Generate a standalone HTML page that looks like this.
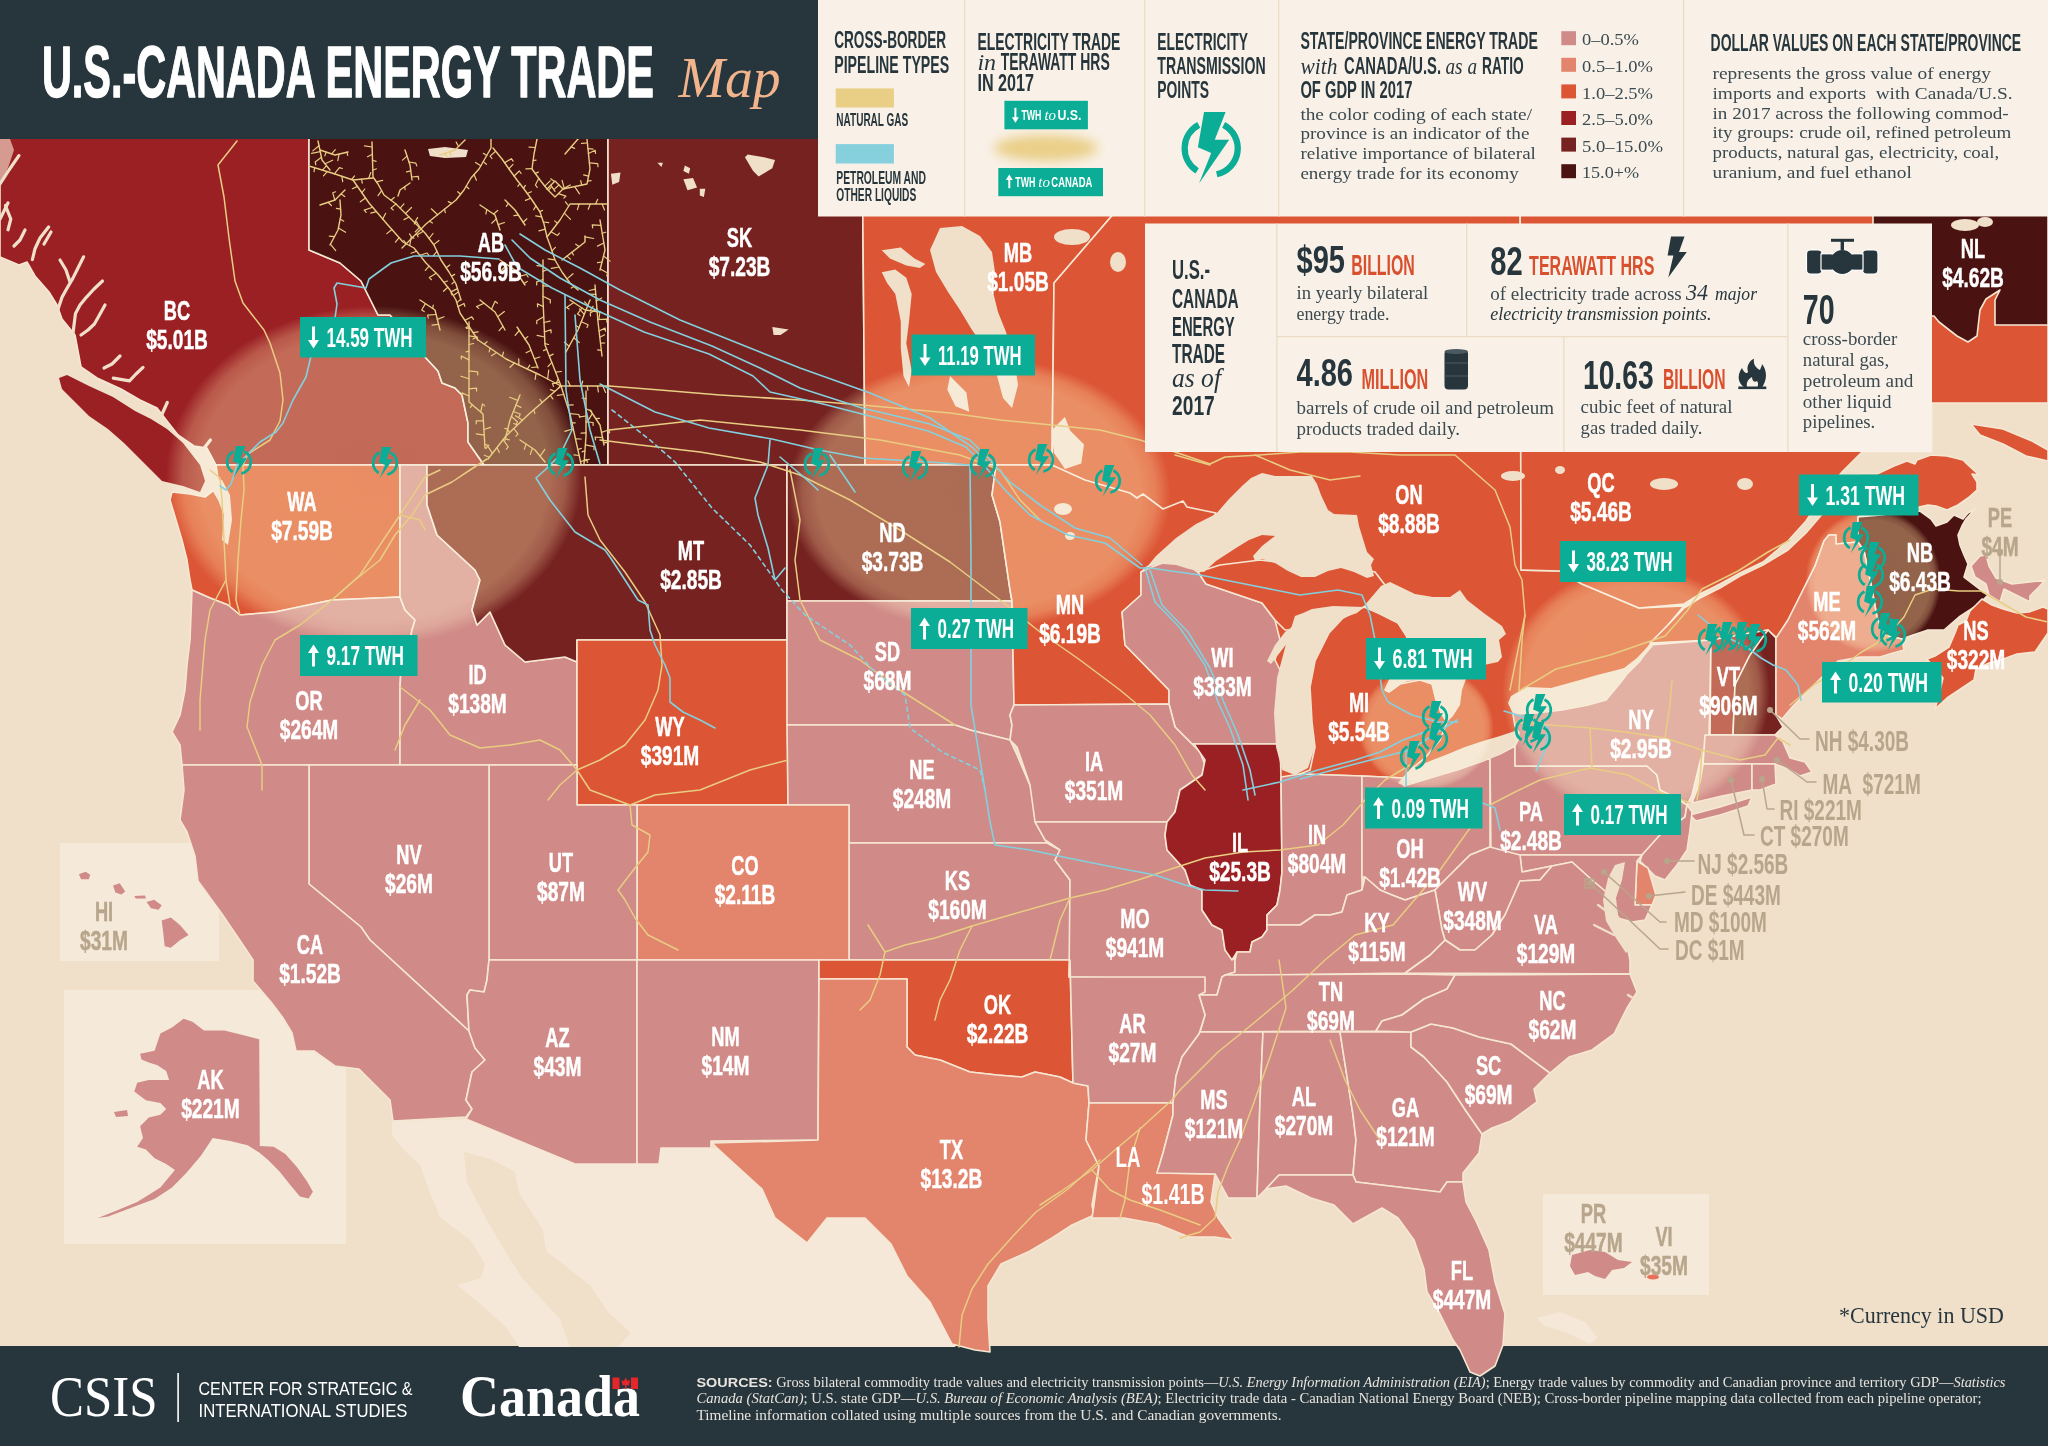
<!DOCTYPE html>
<html><head><meta charset="utf-8"><title>U.S.-Canada Energy Trade Map</title><style>html,body{margin:0;padding:0;background:#f0dfc9;}svg{display:block;}</style></head><body><svg xmlns="http://www.w3.org/2000/svg" width="2048" height="1446" viewBox="0 0 2048 1446"><rect x="0" y="0" width="2048" height="1446" fill="#f0dfc9"/>
<rect x="0" y="1346" width="2048" height="100" fill="#27363c"/>
<polygon points="392.0,1114.0 393.0,1121.0 466.0,1119.0 575.0,1164.0 637.0,1164.0 659.0,1164.0 661.0,1148.0 711.0,1148.0 717.0,1148.0 762.0,1189.0 775.0,1218.0 807.0,1243.0 827.0,1218.0 865.0,1218.0 891.0,1244.0 907.0,1276.0 930.0,1302.0 952.0,1344.0 956.0,1347.0 519.0,1347.0 505.0,1326.0 478.0,1302.0 457.0,1285.0 481.0,1278.0 485.0,1264.0 471.0,1241.0 440.0,1217.0 430.0,1193.0 420.0,1165.0 402.0,1148.0 392.0,1135.0" fill="#f5e8d8" />
<polygon points="464.0,1152.0 491.0,1159.0 515.0,1172.0 519.0,1193.0 543.0,1230.0 546.0,1251.0 590.0,1285.0 608.0,1312.0 631.0,1333.0 618.0,1347.0 570.0,1347.0 560.0,1319.0 522.0,1278.0 505.0,1251.0 485.0,1217.0 467.0,1182.0" fill="#f0dfc9" />
<polygon points="1537,1318 1560,1312 1585,1322 1598,1338 1590,1344 1565,1332 1545,1326" fill="#f5e8d8"/>
<rect x="60" y="843" width="159" height="118" fill="#f5e9da"/>
<rect x="64" y="990" width="282" height="254" fill="#f5e9da"/>
<rect x="1543" y="1194" width="166" height="101" fill="#f5e9da"/>
<polygon points="0.0,125.0 309.0,125.0 309.0,250.0 340.0,263.0 361.0,281.0 378.0,315.0 390.0,315.0 425.0,357.0 438.0,371.0 442.0,383.0 455.0,388.0 462.0,395.0 468.0,423.0 468.0,442.0 484.0,465.0 216.0,465.0 207.0,448.0 194.0,446.0 178.0,435.0 167.0,421.0 157.0,408.0 140.0,400.0 121.0,389.0 97.0,378.0 81.0,367.0 78.0,351.0 75.0,335.0 62.0,319.0 57.0,305.0 49.0,292.0 35.0,276.0 27.0,262.0 19.0,265.0 0.0,257.0" fill="#9b2024" stroke="#f6e7d3" stroke-width="1.6" stroke-linejoin="round" />
<polygon points="309.0,125.0 608.0,125.0 608.0,465.0 484.0,465.0 468.0,442.0 468.0,423.0 462.0,395.0 455.0,388.0 442.0,383.0 438.0,371.0 425.0,357.0 390.0,315.0 378.0,315.0 361.0,281.0 340.0,263.0 309.0,250.0" fill="#4a1312" stroke="#f6e7d3" stroke-width="1.6" stroke-linejoin="round" />
<polygon points="608.0,125.0 862.0,125.0 865.0,465.0 608.0,465.0" fill="#752221" stroke="#f6e7d3" stroke-width="1.6" stroke-linejoin="round" />
<polygon points="862.0,125.0 1190.0,125.0 1054.0,283.0 1052.0,465.0 865.0,465.0" fill="#dc5535" stroke="#f6e7d3" stroke-width="1.6" stroke-linejoin="round" />
<polygon points="1178.0,139.0 1520.0,139.0 1521.0,570.0 1560.0,571.0 1582.0,584.0 1639.0,608.0 1684.0,606.0 1668.0,625.0 1650.0,645.0 1620.0,690.0 1515.0,740.0 1400.0,790.0 1300.0,790.0 1200.0,760.0 1052.0,760.0 1052.0,465.0 1054.0,283.0" fill="#dc5535" stroke="#f6e7d3" stroke-width="1.6" stroke-linejoin="round" />
<polygon points="1520.0,139.0 2048.0,139.0 2048.0,403.0 1932.0,403.0 1932.0,452.0 1862.0,452.0 1860.0,454.0 1842.0,472.0 1824.0,494.0 1806.0,521.0 1788.0,541.0 1763.0,562.0 1740.0,573.0 1720.0,584.0 1700.0,594.0 1684.0,604.0 1639.0,608.0 1582.0,584.0 1560.0,571.0 1521.0,570.0" fill="#dc5535" stroke="#f6e7d3" stroke-width="1.6" stroke-linejoin="round" />
<polygon points="1650.0,643.0 1668.0,625.0 1684.0,608.0 1700.0,598.0 1720.0,588.0 1740.0,576.0 1763.0,565.0 1788.0,550.0 1806.0,533.0 1824.0,512.0 1842.0,489.0 1860.0,474.0 1877.0,474.0 1894.0,466.0 1907.0,461.0 1915.0,464.0 1917.0,460.0 1931.0,455.0 1947.0,456.0 1963.0,460.0 1968.0,465.0 1979.0,475.0 1972.0,474.0 1977.0,482.0 1977.0,490.0 1968.0,498.0 1958.0,505.0 1947.0,510.0 1936.0,506.0 1928.0,505.0 1919.0,507.0 1900.0,509.0 1880.0,511.0 1862.0,514.0 1858.0,517.0 1858.0,542.0 1836.0,544.0 1836.0,535.0 1829.0,535.0 1824.0,541.0 1815.0,566.0 1806.0,584.0 1788.0,620.0 1777.0,638.0 1768.0,630.0 1711.0,640.0" fill="#dc5535" stroke="#f6e7d3" stroke-width="1.6" stroke-linejoin="round" />
<polygon points="1971.0,424.0 2003.0,429.0 2032.0,441.0 2048.0,450.0 2048.0,461.0 2026.0,456.0 2003.0,444.0 1980.0,435.0" fill="#dc5535" stroke="#f6e7d3" stroke-width="1.6" stroke-linejoin="round" />
<polygon points="1873.0,139.0 2048.0,139.0 2048.0,325.0 1995.0,325.0 1995.0,300.0 2000.0,290.0 1986.0,299.0 1980.0,310.0 1977.0,336.0 1968.0,342.0 1957.0,336.0 1939.0,322.0 1934.0,316.0 1873.0,316.0" fill="#4a1312" stroke="#f6e7d3" stroke-width="1.6" stroke-linejoin="round" />
<polygon points="1858.0,517.0 1881.0,515.0 1894.0,513.0 1920.0,511.0 1931.0,519.0 1936.0,526.0 1947.0,522.0 1954.0,515.0 1963.0,519.0 1968.0,513.0 1975.0,509.0 1966.0,519.0 1962.0,526.0 1958.0,535.0 1960.0,545.0 1964.0,555.0 1968.0,564.0 1964.0,577.0 1981.0,590.0 1988.0,595.0 1979.0,604.0 1959.0,617.0 1944.0,630.0 1928.0,630.0 1913.0,635.0 1902.0,639.0 1884.0,635.0 1877.0,617.0 1871.0,584.0 1864.0,551.0 1858.0,542.0" fill="#4a1312" stroke="#f6e7d3" stroke-width="1.6" stroke-linejoin="round" />
<polygon points="1935.0,709.0 1939.0,695.0 1943.0,678.0 1927.0,659.0 1935.0,656.0 1949.0,647.0 1955.0,633.0 1958.0,625.0 1966.0,621.0 1970.0,611.0 1982.0,599.0 1992.0,605.0 2003.0,609.0 2017.0,613.0 2029.0,612.0 2043.0,607.0 2048.0,609.0 2048.0,633.0 2035.0,652.0 2017.0,654.0 2006.0,658.0 1989.0,663.0 1976.0,669.0 1974.0,680.0 1959.0,690.0 1947.0,698.0" fill="#dc5535" stroke="#f6e7d3" stroke-width="1.6" stroke-linejoin="round" />
<polygon points="1971.0,566.0 1980.0,556.0 1986.0,555.0 1989.0,566.0 1996.0,578.0 2012.0,584.0 2030.0,582.0 2045.0,580.0 2039.0,587.0 2030.0,596.0 2030.0,602.0 2016.0,595.0 2004.0,589.0 2000.0,602.0 1989.0,595.0 1986.0,584.0 1975.0,577.0" fill="#d08a87" stroke="#f6e7d3" stroke-width="1.6" stroke-linejoin="round" />
<polygon points="59.0,378.0 67.0,375.0 89.0,386.0 113.0,397.0 135.0,411.0 151.0,419.0 167.0,429.0 183.0,443.0 200.0,465.0 205.0,481.0 200.0,492.0 183.0,486.0 162.0,481.0 146.0,465.0 124.0,443.0 108.0,429.0 89.0,416.0 73.0,400.0 62.0,389.0" fill="#9b2024" />
<polygon points="0.0,139.0 10.0,139.0 14.0,150.0 9.0,165.0 4.0,178.0 0.0,182.0" fill="#d59a90" />
<polygon points="216.0,465.0 400.0,465.0 400.0,597.0 332.0,600.0 275.0,612.0 240.0,615.0 228.0,605.0 210.0,598.0 192.0,590.0 190.0,580.0 187.0,560.0 182.0,540.0 176.0,520.0 170.0,500.0 172.0,492.0 190.0,494.0 205.0,497.0 214.0,490.0 218.0,478.0" fill="#dc5535" stroke="#f6e7d3" stroke-width="1.6" stroke-linejoin="round" />
<polygon points="192.0,590.0 210.0,598.0 228.0,605.0 240.0,615.0 275.0,612.0 332.0,600.0 400.0,597.0 405.0,610.0 415.0,620.0 412.0,630.0 410.0,640.0 402.0,652.0 400.0,687.0 400.0,765.0 182.0,765.0 180.0,745.0 172.0,732.0 180.0,715.0 185.0,690.0 187.0,665.0 190.0,640.0" fill="#d08a87" stroke="#f6e7d3" stroke-width="1.6" stroke-linejoin="round" />
<polygon points="400.0,465.0 427.0,465.0 427.0,505.0 437.0,535.0 475.0,570.0 480.0,580.0 472.0,610.0 477.0,625.0 490.0,612.0 505.0,645.0 525.0,662.0 565.0,657.0 577.0,662.0 577.0,765.0 400.0,765.0 400.0,687.0 402.0,652.0 410.0,640.0 412.0,630.0 415.0,620.0 405.0,610.0 400.0,597.0" fill="#d08a87" stroke="#f6e7d3" stroke-width="1.6" stroke-linejoin="round" />
<polygon points="427.0,465.0 787.0,465.0 787.0,640.0 577.0,640.0 577.0,662.0 565.0,657.0 525.0,662.0 505.0,645.0 490.0,612.0 477.0,625.0 472.0,610.0 480.0,580.0 475.0,570.0 437.0,535.0 427.0,505.0" fill="#752221" stroke="#f6e7d3" stroke-width="1.6" stroke-linejoin="round" />
<polygon points="577.0,640.0 787.0,640.0 788.0,805.0 577.0,805.0" fill="#dc5535" stroke="#f6e7d3" stroke-width="1.6" stroke-linejoin="round" />
<polygon points="787.0,465.0 996.0,465.0 992.0,495.0 1000.0,522.0 1010.0,590.0 1012.0,601.0 787.0,601.0" fill="#752221" stroke="#f6e7d3" stroke-width="1.6" stroke-linejoin="round" />
<polygon points="787.0,601.0 1012.0,601.0 1014.0,705.0 1010.0,715.0 1012.0,725.0 1010.0,740.0 970.0,730.0 955.0,725.0 787.0,725.0" fill="#d08a87" stroke="#f6e7d3" stroke-width="1.6" stroke-linejoin="round" />
<polygon points="787.0,725.0 955.0,725.0 970.0,730.0 1010.0,740.0 1017.0,755.0 1032.0,790.0 1035.0,815.0 1047.0,843.0 849.0,843.0 849.0,805.0 788.0,805.0" fill="#d08a87" stroke="#f6e7d3" stroke-width="1.6" stroke-linejoin="round" />
<polygon points="849.0,843.0 1047.0,843.0 1060.0,850.0 1055.0,860.0 1070.0,880.0 1070.0,960.0 849.0,960.0" fill="#d08a87" stroke="#f6e7d3" stroke-width="1.6" stroke-linejoin="round" />
<polygon points="637.0,805.0 849.0,805.0 849.0,960.0 637.0,960.0" fill="#e3846c" stroke="#f6e7d3" stroke-width="1.6" stroke-linejoin="round" />
<polygon points="489.0,765.0 577.0,765.0 577.0,805.0 637.0,805.0 637.0,960.0 489.0,960.0" fill="#d08a87" stroke="#f6e7d3" stroke-width="1.6" stroke-linejoin="round" />
<polygon points="309.0,765.0 489.0,765.0 489.0,960.0 487.0,980.0 484.0,992.0 470.0,990.0 467.0,995.0 469.0,1031.0 370.0,940.0 361.0,927.0 309.0,884.0" fill="#d08a87" stroke="#f6e7d3" stroke-width="1.6" stroke-linejoin="round" />
<polygon points="182.0,765.0 309.0,765.0 309.0,884.0 361.0,927.0 370.0,940.0 469.0,1031.0 475.0,1048.0 485.0,1060.0 472.0,1072.0 466.0,1100.0 472.0,1109.0 466.0,1117.0 393.0,1121.0 390.0,1100.0 359.0,1069.0 335.0,1066.0 314.0,1051.0 296.0,1051.0 292.0,1033.0 283.0,1018.0 271.0,1002.0 253.0,981.0 253.0,960.0 241.0,942.0 222.0,914.0 198.0,881.0 195.0,856.0 187.0,832.0 180.0,820.0 184.0,790.0" fill="#d08a87" stroke="#f6e7d3" stroke-width="1.6" stroke-linejoin="round" />
<polygon points="489.0,960.0 637.0,960.0 637.0,1164.0 575.0,1164.0 466.0,1119.0 472.0,1109.0 466.0,1100.0 472.0,1072.0 485.0,1060.0 475.0,1048.0 469.0,1031.0 467.0,995.0 470.0,990.0 484.0,992.0 487.0,980.0" fill="#d08a87" stroke="#f6e7d3" stroke-width="1.6" stroke-linejoin="round" />
<polygon points="637.0,960.0 819.0,960.0 818.0,1140.0 711.0,1141.0 711.0,1148.0 661.0,1148.0 659.0,1164.0 637.0,1164.0" fill="#d08a87" stroke="#f6e7d3" stroke-width="1.6" stroke-linejoin="round" />
<polygon points="819.0,960.0 1070.0,960.0 1073.0,1083.0 1060.0,1077.0 1035.0,1072.0 1022.0,1077.0 997.0,1075.0 970.0,1072.0 940.0,1060.0 915.0,1055.0 907.0,1047.0 907.0,979.0 819.0,979.0" fill="#dc5535" stroke="#f6e7d3" stroke-width="1.6" stroke-linejoin="round" />
<polygon points="819.0,979.0 907.0,979.0 907.0,1047.0 915.0,1055.0 940.0,1060.0 970.0,1072.0 997.0,1075.0 1022.0,1077.0 1035.0,1072.0 1060.0,1077.0 1073.0,1083.0 1088.0,1086.0 1089.0,1103.0 1086.0,1140.0 1099.0,1166.0 1092.0,1205.0 1094.0,1215.0 1072.0,1225.0 1052.0,1238.0 1030.0,1251.0 1001.0,1264.0 988.0,1286.0 988.0,1318.0 990.0,1352.0 975.0,1350.0 952.0,1344.0 930.0,1302.0 907.0,1276.0 891.0,1244.0 865.0,1218.0 827.0,1218.0 807.0,1243.0 775.0,1218.0 762.0,1189.0 717.0,1148.0 712.0,1143.0 818.0,1140.0" fill="#e3846c" stroke="#f6e7d3" stroke-width="1.6" stroke-linejoin="round" />
<polygon points="996.0,465.0 1052.0,465.0 1085.0,480.0 1130.0,493.0 1137.0,498.0 1143.0,494.0 1163.0,509.0 1183.0,501.0 1187.0,507.0 1216.0,513.0 1200.0,540.0 1147.0,567.0 1141.0,572.0 1141.0,595.0 1122.0,612.0 1125.0,645.0 1169.0,690.0 1169.0,704.0 1014.0,705.0 1012.0,601.0 1010.0,590.0 1000.0,522.0 992.0,495.0" fill="#dc5535" stroke="#f6e7d3" stroke-width="1.6" stroke-linejoin="round" />
<polygon points="1141.0,572.0 1147.0,569.0 1170.0,560.0 1183.0,562.0 1198.0,572.0 1206.0,584.0 1262.0,603.0 1275.0,620.0 1280.0,640.0 1275.0,660.0 1280.0,670.0 1280.0,744.0 1192.0,744.0 1175.0,727.0 1169.0,704.0 1169.0,690.0 1125.0,645.0 1122.0,612.0 1141.0,595.0" fill="#d08a87" stroke="#f6e7d3" stroke-width="1.6" stroke-linejoin="round" />
<polygon points="1198.0,572.0 1220.0,565.0 1260.0,560.0 1300.0,565.0 1340.0,565.0 1375.0,572.0 1385.0,585.0 1375.0,600.0 1364.0,607.0 1345.0,615.0 1330.0,630.0 1315.0,640.0 1298.0,630.0 1285.0,630.0 1275.0,620.0 1262.0,603.0 1206.0,584.0" fill="#dc5535" stroke="#f6e7d3" stroke-width="1.6" stroke-linejoin="round" />
<polygon points="1300.0,774.0 1310.0,770.0 1315.0,747.0 1312.0,722.0 1310.0,687.0 1315.0,661.0 1329.0,633.0 1343.0,618.0 1364.0,607.0 1378.0,613.0 1398.0,623.0 1407.0,637.0 1402.0,650.0 1392.0,675.0 1385.0,690.0 1389.0,692.0 1400.0,684.0 1420.0,680.0 1432.0,684.0 1436.0,700.0 1441.0,713.0 1447.0,722.0 1440.0,740.0 1425.0,758.0 1410.0,770.0 1404.0,778.0 1362.0,776.0" fill="#dc5535" stroke="#f6e7d3" stroke-width="1.6" stroke-linejoin="round" />
<polygon points="1014.0,705.0 1169.0,704.0 1175.0,727.0 1200.0,752.0 1205.0,765.0 1202.0,775.0 1180.0,790.0 1175.0,812.0 1167.0,822.0 1035.0,822.0 1030.0,785.0 1017.0,747.0 1010.0,740.0 1012.0,725.0 1010.0,715.0" fill="#d08a87" stroke="#f6e7d3" stroke-width="1.6" stroke-linejoin="round" />
<polygon points="1035.0,822.0 1167.0,822.0 1165.0,835.0 1167.0,850.0 1185.0,870.0 1190.0,885.0 1202.0,890.0 1202.0,910.0 1212.0,925.0 1222.0,930.0 1225.0,950.0 1235.0,960.0 1235.0,972.0 1222.0,977.0 1217.0,995.0 1195.0,995.0 1202.0,992.0 1205.0,980.0 1069.0,977.0 1070.0,880.0 1055.0,860.0 1060.0,850.0 1045.0,840.0" fill="#d08a87" stroke="#f6e7d3" stroke-width="1.6" stroke-linejoin="round" />
<polygon points="1194.0,744.0 1280.0,744.0 1281.0,777.0 1282.0,872.0 1280.0,890.0 1277.0,905.0 1267.0,915.0 1267.0,930.0 1262.0,937.0 1252.0,942.0 1250.0,952.0 1237.0,952.0 1232.0,960.0 1225.0,950.0 1222.0,930.0 1212.0,925.0 1202.0,910.0 1202.0,890.0 1190.0,885.0 1185.0,870.0 1167.0,850.0 1165.0,835.0 1167.0,822.0 1175.0,812.0 1180.0,790.0 1202.0,775.0 1205.0,760.0" fill="#9b2024" stroke="#f6e7d3" stroke-width="1.6" stroke-linejoin="round" />
<polygon points="1281.0,777.0 1300.0,774.0 1362.0,776.0 1362.0,890.0 1347.0,895.0 1342.0,912.0 1330.0,915.0 1315.0,915.0 1300.0,925.0 1267.0,925.0 1267.0,915.0 1277.0,905.0 1280.0,890.0 1282.0,872.0" fill="#d08a87" stroke="#f6e7d3" stroke-width="1.6" stroke-linejoin="round" />
<polygon points="1362.0,776.0 1404.0,778.0 1404.0,786.0 1430.0,778.0 1457.0,770.0 1483.0,761.0 1490.0,758.0 1490.0,847.0 1470.0,855.0 1455.0,870.0 1435.0,890.0 1420.0,895.0 1405.0,900.0 1392.0,895.0 1380.0,890.0 1365.0,877.0 1362.0,877.0" fill="#d08a87" stroke="#f6e7d3" stroke-width="1.6" stroke-linejoin="round" />
<polygon points="1490.0,758.0 1500.0,754.0 1515.0,746.0 1515.0,766.0 1647.0,766.0 1657.0,775.0 1660.0,790.0 1680.0,800.0 1687.0,805.0 1685.0,817.0 1660.0,835.0 1642.0,855.0 1491.0,855.0" fill="#d08a87" stroke="#f6e7d3" stroke-width="1.6" stroke-linejoin="round" />
<polygon points="1515.0,746.0 1518.0,740.0 1519.0,733.0 1515.0,726.0 1513.0,714.0 1536.0,713.0 1562.0,710.0 1588.0,705.0 1606.0,700.0 1621.0,682.0 1627.0,674.0 1640.0,661.0 1650.0,645.0 1711.0,640.0 1710.0,700.0 1709.0,735.0 1700.0,762.0 1692.0,795.0 1687.0,805.0 1680.0,800.0 1660.0,790.0 1657.0,775.0 1647.0,766.0 1515.0,766.0" fill="#d08a87" stroke="#f6e7d3" stroke-width="1.6" stroke-linejoin="round" />
<polygon points="1690.0,815.0 1720.0,807.0 1752.0,797.0 1748.0,806.0 1720.0,815.0 1696.0,821.0" fill="#d08a87" stroke="#f6e7d3" stroke-width="1.6" stroke-linejoin="round" />
<polygon points="1711.0,640.0 1768.0,630.0 1750.0,655.0 1735.0,685.0 1733.0,735.0 1710.0,735.0" fill="#9b2024" stroke="#f6e7d3" stroke-width="1.6" stroke-linejoin="round" />
<polygon points="1768.0,630.0 1776.0,638.0 1776.0,715.0 1783.0,727.0 1775.0,735.0 1733.0,735.0 1735.0,685.0 1750.0,655.0" fill="#752221" stroke="#f6e7d3" stroke-width="1.6" stroke-linejoin="round" />
<polygon points="1776.0,638.0 1788.0,620.0 1806.0,584.0 1815.0,566.0 1824.0,541.0 1829.0,535.0 1836.0,535.0 1836.0,544.0 1858.0,542.0 1864.0,551.0 1871.0,584.0 1877.0,617.0 1884.0,635.0 1902.0,639.0 1904.0,650.0 1893.0,653.0 1880.0,657.0 1860.0,657.0 1838.0,661.0 1815.0,684.0 1804.0,695.0 1793.0,706.0 1782.0,719.0 1776.0,715.0" fill="#e3846c" stroke="#f6e7d3" stroke-width="1.6" stroke-linejoin="round" />
<polygon points="1705.0,735.0 1775.0,735.0 1783.0,742.0 1790.0,758.0 1805.0,762.0 1812.0,772.0 1800.0,776.0 1790.0,770.0 1775.0,764.0 1703.0,764.0" fill="#d08a87" stroke="#f6e7d3" stroke-width="1.6" stroke-linejoin="round" />
<polygon points="1703.0,764.0 1752.0,764.0 1752.0,790.0 1722.0,796.0 1692.0,803.0 1700.0,782.0" fill="#d08a87" stroke="#f6e7d3" stroke-width="1.6" stroke-linejoin="round" />
<polygon points="1752.0,764.0 1775.0,764.0 1776.0,784.0 1760.0,790.0 1752.0,790.0" fill="#d08a87" stroke="#f6e7d3" stroke-width="1.6" stroke-linejoin="round" />
<polygon points="1642.0,855.0 1660.0,835.0 1685.0,817.0 1687.0,805.0 1692.0,812.0 1690.0,830.0 1687.0,850.0 1677.0,865.0 1665.0,880.0 1655.0,876.0 1640.0,861.0" fill="#d08a87" stroke="#f6e7d3" stroke-width="1.6" stroke-linejoin="round" />
<polygon points="1637.0,861.0 1648.0,868.0 1656.0,895.0 1652.0,905.0 1635.0,905.0" fill="#e3846c" stroke="#f6e7d3" stroke-width="1.6" stroke-linejoin="round" />
<polygon points="1520.0,855.0 1642.0,855.0 1637.0,861.0 1635.0,905.0 1652.0,905.0 1645.0,920.0 1632.0,922.0 1618.0,918.0 1612.0,897.0 1592.0,880.0 1572.0,862.0 1552.0,866.0 1522.0,872.0" fill="#d08a87" stroke="#f6e7d3" stroke-width="1.6" stroke-linejoin="round" />
<polygon points="1490.0,847.0 1520.0,855.0 1522.0,872.0 1552.0,866.0 1540.0,880.0 1520.0,881.0 1505.0,915.0 1492.0,935.0 1475.0,950.0 1460.0,950.0 1445.0,940.0 1442.0,930.0 1435.0,890.0 1455.0,870.0 1470.0,855.0" fill="#d08a87" stroke="#f6e7d3" stroke-width="1.6" stroke-linejoin="round" />
<polygon points="1405.0,973.0 1430.0,955.0 1445.0,940.0 1460.0,950.0 1475.0,950.0 1492.0,935.0 1505.0,915.0 1520.0,881.0 1540.0,880.0 1552.0,866.0 1572.0,862.0 1592.0,880.0 1612.0,897.0 1618.0,918.0 1625.0,935.0 1630.0,960.0 1630.0,974.0" fill="#d08a87" stroke="#f6e7d3" stroke-width="1.6" stroke-linejoin="round" />
<polygon points="1235.0,960.0 1237.0,952.0 1250.0,952.0 1252.0,942.0 1262.0,937.0 1267.0,930.0 1267.0,925.0 1300.0,925.0 1315.0,915.0 1330.0,915.0 1342.0,912.0 1347.0,895.0 1362.0,890.0 1365.0,877.0 1380.0,890.0 1392.0,895.0 1405.0,900.0 1420.0,895.0 1435.0,890.0 1442.0,930.0 1445.0,940.0 1430.0,955.0 1405.0,973.0 1265.0,975.0 1225.0,975.0 1235.0,972.0" fill="#d08a87" stroke="#f6e7d3" stroke-width="1.6" stroke-linejoin="round" />
<polygon points="1225.0,975.0 1405.0,974.0 1455.0,975.0 1447.0,989.0 1424.0,999.0 1402.0,1015.0 1382.0,1021.0 1376.0,1031.0 1200.0,1032.0 1205.0,1015.0 1199.0,995.0 1217.0,995.0 1222.0,977.0" fill="#d08a87" stroke="#f6e7d3" stroke-width="1.6" stroke-linejoin="round" />
<polygon points="1069.0,977.0 1205.0,977.0 1205.0,992.0 1199.0,995.0 1205.0,1015.0 1199.0,1034.0 1182.0,1057.0 1176.0,1076.0 1173.0,1103.0 1089.0,1103.0 1088.0,1086.0 1073.0,1083.0 1070.0,960.0" fill="#d08a87" stroke="#f6e7d3" stroke-width="1.6" stroke-linejoin="round" />
<polygon points="1089.0,1103.0 1173.0,1103.0 1173.0,1115.0 1163.0,1153.0 1157.0,1173.0 1215.0,1174.0 1211.0,1202.0 1218.0,1218.0 1234.0,1240.0 1215.0,1237.0 1189.0,1237.0 1157.0,1224.0 1124.0,1218.0 1092.0,1218.0 1094.0,1205.0 1099.0,1166.0 1086.0,1140.0" fill="#e3846c" stroke="#f6e7d3" stroke-width="1.6" stroke-linejoin="round" />
<polygon points="1200.0,1032.0 1263.0,1032.0 1260.0,1100.0 1257.0,1198.0 1228.0,1198.0 1215.0,1174.0 1157.0,1173.0 1163.0,1153.0 1173.0,1115.0 1173.0,1103.0 1176.0,1076.0 1182.0,1057.0 1199.0,1034.0" fill="#d08a87" stroke="#f6e7d3" stroke-width="1.6" stroke-linejoin="round" />
<polygon points="1263.0,1032.0 1340.0,1032.0 1353.0,1115.0 1356.0,1140.0 1353.0,1175.0 1279.0,1175.0 1266.0,1189.0 1257.0,1198.0 1260.0,1100.0" fill="#d08a87" stroke="#f6e7d3" stroke-width="1.6" stroke-linejoin="round" />
<polygon points="1340.0,1032.0 1411.0,1032.0 1411.0,1047.0 1424.0,1057.0 1447.0,1082.0 1466.0,1111.0 1482.0,1134.0 1479.0,1153.0 1463.0,1173.0 1463.0,1182.0 1447.0,1182.0 1440.0,1192.0 1356.0,1182.0 1353.0,1175.0 1356.0,1140.0 1353.0,1115.0" fill="#d08a87" stroke="#f6e7d3" stroke-width="1.6" stroke-linejoin="round" />
<polygon points="1279.0,1175.0 1353.0,1175.0 1356.0,1182.0 1440.0,1192.0 1447.0,1182.0 1463.0,1182.0 1466.0,1202.0 1476.0,1221.0 1489.0,1250.0 1495.0,1282.0 1505.0,1314.0 1503.0,1345.0 1495.0,1366.0 1480.0,1376.0 1470.0,1372.0 1460.0,1350.0 1453.0,1340.0 1440.0,1314.0 1427.0,1292.0 1424.0,1269.0 1414.0,1240.0 1398.0,1218.0 1382.0,1208.0 1353.0,1224.0 1334.0,1205.0 1311.0,1198.0 1286.0,1186.0 1266.0,1189.0" fill="#d08a87" stroke="#f6e7d3" stroke-width="1.6" stroke-linejoin="round" />
<polygon points="1411.0,1032.0 1431.0,1024.0 1453.0,1028.0 1479.0,1037.0 1511.0,1044.0 1550.0,1073.0 1534.0,1089.0 1537.0,1102.0 1511.0,1121.0 1492.0,1128.0 1482.0,1134.0 1466.0,1111.0 1447.0,1082.0 1424.0,1057.0 1411.0,1047.0" fill="#d08a87" stroke="#f6e7d3" stroke-width="1.6" stroke-linejoin="round" />
<polygon points="1455.0,975.0 1630.0,974.0 1637.0,992.0 1627.0,1008.0 1614.0,1034.0 1592.0,1050.0 1569.0,1057.0 1550.0,1073.0 1511.0,1044.0 1479.0,1037.0 1453.0,1028.0 1431.0,1024.0 1411.0,1032.0 1376.0,1031.0 1382.0,1021.0 1402.0,1015.0 1424.0,999.0 1447.0,989.0" fill="#d08a87" stroke="#f6e7d3" stroke-width="1.6" stroke-linejoin="round" />
<polygon points="140.1,1053.7 154.6,1050.8 160.4,1033.4 172.0,1027.6 183.6,1018.8 192.4,1021.7 204.0,1030.5 224.3,1030.5 247.6,1036.3 259.2,1039.2 259.8,1146.1 273.7,1146.7 285.3,1153.9 296.9,1167.0 307.1,1181.5 312.9,1191.7 308.6,1198.4 299.9,1196.6 291.1,1185.9 279.5,1171.4 267.9,1159.8 259.2,1152.5 247.6,1145.2 230.1,1140.9 212.7,1138.0 201.1,1155.4 186.5,1172.8 172.0,1187.4 154.6,1199.0 131.3,1207.7 108.1,1216.4 97.9,1217.9 116.8,1210.6 137.2,1201.9 160.4,1187.4 174.9,1169.9 166.2,1164.1 154.6,1158.3 145.9,1149.6 137.2,1146.7 143.0,1138.0 140.1,1126.3 148.8,1117.6 160.4,1114.7 166.2,1108.9 160.4,1103.1 145.9,1100.2 134.3,1091.5 137.2,1082.8 148.8,1079.9 160.4,1079.9 169.1,1079.9 166.2,1071.1 157.5,1065.3 148.8,1062.4 141.5,1059.5" fill="#d08a87" />
<polygon points="114.0,1112.0 127.0,1110.0 128.0,1116.0 116.0,1117.0" fill="#d08a87" />
<polygon points="161.7,920.4 170.8,917.4 179.9,925.0 188.5,935.0 179.9,940.2 170.8,947.8 164.7,946.3 163.2,932.6" fill="#d08a87" />
<polygon points="146.5,902.1 154.1,899.7 161.7,905.2 158.6,909.7 151.0,908.2" fill="#d08a87" />
<polygon points="134.3,896.1 145.0,895.4 145.9,898.5 135.8,898.5" fill="#d08a87" />
<polygon points="113.0,885.4 119.7,883.3 125.2,891.5 121.5,894.5 115.4,892.4" fill="#d08a87" />
<polygon points="78.9,874.2 85.6,871.7 90.2,874.8 88.7,879.3 81.1,879.3" fill="#d08a87" />
<polygon points="1572.0,1255.0 1590.0,1250.0 1605.0,1252.0 1618.0,1260.0 1632.0,1262.0 1624.0,1268.0 1612.0,1270.0 1605.0,1279.0 1595.0,1276.0 1588.0,1272.0 1575.0,1275.0 1570.0,1266.0" fill="#d08a87" />
<ellipse cx="1653" cy="1277" rx="6" ry="2.5" fill="#e8705a"/>
<polygon points="1147.0,567.0 1156.0,556.0 1176.0,538.0 1196.0,524.0 1216.0,514.0 1229.0,499.0 1242.0,486.0 1251.0,478.0 1262.0,473.0 1275.0,476.0 1288.0,476.0 1312.0,476.0 1317.0,484.0 1321.0,495.0 1328.0,510.0 1334.0,514.0 1357.0,515.0 1359.0,526.0 1363.0,539.0 1367.0,552.0 1374.0,559.0 1371.0,565.0 1374.0,576.0 1367.0,578.0 1354.0,572.0 1341.0,568.0 1328.0,571.0 1315.0,577.0 1301.0,577.0 1288.0,571.0 1275.0,563.0 1262.0,559.0 1255.0,561.0 1253.0,556.0 1262.0,546.0 1275.0,536.0 1262.0,535.0 1249.0,540.0 1236.0,548.0 1216.0,561.0 1204.0,572.0 1189.0,569.0 1176.0,565.0 1163.0,564.0" fill="#f0dfc9" />
<polygon points="1295.0,616.0 1286.0,644.0 1277.0,678.0 1274.0,713.0 1276.0,747.0 1282.0,770.0 1295.0,775.0 1308.0,768.0 1315.0,747.0 1312.0,722.0 1310.0,687.0 1315.0,661.0 1329.0,633.0 1343.0,618.0 1357.0,613.0 1364.0,607.0 1333.0,606.0 1312.0,609.0 1303.0,613.0" fill="#f0dfc9" />
<polygon points="1267.0,661.0 1275.0,645.0 1285.0,632.0 1296.0,624.0 1298.0,630.0 1288.0,642.0 1278.0,655.0 1271.0,664.0" fill="#f0dfc9" />
<polygon points="1364.0,606.0 1381.0,586.0 1390.0,582.0 1415.0,594.0 1433.0,597.0 1450.0,597.0 1460.0,590.0 1467.0,600.0 1485.0,614.0 1502.0,626.0 1506.0,634.0 1499.0,640.0 1502.0,657.0 1498.0,662.0 1470.0,668.0 1462.0,690.0 1460.0,705.0 1453.0,716.0 1447.0,722.0 1441.0,713.0 1436.0,700.0 1432.0,684.0 1420.0,680.0 1408.0,681.0 1400.0,684.0 1389.0,692.0 1385.0,690.0 1392.0,675.0 1402.0,650.0 1407.0,637.0 1398.0,623.0 1378.0,613.0" fill="#f0dfc9" />
<polygon points="1398.0,783.0 1404.0,776.0 1413.0,768.0 1430.0,761.0 1448.0,754.0 1465.0,747.0 1483.0,741.0 1500.0,736.0 1515.0,731.0 1519.0,733.0 1518.0,740.0 1500.0,754.0 1483.0,761.0 1457.0,770.0 1430.0,778.0 1404.0,786.0" fill="#f0dfc9" />
<polygon points="1508.0,703.0 1511.0,696.0 1527.0,687.0 1551.0,688.0 1580.0,680.0 1597.0,675.0 1617.0,670.0 1624.0,668.0 1637.0,658.0 1650.0,644.0 1653.0,646.0 1640.0,661.0 1627.0,674.0 1621.0,682.0 1606.0,700.0 1588.0,705.0 1562.0,710.0 1536.0,713.0 1513.0,714.0" fill="#f0dfc9" />
<polygon points="940.0,228.0 962.0,226.0 980.0,236.0 992.0,252.0 995.0,272.0 993.0,292.0 998.0,312.0 1006.0,332.0 1014.0,358.0 1018.0,385.0 1012.0,408.0 1003.0,398.0 996.0,372.0 986.0,350.0 972.0,330.0 960.0,310.0 948.0,292.0 936.0,272.0 930.0,250.0" fill="#f0dfc9" />
<polygon points="950.0,376.1 966.4,392.5 969.2,411.7 955.5,406.2 947.3,389.8" fill="#f0dfc9" />
<polygon points="881.7,272.2 895.3,269.5 906.3,277.7 911.7,294.1 909.0,321.4 906.3,343.3 911.7,370.6 909.0,387.0 903.5,376.1 900.8,348.8 900.8,321.4 895.3,294.1 887.1,283.1" fill="#f0dfc9" />
<polygon points="881.7,250.3 900.8,247.6 914.5,258.5 925.4,264.0 919.9,268.1 906.3,265.4 889.9,258.5" fill="#f0dfc9" />
<polygon points="1051.2,430.8 1064.9,417.1 1070.3,430.8 1084.0,444.5 1081.3,463.6 1064.9,469.1 1053.9,452.7" fill="#f0dfc9" />
<polygon points="747.7,154.6 764.1,157.3 775.0,160.1 772.3,168.3 758.6,176.5 753.1,171.0 744.9,157.3" fill="#f0dfc9" />
<polygon points="428.0,149.0 445.0,147.0 468.0,150.0 466.0,157.0 445.0,158.0 430.0,156.0" fill="#f0dfc9" />
<polygon points="214.0,478.0 222.0,480.0 230.0,495.0 232.0,520.0 228.0,545.0 222.0,540.0 224.0,515.0 218.0,500.0 212.0,490.0" fill="#f0dfc9" />
<polygon points="684.8,165.5 690.2,168.3 688.9,173.8 683.4,171.0" fill="#f0dfc9" />
<polygon points="683.4,179.2 693.0,177.9 697.1,187.4 687.5,190.2" fill="#f0dfc9" />
<polygon points="657.4,162.8 662.9,162.8 661.5,166.9" fill="#f0dfc9" />
<polygon points="772.3,326.9 788.7,329.6 780.5,335.1 773.6,335.1" fill="#f0dfc9" />
<polygon points="699.8,188.8 705.3,188.8 703.9,197.0 699.8,195.6" fill="#f0dfc9" />
<polygon points="610.9,173.8 620.5,172.4 619.1,182.0 612.3,184.7" fill="#f0dfc9" />
<polyline points="18.9,155.6 9.0,170.0 0.0,184.0" fill="none" stroke="#f0dfc9" stroke-width="3.2" stroke-linejoin="round" stroke-linecap="round" />
<polyline points="8.0,203.0 0.0,219.0" fill="none" stroke="#f0dfc9" stroke-width="3.2" stroke-linejoin="round" stroke-linecap="round" />
<polyline points="5.4,205.5 10.8,219.0 8.0,229.8" fill="none" stroke="#f0dfc9" stroke-width="3.2" stroke-linejoin="round" stroke-linecap="round" />
<polyline points="48.6,227.0 40.0,238.0 35.0,248.7 32.4,259.5" fill="none" stroke="#f0dfc9" stroke-width="3.2" stroke-linejoin="round" stroke-linecap="round" />
<polyline points="51.0,232.0 44.0,244.0" fill="none" stroke="#f0dfc9" stroke-width="3.2" stroke-linejoin="round" stroke-linecap="round" />
<polyline points="83.6,256.8 78.0,268.0 72.8,278.4 66.0,290.0 62.0,297.3 56.6,313.4" fill="none" stroke="#f0dfc9" stroke-width="3.2" stroke-linejoin="round" stroke-linecap="round" />
<polyline points="102.5,281.0 94.0,289.0 86.3,297.3 80.0,305.0 75.5,313.4 74.0,325.0 72.8,335.0" fill="none" stroke="#f0dfc9" stroke-width="3.2" stroke-linejoin="round" stroke-linecap="round" />
<polyline points="105.0,305.0 100.0,314.0 94.4,324.0 88.0,330.0 81.0,335.0" fill="none" stroke="#f0dfc9" stroke-width="3.2" stroke-linejoin="round" stroke-linecap="round" />
<polyline points="143.0,367.4 136.0,374.0 129.5,380.9 113.3,378.2" fill="none" stroke="#f0dfc9" stroke-width="3.2" stroke-linejoin="round" stroke-linecap="round" />
<polyline points="167.3,402.5 163.0,412.0 159.0,421.3" fill="none" stroke="#f0dfc9" stroke-width="3.2" stroke-linejoin="round" stroke-linecap="round" />
<polyline points="210.4,440.0 205.0,447.0 199.6,453.7" fill="none" stroke="#f0dfc9" stroke-width="3.2" stroke-linejoin="round" stroke-linecap="round" />
<polyline points="120.0,356.0 112.0,364.0 104.0,368.0" fill="none" stroke="#f0dfc9" stroke-width="3.2" stroke-linejoin="round" stroke-linecap="round" />
<polyline points="60.0,260.0 66.0,270.0 70.0,282.0" fill="none" stroke="#f0dfc9" stroke-width="3.2" stroke-linejoin="round" stroke-linecap="round" />
<polyline points="25.0,230.0 20.0,240.0 14.0,246.0" fill="none" stroke="#f0dfc9" stroke-width="3.2" stroke-linejoin="round" stroke-linecap="round" />
<polygon points="1615.0,865.0 1625.0,862.0 1622.0,880.0 1616.0,898.0 1618.0,915.0 1625.0,928.0 1631.0,948.0 1626.0,953.0 1616.0,938.0 1606.0,921.0 1603.0,900.0 1608.0,878.0" fill="#f0dfc9" />
<polyline points="1598.0,905.0 1612.0,915.0" fill="none" stroke="#f0dfc9" stroke-width="2.2" stroke-linejoin="round" stroke-linecap="round" />
<polyline points="1594.0,925.0 1614.0,935.0" fill="none" stroke="#f0dfc9" stroke-width="2.2" stroke-linejoin="round" stroke-linecap="round" />
<polyline points="1628.0,995.0 1636.0,1000.0 1632.0,1008.0" fill="none" stroke="#f0dfc9" stroke-width="2.5" stroke-linejoin="round" stroke-linecap="round" />
<ellipse cx="1063" cy="509" rx="9" ry="6" fill="#f0dfc9"/>
<ellipse cx="1070" cy="536" rx="5" ry="4" fill="#f0dfc9"/>
<ellipse cx="1072" cy="237" rx="18" ry="8" fill="#f0dfc9"/>
<ellipse cx="1118" cy="262" rx="8" ry="10" fill="#f0dfc9"/>
<ellipse cx="1513" cy="476" rx="12" ry="5" fill="#f0dfc9"/>
<ellipse cx="1664" cy="484" rx="14" ry="6" fill="#f0dfc9"/>
<ellipse cx="1745" cy="484" rx="8" ry="6" fill="#f0dfc9"/>
<ellipse cx="1560" cy="470" rx="5" ry="4" fill="#f0dfc9"/>
<ellipse cx="1965" cy="225" rx="14" ry="6" fill="#f0dfc9"/>
<ellipse cx="1985" cy="222" rx="8" ry="5" fill="#f0dfc9"/>
<defs><radialGradient id="gl" cx="0.5" cy="0.5" r="0.5"><stop offset="0" stop-color="#f0c88c" stop-opacity="0.42"/><stop offset="0.84" stop-color="#f0c88c" stop-opacity="0.43"/><stop offset="0.92" stop-color="#f0c88c" stop-opacity="0.32"/><stop offset="1" stop-color="#f0c88c" stop-opacity="0"/></radialGradient></defs>
<ellipse cx="374" cy="476" rx="208" ry="170" fill="url(#gl)" style="mix-blend-mode:screen"/>
<ellipse cx="979" cy="494" rx="192" ry="137" fill="url(#gl)" style="mix-blend-mode:screen"/>
<ellipse cx="1426" cy="728" rx="68" ry="62" fill="url(#gl)" style="mix-blend-mode:screen"/>
<ellipse cx="1636" cy="692" rx="134" ry="126" fill="url(#gl)" style="mix-blend-mode:screen"/>
<ellipse cx="1873" cy="581" rx="68" ry="72" fill="url(#gl)" style="mix-blend-mode:screen"/>
<polyline points="309.0,166.0 335.0,174.0 353.0,180.0 373.0,178.0" fill="none" stroke="#e8cd82" stroke-width="1.4" stroke-linejoin="round" stroke-linecap="round" />
<polyline points="314.6,167.7 314.0,171.6" fill="none" stroke="#e8cd82" stroke-width="1.2" stroke-linejoin="round" stroke-linecap="round" />
<polyline points="322.4,170.1 325.9,166.3" fill="none" stroke="#e8cd82" stroke-width="1.2" stroke-linejoin="round" stroke-linecap="round" />
<polyline points="327.2,171.6 323.5,175.8" fill="none" stroke="#e8cd82" stroke-width="1.2" stroke-linejoin="round" stroke-linecap="round" />
<polyline points="334.4,173.8 339.4,167.6 342.3,168.5" fill="none" stroke="#e8cd82" stroke-width="1.2" stroke-linejoin="round" stroke-linecap="round" />
<polyline points="341.9,176.3 342.7,181.6" fill="none" stroke="#e8cd82" stroke-width="1.2" stroke-linejoin="round" stroke-linecap="round" />
<polyline points="351.6,179.5 354.6,175.9" fill="none" stroke="#e8cd82" stroke-width="1.2" stroke-linejoin="round" stroke-linecap="round" />
<polyline points="361.5,179.1 362.3,183.2" fill="none" stroke="#e8cd82" stroke-width="1.2" stroke-linejoin="round" stroke-linecap="round" />
<polyline points="368.7,178.4 370.8,172.5" fill="none" stroke="#e8cd82" stroke-width="1.2" stroke-linejoin="round" stroke-linecap="round" />
<polyline points="353.0,180.0 369.0,203.0 387.0,224.0 403.0,242.0 414.0,248.0 426.0,263.0 438.0,275.0 450.0,290.0 456.0,300.0 460.0,313.0 478.0,340.0 506.0,359.0 540.0,375.0 561.0,386.0 609.0,386.0" fill="none" stroke="#e8cd82" stroke-width="1.4" stroke-linejoin="round" stroke-linecap="round" />
<polyline points="357.5,186.4 352.4,188.7" fill="none" stroke="#e8cd82" stroke-width="1.2" stroke-linejoin="round" stroke-linecap="round" />
<polyline points="361.9,192.7 364.8,189.0" fill="none" stroke="#e8cd82" stroke-width="1.2" stroke-linejoin="round" stroke-linecap="round" />
<polyline points="365.5,198.0 360.3,201.8" fill="none" stroke="#e8cd82" stroke-width="1.2" stroke-linejoin="round" stroke-linecap="round" />
<polyline points="372.7,207.3 364.2,210.1 366.2,212.4" fill="none" stroke="#e8cd82" stroke-width="1.2" stroke-linejoin="round" stroke-linecap="round" />
<polyline points="376.4,211.6 370.7,213.1" fill="none" stroke="#e8cd82" stroke-width="1.2" stroke-linejoin="round" stroke-linecap="round" />
<polyline points="382.7,219.0 385.7,213.3" fill="none" stroke="#e8cd82" stroke-width="1.2" stroke-linejoin="round" stroke-linecap="round" />
<polyline points="391.9,229.5 386.8,233.6" fill="none" stroke="#e8cd82" stroke-width="1.2" stroke-linejoin="round" stroke-linecap="round" />
<polyline points="399.1,237.6 395.4,242.1" fill="none" stroke="#e8cd82" stroke-width="1.2" stroke-linejoin="round" stroke-linecap="round" />
<polyline points="409.7,245.7 411.3,236.8 413.9,238.3" fill="none" stroke="#e8cd82" stroke-width="1.2" stroke-linejoin="round" stroke-linecap="round" />
<polyline points="416.6,251.2 411.1,253.2" fill="none" stroke="#e8cd82" stroke-width="1.2" stroke-linejoin="round" stroke-linecap="round" />
<polyline points="419.8,255.3 427.1,253.0 428.9,255.3" fill="none" stroke="#e8cd82" stroke-width="1.2" stroke-linejoin="round" stroke-linecap="round" />
<polyline points="429.1,266.1 425.3,270.4" fill="none" stroke="#e8cd82" stroke-width="1.2" stroke-linejoin="round" stroke-linecap="round" />
<polyline points="436.2,273.2 429.3,277.6 431.5,279.7" fill="none" stroke="#e8cd82" stroke-width="1.2" stroke-linejoin="round" stroke-linecap="round" />
<polyline points="443.8,282.3 447.5,281.0" fill="none" stroke="#e8cd82" stroke-width="1.2" stroke-linejoin="round" stroke-linecap="round" />
<polyline points="447.8,287.2 443.5,291.3" fill="none" stroke="#e8cd82" stroke-width="1.2" stroke-linejoin="round" stroke-linecap="round" />
<polyline points="453.3,295.4 457.5,292.5" fill="none" stroke="#e8cd82" stroke-width="1.2" stroke-linejoin="round" stroke-linecap="round" />
<polyline points="458.0,306.6 464.0,303.5 464.9,306.4" fill="none" stroke="#e8cd82" stroke-width="1.2" stroke-linejoin="round" stroke-linecap="round" />
<polyline points="464.9,320.4 471.8,316.8 473.5,319.3" fill="none" stroke="#e8cd82" stroke-width="1.2" stroke-linejoin="round" stroke-linecap="round" />
<polyline points="469.8,327.8 466.5,328.3" fill="none" stroke="#e8cd82" stroke-width="1.2" stroke-linejoin="round" stroke-linecap="round" />
<polyline points="473.1,332.6 478.1,331.9" fill="none" stroke="#e8cd82" stroke-width="1.2" stroke-linejoin="round" stroke-linecap="round" />
<polyline points="476.3,337.4 473.0,339.0" fill="none" stroke="#e8cd82" stroke-width="1.2" stroke-linejoin="round" stroke-linecap="round" />
<polyline points="484.2,344.2 487.1,341.6" fill="none" stroke="#e8cd82" stroke-width="1.2" stroke-linejoin="round" stroke-linecap="round" />
<polyline points="490.1,348.2 489.1,351.8" fill="none" stroke="#e8cd82" stroke-width="1.2" stroke-linejoin="round" stroke-linecap="round" />
<polyline points="496.5,352.6 491.5,355.7" fill="none" stroke="#e8cd82" stroke-width="1.2" stroke-linejoin="round" stroke-linecap="round" />
<polyline points="502.3,356.5 503.5,352.1" fill="none" stroke="#e8cd82" stroke-width="1.2" stroke-linejoin="round" stroke-linecap="round" />
<polyline points="514.4,363.0 510.0,367.3" fill="none" stroke="#e8cd82" stroke-width="1.2" stroke-linejoin="round" stroke-linecap="round" />
<polyline points="518.9,365.1 518.7,358.9" fill="none" stroke="#e8cd82" stroke-width="1.2" stroke-linejoin="round" stroke-linecap="round" />
<polyline points="527.3,369.0 529.8,365.2" fill="none" stroke="#e8cd82" stroke-width="1.2" stroke-linejoin="round" stroke-linecap="round" />
<polyline points="536.1,373.2 535.1,379.3" fill="none" stroke="#e8cd82" stroke-width="1.2" stroke-linejoin="round" stroke-linecap="round" />
<polyline points="547.6,379.0 548.7,370.1" fill="none" stroke="#e8cd82" stroke-width="1.2" stroke-linejoin="round" stroke-linecap="round" />
<polyline points="556.0,383.4 558.0,379.5" fill="none" stroke="#e8cd82" stroke-width="1.2" stroke-linejoin="round" stroke-linecap="round" />
<polyline points="560.4,385.7 558.4,388.1" fill="none" stroke="#e8cd82" stroke-width="1.2" stroke-linejoin="round" stroke-linecap="round" />
<polyline points="570.4,386.0 568.0,380.9" fill="none" stroke="#e8cd82" stroke-width="1.2" stroke-linejoin="round" stroke-linecap="round" />
<polyline points="581.3,386.0 582.7,381.0" fill="none" stroke="#e8cd82" stroke-width="1.2" stroke-linejoin="round" stroke-linecap="round" />
<polyline points="587.3,386.0 587.9,390.2" fill="none" stroke="#e8cd82" stroke-width="1.2" stroke-linejoin="round" stroke-linecap="round" />
<polyline points="597.5,386.0 598.4,391.8" fill="none" stroke="#e8cd82" stroke-width="1.2" stroke-linejoin="round" stroke-linecap="round" />
<polyline points="602.8,386.0 605.6,392.4" fill="none" stroke="#e8cd82" stroke-width="1.2" stroke-linejoin="round" stroke-linecap="round" />
<polyline points="372.0,142.0 373.0,177.0 378.0,184.0 384.0,195.0 396.0,204.0 411.0,219.0 425.0,233.0 434.0,245.0 441.0,260.0 449.0,272.0 456.0,284.0 461.0,300.0" fill="none" stroke="#e8cd82" stroke-width="1.4" stroke-linejoin="round" stroke-linecap="round" />
<polyline points="372.1,147.0 364.5,145.9" fill="none" stroke="#e8cd82" stroke-width="1.2" stroke-linejoin="round" stroke-linecap="round" />
<polyline points="372.4,154.3 367.5,156.8" fill="none" stroke="#e8cd82" stroke-width="1.2" stroke-linejoin="round" stroke-linecap="round" />
<polyline points="372.5,160.2 376.1,161.4" fill="none" stroke="#e8cd82" stroke-width="1.2" stroke-linejoin="round" stroke-linecap="round" />
<polyline points="372.8,170.2 376.4,168.8" fill="none" stroke="#e8cd82" stroke-width="1.2" stroke-linejoin="round" stroke-linecap="round" />
<polyline points="376.5,181.9 382.6,180.3" fill="none" stroke="#e8cd82" stroke-width="1.2" stroke-linejoin="round" stroke-linecap="round" />
<polyline points="381.7,190.7 378.0,195.7" fill="none" stroke="#e8cd82" stroke-width="1.2" stroke-linejoin="round" stroke-linecap="round" />
<polyline points="390.9,200.2 394.2,197.5" fill="none" stroke="#e8cd82" stroke-width="1.2" stroke-linejoin="round" stroke-linecap="round" />
<polyline points="396.0,204.0 390.9,208.1 393.3,209.9" fill="none" stroke="#e8cd82" stroke-width="1.2" stroke-linejoin="round" stroke-linecap="round" />
<polyline points="400.2,208.2 403.9,203.8" fill="none" stroke="#e8cd82" stroke-width="1.2" stroke-linejoin="round" stroke-linecap="round" />
<polyline points="405.5,213.5 411.5,207.5" fill="none" stroke="#e8cd82" stroke-width="1.2" stroke-linejoin="round" stroke-linecap="round" />
<polyline points="409.0,217.0 404.0,219.6" fill="none" stroke="#e8cd82" stroke-width="1.2" stroke-linejoin="round" stroke-linecap="round" />
<polyline points="414.5,222.5 417.6,217.6" fill="none" stroke="#e8cd82" stroke-width="1.2" stroke-linejoin="round" stroke-linecap="round" />
<polyline points="419.4,227.4 415.3,231.9" fill="none" stroke="#e8cd82" stroke-width="1.2" stroke-linejoin="round" stroke-linecap="round" />
<polyline points="423.3,231.3 417.8,234.5" fill="none" stroke="#e8cd82" stroke-width="1.2" stroke-linejoin="round" stroke-linecap="round" />
<polyline points="429.1,238.5 433.0,233.5" fill="none" stroke="#e8cd82" stroke-width="1.2" stroke-linejoin="round" stroke-linecap="round" />
<polyline points="433.7,244.6 439.0,240.5" fill="none" stroke="#e8cd82" stroke-width="1.2" stroke-linejoin="round" stroke-linecap="round" />
<polyline points="437.0,251.3 433.2,255.8" fill="none" stroke="#e8cd82" stroke-width="1.2" stroke-linejoin="round" stroke-linecap="round" />
<polyline points="446.1,267.7 449.8,265.0" fill="none" stroke="#e8cd82" stroke-width="1.2" stroke-linejoin="round" stroke-linecap="round" />
<polyline points="451.4,276.1 454.7,274.4" fill="none" stroke="#e8cd82" stroke-width="1.2" stroke-linejoin="round" stroke-linecap="round" />
<polyline points="454.6,281.6 452.0,283.8" fill="none" stroke="#e8cd82" stroke-width="1.2" stroke-linejoin="round" stroke-linecap="round" />
<polyline points="457.5,288.6 450.9,291.9 451.8,294.8" fill="none" stroke="#e8cd82" stroke-width="1.2" stroke-linejoin="round" stroke-linecap="round" />
<polyline points="460.7,299.1 457.6,302.1" fill="none" stroke="#e8cd82" stroke-width="1.2" stroke-linejoin="round" stroke-linecap="round" />
<polyline points="491.0,139.0 491.0,148.0 479.0,169.0 471.0,178.0 464.0,190.0 456.0,200.0 441.0,212.0 426.0,224.0 411.0,239.0 402.0,248.0" fill="none" stroke="#e8cd82" stroke-width="1.4" stroke-linejoin="round" stroke-linecap="round" />
<polyline points="486.7,155.5 483.4,153.3" fill="none" stroke="#e8cd82" stroke-width="1.2" stroke-linejoin="round" stroke-linecap="round" />
<polyline points="483.2,161.6 486.4,164.3" fill="none" stroke="#e8cd82" stroke-width="1.2" stroke-linejoin="round" stroke-linecap="round" />
<polyline points="480.8,165.8 475.5,162.4" fill="none" stroke="#e8cd82" stroke-width="1.2" stroke-linejoin="round" stroke-linecap="round" />
<polyline points="474.0,174.6 476.4,180.2" fill="none" stroke="#e8cd82" stroke-width="1.2" stroke-linejoin="round" stroke-linecap="round" />
<polyline points="466.2,186.2 468.9,188.7" fill="none" stroke="#e8cd82" stroke-width="1.2" stroke-linejoin="round" stroke-linecap="round" />
<polyline points="460.6,194.3 457.8,191.7" fill="none" stroke="#e8cd82" stroke-width="1.2" stroke-linejoin="round" stroke-linecap="round" />
<polyline points="451.7,203.4 448.3,201.6" fill="none" stroke="#e8cd82" stroke-width="1.2" stroke-linejoin="round" stroke-linecap="round" />
<polyline points="444.5,209.2 445.3,212.6" fill="none" stroke="#e8cd82" stroke-width="1.2" stroke-linejoin="round" stroke-linecap="round" />
<polyline points="437.6,214.8 431.3,208.8" fill="none" stroke="#e8cd82" stroke-width="1.2" stroke-linejoin="round" stroke-linecap="round" />
<polyline points="429.5,221.2 432.5,222.9" fill="none" stroke="#e8cd82" stroke-width="1.2" stroke-linejoin="round" stroke-linecap="round" />
<polyline points="421.0,229.0 416.5,221.7 414.4,223.9" fill="none" stroke="#e8cd82" stroke-width="1.2" stroke-linejoin="round" stroke-linecap="round" />
<polyline points="416.5,233.5 418.1,236.8" fill="none" stroke="#e8cd82" stroke-width="1.2" stroke-linejoin="round" stroke-linecap="round" />
<polyline points="412.2,237.8 409.5,233.8" fill="none" stroke="#e8cd82" stroke-width="1.2" stroke-linejoin="round" stroke-linecap="round" />
<polyline points="406.2,243.8 403.8,240.5" fill="none" stroke="#e8cd82" stroke-width="1.2" stroke-linejoin="round" stroke-linecap="round" />
<polyline points="493.0,148.0 502.0,159.0 509.0,169.0 517.0,180.0 524.0,189.0 532.0,200.0 540.0,212.0 544.0,224.0 547.0,237.0 550.0,245.0 555.0,260.0 562.0,272.0 570.0,283.0 578.0,290.0" fill="none" stroke="#e8cd82" stroke-width="1.4" stroke-linejoin="round" stroke-linecap="round" />
<polyline points="495.6,151.2 490.1,156.1 492.0,158.5" fill="none" stroke="#e8cd82" stroke-width="1.2" stroke-linejoin="round" stroke-linecap="round" />
<polyline points="504.6,162.8 511.4,158.7 513.1,161.1" fill="none" stroke="#e8cd82" stroke-width="1.2" stroke-linejoin="round" stroke-linecap="round" />
<polyline points="508.8,168.8 513.0,164.4" fill="none" stroke="#e8cd82" stroke-width="1.2" stroke-linejoin="round" stroke-linecap="round" />
<polyline points="514.1,176.0 519.3,171.0 521.1,173.4" fill="none" stroke="#e8cd82" stroke-width="1.2" stroke-linejoin="round" stroke-linecap="round" />
<polyline points="519.9,183.7 517.8,186.4" fill="none" stroke="#e8cd82" stroke-width="1.2" stroke-linejoin="round" stroke-linecap="round" />
<polyline points="523.5,188.3 525.4,185.4" fill="none" stroke="#e8cd82" stroke-width="1.2" stroke-linejoin="round" stroke-linecap="round" />
<polyline points="527.3,193.5 531.3,191.7" fill="none" stroke="#e8cd82" stroke-width="1.2" stroke-linejoin="round" stroke-linecap="round" />
<polyline points="530.7,198.2 525.5,200.4" fill="none" stroke="#e8cd82" stroke-width="1.2" stroke-linejoin="round" stroke-linecap="round" />
<polyline points="535.9,205.9 533.7,209.8" fill="none" stroke="#e8cd82" stroke-width="1.2" stroke-linejoin="round" stroke-linecap="round" />
<polyline points="539.8,211.8 542.5,210.4" fill="none" stroke="#e8cd82" stroke-width="1.2" stroke-linejoin="round" stroke-linecap="round" />
<polyline points="541.6,216.9 535.7,215.8" fill="none" stroke="#e8cd82" stroke-width="1.2" stroke-linejoin="round" stroke-linecap="round" />
<polyline points="543.3,222.0 548.7,222.7" fill="none" stroke="#e8cd82" stroke-width="1.2" stroke-linejoin="round" stroke-linecap="round" />
<polyline points="545.2,229.2 538.9,230.8" fill="none" stroke="#e8cd82" stroke-width="1.2" stroke-linejoin="round" stroke-linecap="round" />
<polyline points="552.0,250.9 555.4,247.3" fill="none" stroke="#e8cd82" stroke-width="1.2" stroke-linejoin="round" stroke-linecap="round" />
<polyline points="554.9,259.8 548.1,258.9" fill="none" stroke="#e8cd82" stroke-width="1.2" stroke-linejoin="round" stroke-linecap="round" />
<polyline points="559.1,267.0 551.3,268.3" fill="none" stroke="#e8cd82" stroke-width="1.2" stroke-linejoin="round" stroke-linecap="round" />
<polyline points="567.0,278.9 573.0,273.7" fill="none" stroke="#e8cd82" stroke-width="1.2" stroke-linejoin="round" stroke-linecap="round" />
<polyline points="574.0,286.5 571.2,288.0" fill="none" stroke="#e8cd82" stroke-width="1.2" stroke-linejoin="round" stroke-linecap="round" />
<polyline points="537.0,139.0 534.0,154.0 532.0,169.0 540.0,180.0 547.0,189.0" fill="none" stroke="#e8cd82" stroke-width="1.4" stroke-linejoin="round" stroke-linecap="round" />
<polyline points="535.3,147.5 529.0,147.1" fill="none" stroke="#e8cd82" stroke-width="1.2" stroke-linejoin="round" stroke-linecap="round" />
<polyline points="533.1,160.7 536.1,160.2" fill="none" stroke="#e8cd82" stroke-width="1.2" stroke-linejoin="round" stroke-linecap="round" />
<polyline points="532.0,168.6 525.8,168.8" fill="none" stroke="#e8cd82" stroke-width="1.2" stroke-linejoin="round" stroke-linecap="round" />
<polyline points="535.2,173.4 538.4,172.1" fill="none" stroke="#e8cd82" stroke-width="1.2" stroke-linejoin="round" stroke-linecap="round" />
<polyline points="538.8,178.3 535.4,185.0 537.2,187.4" fill="none" stroke="#e8cd82" stroke-width="1.2" stroke-linejoin="round" stroke-linecap="round" />
<polyline points="544.8,186.2 550.2,180.8" fill="none" stroke="#e8cd82" stroke-width="1.2" stroke-linejoin="round" stroke-linecap="round" />
<polyline points="547.0,189.0 555.0,181.0 563.0,189.0 555.0,197.0 547.0,189.0" fill="none" stroke="#e8cd82" stroke-width="1.4" stroke-linejoin="round" stroke-linecap="round" />
<polyline points="550.8,185.2 555.0,191.4" fill="none" stroke="#e8cd82" stroke-width="1.2" stroke-linejoin="round" stroke-linecap="round" />
<polyline points="554.5,181.5 550.7,178.8" fill="none" stroke="#e8cd82" stroke-width="1.2" stroke-linejoin="round" stroke-linecap="round" />
<polyline points="559.0,185.0 554.5,189.1" fill="none" stroke="#e8cd82" stroke-width="1.2" stroke-linejoin="round" stroke-linecap="round" />
<polyline points="562.9,188.9 570.3,185.0" fill="none" stroke="#e8cd82" stroke-width="1.2" stroke-linejoin="round" stroke-linecap="round" />
<polyline points="558.4,193.6 565.9,196.1 563.8,198.2" fill="none" stroke="#e8cd82" stroke-width="1.2" stroke-linejoin="round" stroke-linecap="round" />
<polyline points="548.4,190.4 551.2,187.2" fill="none" stroke="#e8cd82" stroke-width="1.2" stroke-linejoin="round" stroke-linecap="round" />
<polyline points="565.0,154.0 578.0,139.0" fill="none" stroke="#e8cd82" stroke-width="1.4" stroke-linejoin="round" stroke-linecap="round" />
<polyline points="571.1,146.9 574.6,148.4" fill="none" stroke="#e8cd82" stroke-width="1.2" stroke-linejoin="round" stroke-linecap="round" />
<polyline points="578.0,139.0 574.0,133.0" fill="none" stroke="#e8cd82" stroke-width="1.2" stroke-linejoin="round" stroke-linecap="round" />
<polyline points="587.0,139.0 590.0,169.0 587.0,184.0 563.0,189.0" fill="none" stroke="#e8cd82" stroke-width="1.4" stroke-linejoin="round" stroke-linecap="round" />
<polyline points="587.4,143.0 581.5,143.3" fill="none" stroke="#e8cd82" stroke-width="1.2" stroke-linejoin="round" stroke-linecap="round" />
<polyline points="588.0,148.7 593.0,149.1" fill="none" stroke="#e8cd82" stroke-width="1.2" stroke-linejoin="round" stroke-linecap="round" />
<polyline points="588.4,153.5 595.2,150.3 595.5,153.3" fill="none" stroke="#e8cd82" stroke-width="1.2" stroke-linejoin="round" stroke-linecap="round" />
<polyline points="589.4,162.8 597.7,163.7 598.0,166.7" fill="none" stroke="#e8cd82" stroke-width="1.2" stroke-linejoin="round" stroke-linecap="round" />
<polyline points="588.6,176.2 583.6,174.8" fill="none" stroke="#e8cd82" stroke-width="1.2" stroke-linejoin="round" stroke-linecap="round" />
<polyline points="587.6,181.2 591.1,180.7" fill="none" stroke="#e8cd82" stroke-width="1.2" stroke-linejoin="round" stroke-linecap="round" />
<polyline points="581.7,185.1 580.7,180.6" fill="none" stroke="#e8cd82" stroke-width="1.2" stroke-linejoin="round" stroke-linecap="round" />
<polyline points="574.7,186.6 579.5,193.8" fill="none" stroke="#e8cd82" stroke-width="1.2" stroke-linejoin="round" stroke-linecap="round" />
<polyline points="564.3,188.7 562.1,180.4" fill="none" stroke="#e8cd82" stroke-width="1.2" stroke-linejoin="round" stroke-linecap="round" />
<polyline points="547.0,237.0 560.0,220.0 570.0,204.0 608.0,204.0" fill="none" stroke="#e8cd82" stroke-width="1.4" stroke-linejoin="round" stroke-linecap="round" />
<polyline points="551.0,231.8 557.5,235.5 559.4,233.1" fill="none" stroke="#e8cd82" stroke-width="1.2" stroke-linejoin="round" stroke-linecap="round" />
<polyline points="557.5,223.3 554.6,220.9" fill="none" stroke="#e8cd82" stroke-width="1.2" stroke-linejoin="round" stroke-linecap="round" />
<polyline points="564.3,213.1 570.5,219.4" fill="none" stroke="#e8cd82" stroke-width="1.2" stroke-linejoin="round" stroke-linecap="round" />
<polyline points="568.7,206.0 565.4,201.8" fill="none" stroke="#e8cd82" stroke-width="1.2" stroke-linejoin="round" stroke-linecap="round" />
<polyline points="579.1,204.0 577.4,209.7" fill="none" stroke="#e8cd82" stroke-width="1.2" stroke-linejoin="round" stroke-linecap="round" />
<polyline points="590.3,204.0 588.2,209.3" fill="none" stroke="#e8cd82" stroke-width="1.2" stroke-linejoin="round" stroke-linecap="round" />
<polyline points="595.6,204.0 597.6,199.4" fill="none" stroke="#e8cd82" stroke-width="1.2" stroke-linejoin="round" stroke-linecap="round" />
<polyline points="602.1,204.0 604.5,209.9" fill="none" stroke="#e8cd82" stroke-width="1.2" stroke-linejoin="round" stroke-linecap="round" />
<polyline points="543.0,260.0 543.0,300.0 545.0,345.0 561.0,386.0" fill="none" stroke="#e8cd82" stroke-width="1.4" stroke-linejoin="round" stroke-linecap="round" />
<polyline points="543.0,266.3 536.9,265.6" fill="none" stroke="#e8cd82" stroke-width="1.2" stroke-linejoin="round" stroke-linecap="round" />
<polyline points="543.0,271.5 547.2,269.4" fill="none" stroke="#e8cd82" stroke-width="1.2" stroke-linejoin="round" stroke-linecap="round" />
<polyline points="543.0,279.5 536.7,281.9 536.7,284.9" fill="none" stroke="#e8cd82" stroke-width="1.2" stroke-linejoin="round" stroke-linecap="round" />
<polyline points="543.0,285.9 548.4,286.2" fill="none" stroke="#e8cd82" stroke-width="1.2" stroke-linejoin="round" stroke-linecap="round" />
<polyline points="543.0,296.2 550.3,299.9 550.3,302.9" fill="none" stroke="#e8cd82" stroke-width="1.2" stroke-linejoin="round" stroke-linecap="round" />
<polyline points="543.3,306.6 537.4,303.8 537.6,306.8" fill="none" stroke="#e8cd82" stroke-width="1.2" stroke-linejoin="round" stroke-linecap="round" />
<polyline points="543.7,316.7 536.7,320.7 536.8,323.7" fill="none" stroke="#e8cd82" stroke-width="1.2" stroke-linejoin="round" stroke-linecap="round" />
<polyline points="544.0,322.5 550.0,321.1" fill="none" stroke="#e8cd82" stroke-width="1.2" stroke-linejoin="round" stroke-linecap="round" />
<polyline points="544.4,331.9 551.0,329.8 551.1,332.8" fill="none" stroke="#e8cd82" stroke-width="1.2" stroke-linejoin="round" stroke-linecap="round" />
<polyline points="544.6,337.0 537.1,335.3" fill="none" stroke="#e8cd82" stroke-width="1.2" stroke-linejoin="round" stroke-linecap="round" />
<polyline points="544.9,343.7 548.6,344.5" fill="none" stroke="#e8cd82" stroke-width="1.2" stroke-linejoin="round" stroke-linecap="round" />
<polyline points="546.7,349.3 543.5,350.6" fill="none" stroke="#e8cd82" stroke-width="1.2" stroke-linejoin="round" stroke-linecap="round" />
<polyline points="549.3,356.1 553.2,354.1" fill="none" stroke="#e8cd82" stroke-width="1.2" stroke-linejoin="round" stroke-linecap="round" />
<polyline points="551.8,362.4 547.9,366.6" fill="none" stroke="#e8cd82" stroke-width="1.2" stroke-linejoin="round" stroke-linecap="round" />
<polyline points="555.6,372.1 561.4,371.5" fill="none" stroke="#e8cd82" stroke-width="1.2" stroke-linejoin="round" stroke-linecap="round" />
<polyline points="559.6,382.3 552.4,383.6 553.5,386.4" fill="none" stroke="#e8cd82" stroke-width="1.2" stroke-linejoin="round" stroke-linecap="round" />
<polyline points="562.0,260.0 585.0,242.0 585.0,236.0" fill="none" stroke="#e8cd82" stroke-width="1.4" stroke-linejoin="round" stroke-linecap="round" />
<polyline points="567.0,256.1 570.4,259.1" fill="none" stroke="#e8cd82" stroke-width="1.2" stroke-linejoin="round" stroke-linecap="round" />
<polyline points="571.9,252.2 573.5,255.0" fill="none" stroke="#e8cd82" stroke-width="1.2" stroke-linejoin="round" stroke-linecap="round" />
<polyline points="579.1,246.6 575.7,244.2" fill="none" stroke="#e8cd82" stroke-width="1.2" stroke-linejoin="round" stroke-linecap="round" />
<polyline points="585.0,236.9 593.7,238.5" fill="none" stroke="#e8cd82" stroke-width="1.2" stroke-linejoin="round" stroke-linecap="round" />
<polyline points="561.0,386.0 529.0,414.0 506.0,436.0 488.0,459.0" fill="none" stroke="#e8cd82" stroke-width="1.4" stroke-linejoin="round" stroke-linecap="round" />
<polyline points="554.8,391.4 550.4,389.6" fill="none" stroke="#e8cd82" stroke-width="1.2" stroke-linejoin="round" stroke-linecap="round" />
<polyline points="550.3,395.4 552.8,398.9" fill="none" stroke="#e8cd82" stroke-width="1.2" stroke-linejoin="round" stroke-linecap="round" />
<polyline points="542.1,402.5 539.9,399.4" fill="none" stroke="#e8cd82" stroke-width="1.2" stroke-linejoin="round" stroke-linecap="round" />
<polyline points="533.8,409.8 534.8,413.5" fill="none" stroke="#e8cd82" stroke-width="1.2" stroke-linejoin="round" stroke-linecap="round" />
<polyline points="522.5,420.2 515.5,415.7" fill="none" stroke="#e8cd82" stroke-width="1.2" stroke-linejoin="round" stroke-linecap="round" />
<polyline points="517.5,425.0 513.7,423.5" fill="none" stroke="#e8cd82" stroke-width="1.2" stroke-linejoin="round" stroke-linecap="round" />
<polyline points="513.9,428.5 518.0,434.1 515.9,436.1" fill="none" stroke="#e8cd82" stroke-width="1.2" stroke-linejoin="round" stroke-linecap="round" />
<polyline points="509.6,432.5 508.1,430.0" fill="none" stroke="#e8cd82" stroke-width="1.2" stroke-linejoin="round" stroke-linecap="round" />
<polyline points="503.1,439.7 508.2,446.9 506.3,449.2" fill="none" stroke="#e8cd82" stroke-width="1.2" stroke-linejoin="round" stroke-linecap="round" />
<polyline points="496.9,447.6 499.4,452.6" fill="none" stroke="#e8cd82" stroke-width="1.2" stroke-linejoin="round" stroke-linecap="round" />
<polyline points="492.5,453.3 487.7,446.2 485.8,448.6" fill="none" stroke="#e8cd82" stroke-width="1.2" stroke-linejoin="round" stroke-linecap="round" />
<polyline points="489.4,457.2 484.3,455.3" fill="none" stroke="#e8cd82" stroke-width="1.2" stroke-linejoin="round" stroke-linecap="round" />
<polyline points="469.0,322.0 469.0,402.0 483.0,414.0 485.0,448.0" fill="none" stroke="#e8cd82" stroke-width="1.4" stroke-linejoin="round" stroke-linecap="round" />
<polyline points="469.0,326.2 465.9,327.6" fill="none" stroke="#e8cd82" stroke-width="1.2" stroke-linejoin="round" stroke-linecap="round" />
<polyline points="469.0,335.8 477.3,337.1 477.3,340.1" fill="none" stroke="#e8cd82" stroke-width="1.2" stroke-linejoin="round" stroke-linecap="round" />
<polyline points="469.0,344.5 473.5,343.5" fill="none" stroke="#e8cd82" stroke-width="1.2" stroke-linejoin="round" stroke-linecap="round" />
<polyline points="469.0,351.1 466.1,351.9" fill="none" stroke="#e8cd82" stroke-width="1.2" stroke-linejoin="round" stroke-linecap="round" />
<polyline points="469.0,359.9 461.3,356.0 461.3,359.0" fill="none" stroke="#e8cd82" stroke-width="1.2" stroke-linejoin="round" stroke-linecap="round" />
<polyline points="469.0,370.9 477.7,371.9 477.7,374.9" fill="none" stroke="#e8cd82" stroke-width="1.2" stroke-linejoin="round" stroke-linecap="round" />
<polyline points="469.0,378.8 460.9,376.2" fill="none" stroke="#e8cd82" stroke-width="1.2" stroke-linejoin="round" stroke-linecap="round" />
<polyline points="469.0,388.9 476.6,388.1 476.6,391.1" fill="none" stroke="#e8cd82" stroke-width="1.2" stroke-linejoin="round" stroke-linecap="round" />
<polyline points="469.0,396.0 462.0,392.9 462.0,395.9" fill="none" stroke="#e8cd82" stroke-width="1.2" stroke-linejoin="round" stroke-linecap="round" />
<polyline points="472.3,404.8 470.4,407.4" fill="none" stroke="#e8cd82" stroke-width="1.2" stroke-linejoin="round" stroke-linecap="round" />
<polyline points="480.7,412.0 482.5,403.9 484.8,405.9" fill="none" stroke="#e8cd82" stroke-width="1.2" stroke-linejoin="round" stroke-linecap="round" />
<polyline points="483.4,420.8 476.1,420.8 476.3,423.8" fill="none" stroke="#e8cd82" stroke-width="1.2" stroke-linejoin="round" stroke-linecap="round" />
<polyline points="483.9,429.5 490.6,427.4" fill="none" stroke="#e8cd82" stroke-width="1.2" stroke-linejoin="round" stroke-linecap="round" />
<polyline points="484.2,435.1 476.3,433.9" fill="none" stroke="#e8cd82" stroke-width="1.2" stroke-linejoin="round" stroke-linecap="round" />
<polyline points="484.8,444.6 488.9,445.4" fill="none" stroke="#e8cd82" stroke-width="1.2" stroke-linejoin="round" stroke-linecap="round" />
<polyline points="561.0,386.0 570.0,414.0 581.0,464.0" fill="none" stroke="#e8cd82" stroke-width="1.4" stroke-linejoin="round" stroke-linecap="round" />
<polyline points="563.7,394.5 557.3,395.4" fill="none" stroke="#e8cd82" stroke-width="1.2" stroke-linejoin="round" stroke-linecap="round" />
<polyline points="567.2,405.1 573.2,404.9" fill="none" stroke="#e8cd82" stroke-width="1.2" stroke-linejoin="round" stroke-linecap="round" />
<polyline points="569.9,413.7 578.8,414.5 579.7,417.3" fill="none" stroke="#e8cd82" stroke-width="1.2" stroke-linejoin="round" stroke-linecap="round" />
<polyline points="572.0,422.9 575.2,422.9" fill="none" stroke="#e8cd82" stroke-width="1.2" stroke-linejoin="round" stroke-linecap="round" />
<polyline points="573.3,428.8 564.8,431.4" fill="none" stroke="#e8cd82" stroke-width="1.2" stroke-linejoin="round" stroke-linecap="round" />
<polyline points="575.5,438.9 581.2,439.0" fill="none" stroke="#e8cd82" stroke-width="1.2" stroke-linejoin="round" stroke-linecap="round" />
<polyline points="577.8,449.5 581.3,448.4" fill="none" stroke="#e8cd82" stroke-width="1.2" stroke-linejoin="round" stroke-linecap="round" />
<polyline points="579.1,455.5 574.0,454.8" fill="none" stroke="#e8cd82" stroke-width="1.2" stroke-linejoin="round" stroke-linecap="round" />
<polyline points="580.5,461.8 586.7,459.4 587.3,462.4" fill="none" stroke="#e8cd82" stroke-width="1.2" stroke-linejoin="round" stroke-linecap="round" />
<polyline points="586.0,391.0 586.0,436.0 584.0,464.0" fill="none" stroke="#e8cd82" stroke-width="1.4" stroke-linejoin="round" stroke-linecap="round" />
<polyline points="586.0,398.8 582.0,398.0" fill="none" stroke="#e8cd82" stroke-width="1.2" stroke-linejoin="round" stroke-linecap="round" />
<polyline points="586.0,408.7 591.7,411.3" fill="none" stroke="#e8cd82" stroke-width="1.2" stroke-linejoin="round" stroke-linecap="round" />
<polyline points="586.0,416.0 579.8,416.9" fill="none" stroke="#e8cd82" stroke-width="1.2" stroke-linejoin="round" stroke-linecap="round" />
<polyline points="586.0,421.9 593.1,422.5 593.1,425.5" fill="none" stroke="#e8cd82" stroke-width="1.2" stroke-linejoin="round" stroke-linecap="round" />
<polyline points="586.0,432.8 581.1,433.1" fill="none" stroke="#e8cd82" stroke-width="1.2" stroke-linejoin="round" stroke-linecap="round" />
<polyline points="585.4,444.8 594.2,446.7 593.9,449.7" fill="none" stroke="#e8cd82" stroke-width="1.2" stroke-linejoin="round" stroke-linecap="round" />
<polyline points="584.9,450.9 582.1,451.9" fill="none" stroke="#e8cd82" stroke-width="1.2" stroke-linejoin="round" stroke-linecap="round" />
<polyline points="584.2,460.9 589.4,459.3" fill="none" stroke="#e8cd82" stroke-width="1.2" stroke-linejoin="round" stroke-linecap="round" />
<polyline points="595.0,285.0 598.0,322.0 602.0,356.0" fill="none" stroke="#e8cd82" stroke-width="1.4" stroke-linejoin="round" stroke-linecap="round" />
<polyline points="595.3,289.1 589.2,290.5" fill="none" stroke="#e8cd82" stroke-width="1.2" stroke-linejoin="round" stroke-linecap="round" />
<polyline points="595.8,294.4 589.0,294.1" fill="none" stroke="#e8cd82" stroke-width="1.2" stroke-linejoin="round" stroke-linecap="round" />
<polyline points="596.3,301.0 601.7,298.0" fill="none" stroke="#e8cd82" stroke-width="1.2" stroke-linejoin="round" stroke-linecap="round" />
<polyline points="596.9,308.9 590.3,313.0 590.5,316.0" fill="none" stroke="#e8cd82" stroke-width="1.2" stroke-linejoin="round" stroke-linecap="round" />
<polyline points="597.8,319.7 606.7,319.2 606.9,322.2" fill="none" stroke="#e8cd82" stroke-width="1.2" stroke-linejoin="round" stroke-linecap="round" />
<polyline points="599.1,331.0 605.1,328.1 605.5,331.1" fill="none" stroke="#e8cd82" stroke-width="1.2" stroke-linejoin="round" stroke-linecap="round" />
<polyline points="599.8,337.2 604.6,334.8" fill="none" stroke="#e8cd82" stroke-width="1.2" stroke-linejoin="round" stroke-linecap="round" />
<polyline points="600.5,343.1 604.8,343.0" fill="none" stroke="#e8cd82" stroke-width="1.2" stroke-linejoin="round" stroke-linecap="round" />
<polyline points="601.3,350.3 597.6,349.8" fill="none" stroke="#e8cd82" stroke-width="1.2" stroke-linejoin="round" stroke-linecap="round" />
<polyline points="517.0,327.0 529.0,345.0 538.0,368.0" fill="none" stroke="#e8cd82" stroke-width="1.4" stroke-linejoin="round" stroke-linecap="round" />
<polyline points="519.3,330.5 515.1,335.3" fill="none" stroke="#e8cd82" stroke-width="1.2" stroke-linejoin="round" stroke-linecap="round" />
<polyline points="525.0,339.0 527.8,336.6" fill="none" stroke="#e8cd82" stroke-width="1.2" stroke-linejoin="round" stroke-linecap="round" />
<polyline points="531.1,350.3 526.1,352.8" fill="none" stroke="#e8cd82" stroke-width="1.2" stroke-linejoin="round" stroke-linecap="round" />
<polyline points="534.4,358.7 539.8,357.0" fill="none" stroke="#e8cd82" stroke-width="1.2" stroke-linejoin="round" stroke-linecap="round" />
<polyline points="537.6,366.9 531.7,367.5" fill="none" stroke="#e8cd82" stroke-width="1.2" stroke-linejoin="round" stroke-linecap="round" />
<polyline points="320.0,150.0 335.0,155.0 348.0,152.0" fill="none" stroke="#e8cd82" stroke-width="1.4" stroke-linejoin="round" stroke-linecap="round" />
<polyline points="326.2,152.1 324.8,155.9" fill="none" stroke="#e8cd82" stroke-width="1.2" stroke-linejoin="round" stroke-linecap="round" />
<polyline points="331.6,153.9 335.3,149.7" fill="none" stroke="#e8cd82" stroke-width="1.2" stroke-linejoin="round" stroke-linecap="round" />
<polyline points="339.1,154.0 337.8,160.7" fill="none" stroke="#e8cd82" stroke-width="1.2" stroke-linejoin="round" stroke-linecap="round" />
<polyline points="347.0,152.2 347.7,155.5" fill="none" stroke="#e8cd82" stroke-width="1.2" stroke-linejoin="round" stroke-linecap="round" />
<polyline points="318.0,141.0 322.0,160.0 330.0,170.0" fill="none" stroke="#e8cd82" stroke-width="1.4" stroke-linejoin="round" stroke-linecap="round" />
<polyline points="319.0,145.7 312.8,150.9" fill="none" stroke="#e8cd82" stroke-width="1.2" stroke-linejoin="round" stroke-linecap="round" />
<polyline points="320.2,151.6 311.5,153.3" fill="none" stroke="#e8cd82" stroke-width="1.2" stroke-linejoin="round" stroke-linecap="round" />
<polyline points="321.4,157.3 315.2,161.9 315.8,164.8" fill="none" stroke="#e8cd82" stroke-width="1.2" stroke-linejoin="round" stroke-linecap="round" />
<polyline points="325.1,163.8 332.6,160.2" fill="none" stroke="#e8cd82" stroke-width="1.2" stroke-linejoin="round" stroke-linecap="round" />
<polyline points="340.0,200.0 341.0,215.0 338.0,230.0 330.0,245.0" fill="none" stroke="#e8cd82" stroke-width="1.4" stroke-linejoin="round" stroke-linecap="round" />
<polyline points="340.6,209.1 336.4,208.4" fill="none" stroke="#e8cd82" stroke-width="1.2" stroke-linejoin="round" stroke-linecap="round" />
<polyline points="340.2,219.1 343.7,221.2" fill="none" stroke="#e8cd82" stroke-width="1.2" stroke-linejoin="round" stroke-linecap="round" />
<polyline points="338.4,228.1 345.6,232.3" fill="none" stroke="#e8cd82" stroke-width="1.2" stroke-linejoin="round" stroke-linecap="round" />
<polyline points="334.4,236.7 329.3,236.1" fill="none" stroke="#e8cd82" stroke-width="1.2" stroke-linejoin="round" stroke-linecap="round" />
<polyline points="330.4,244.2 335.7,250.6" fill="none" stroke="#e8cd82" stroke-width="1.2" stroke-linejoin="round" stroke-linecap="round" />
<polyline points="320.0,205.0 335.0,200.0 345.0,190.0" fill="none" stroke="#e8cd82" stroke-width="1.4" stroke-linejoin="round" stroke-linecap="round" />
<polyline points="328.0,202.3 331.4,205.5" fill="none" stroke="#e8cd82" stroke-width="1.2" stroke-linejoin="round" stroke-linecap="round" />
<polyline points="334.8,200.1 332.8,192.8 335.6,191.8" fill="none" stroke="#e8cd82" stroke-width="1.2" stroke-linejoin="round" stroke-linecap="round" />
<polyline points="341.1,193.9 344.7,196.6" fill="none" stroke="#e8cd82" stroke-width="1.2" stroke-linejoin="round" stroke-linecap="round" />
<polyline points="398.0,196.0 400.0,190.0 410.0,183.0" fill="none" stroke="#e8cd82" stroke-width="1.4" stroke-linejoin="round" stroke-linecap="round" />
<polyline points="404.7,186.7 405.1,189.7" fill="none" stroke="#e8cd82" stroke-width="1.2" stroke-linejoin="round" stroke-linecap="round" />
<polyline points="405.0,150.0 410.0,165.0 412.0,180.0" fill="none" stroke="#e8cd82" stroke-width="1.4" stroke-linejoin="round" stroke-linecap="round" />
<polyline points="407.0,156.1 402.5,160.1" fill="none" stroke="#e8cd82" stroke-width="1.2" stroke-linejoin="round" stroke-linecap="round" />
<polyline points="409.0,162.0 415.8,163.1 416.8,165.9" fill="none" stroke="#e8cd82" stroke-width="1.2" stroke-linejoin="round" stroke-linecap="round" />
<polyline points="410.8,170.9 406.5,171.9" fill="none" stroke="#e8cd82" stroke-width="1.2" stroke-linejoin="round" stroke-linecap="round" />
<polyline points="411.6,177.0 418.3,176.3 418.7,179.3" fill="none" stroke="#e8cd82" stroke-width="1.2" stroke-linejoin="round" stroke-linecap="round" />
<polyline points="505.0,200.0 515.0,210.0 525.0,225.0" fill="none" stroke="#e8cd82" stroke-width="1.4" stroke-linejoin="round" stroke-linecap="round" />
<polyline points="508.4,203.4 506.3,206.3" fill="none" stroke="#e8cd82" stroke-width="1.2" stroke-linejoin="round" stroke-linecap="round" />
<polyline points="518.5,215.2 513.9,215.7" fill="none" stroke="#e8cd82" stroke-width="1.2" stroke-linejoin="round" stroke-linecap="round" />
<polyline points="523.1,222.2 526.9,218.8" fill="none" stroke="#e8cd82" stroke-width="1.2" stroke-linejoin="round" stroke-linecap="round" />
<polyline points="480.0,205.0 495.0,215.0 500.0,230.0" fill="none" stroke="#e8cd82" stroke-width="1.4" stroke-linejoin="round" stroke-linecap="round" />
<polyline points="486.7,209.5 485.9,213.9" fill="none" stroke="#e8cd82" stroke-width="1.2" stroke-linejoin="round" stroke-linecap="round" />
<polyline points="493.6,214.0 497.7,210.5" fill="none" stroke="#e8cd82" stroke-width="1.2" stroke-linejoin="round" stroke-linecap="round" />
<polyline points="496.3,218.9 491.7,223.2" fill="none" stroke="#e8cd82" stroke-width="1.2" stroke-linejoin="round" stroke-linecap="round" />
<polyline points="498.2,224.6 504.5,222.5" fill="none" stroke="#e8cd82" stroke-width="1.2" stroke-linejoin="round" stroke-linecap="round" />
<polyline points="590.0,300.0 578.0,330.0 566.0,352.0" fill="none" stroke="#e8cd82" stroke-width="1.4" stroke-linejoin="round" stroke-linecap="round" />
<polyline points="587.9,305.3 584.6,301.8" fill="none" stroke="#e8cd82" stroke-width="1.2" stroke-linejoin="round" stroke-linecap="round" />
<polyline points="584.2,314.4 579.5,308.8" fill="none" stroke="#e8cd82" stroke-width="1.2" stroke-linejoin="round" stroke-linecap="round" />
<polyline points="581.3,321.7 588.1,324.7 587.0,327.5" fill="none" stroke="#e8cd82" stroke-width="1.2" stroke-linejoin="round" stroke-linecap="round" />
<polyline points="579.0,327.5 576.2,325.8" fill="none" stroke="#e8cd82" stroke-width="1.2" stroke-linejoin="round" stroke-linecap="round" />
<polyline points="573.8,337.7 579.2,342.5" fill="none" stroke="#e8cd82" stroke-width="1.2" stroke-linejoin="round" stroke-linecap="round" />
<polyline points="569.1,346.3 564.5,342.2" fill="none" stroke="#e8cd82" stroke-width="1.2" stroke-linejoin="round" stroke-linecap="round" />
<polyline points="480.0,300.0 495.0,312.0 505.0,330.0" fill="none" stroke="#e8cd82" stroke-width="1.4" stroke-linejoin="round" stroke-linecap="round" />
<polyline points="484.1,303.3 476.5,306.6 478.8,308.4" fill="none" stroke="#e8cd82" stroke-width="1.2" stroke-linejoin="round" stroke-linecap="round" />
<polyline points="491.5,309.2 495.1,301.3 497.5,303.2" fill="none" stroke="#e8cd82" stroke-width="1.2" stroke-linejoin="round" stroke-linecap="round" />
<polyline points="497.6,316.7 504.4,311.6" fill="none" stroke="#e8cd82" stroke-width="1.2" stroke-linejoin="round" stroke-linecap="round" />
<polyline points="503.0,326.3 499.1,330.7" fill="none" stroke="#e8cd82" stroke-width="1.2" stroke-linejoin="round" stroke-linecap="round" />
<polyline points="420.0,300.0 435.0,310.0 440.0,330.0" fill="none" stroke="#e8cd82" stroke-width="1.4" stroke-linejoin="round" stroke-linecap="round" />
<polyline points="425.4,303.6 421.7,310.0 424.2,311.6" fill="none" stroke="#e8cd82" stroke-width="1.2" stroke-linejoin="round" stroke-linecap="round" />
<polyline points="432.7,308.4 433.3,305.0" fill="none" stroke="#e8cd82" stroke-width="1.2" stroke-linejoin="round" stroke-linecap="round" />
<polyline points="436.1,314.5 427.6,315.2 428.3,318.1" fill="none" stroke="#e8cd82" stroke-width="1.2" stroke-linejoin="round" stroke-linecap="round" />
<polyline points="437.3,319.4 444.0,316.7" fill="none" stroke="#e8cd82" stroke-width="1.2" stroke-linejoin="round" stroke-linecap="round" />
<polyline points="438.6,324.4 432.1,325.1" fill="none" stroke="#e8cd82" stroke-width="1.2" stroke-linejoin="round" stroke-linecap="round" />
<polyline points="590.0,410.0 600.0,425.0 604.0,445.0" fill="none" stroke="#e8cd82" stroke-width="1.4" stroke-linejoin="round" stroke-linecap="round" />
<polyline points="592.4,413.6 588.0,420.6" fill="none" stroke="#e8cd82" stroke-width="1.2" stroke-linejoin="round" stroke-linecap="round" />
<polyline points="595.8,418.7 599.5,418.3" fill="none" stroke="#e8cd82" stroke-width="1.2" stroke-linejoin="round" stroke-linecap="round" />
<polyline points="601.5,432.4 609.0,429.8 609.6,432.8" fill="none" stroke="#e8cd82" stroke-width="1.2" stroke-linejoin="round" stroke-linecap="round" />
<polyline points="602.5,437.7 595.0,437.0 595.6,439.9" fill="none" stroke="#e8cd82" stroke-width="1.2" stroke-linejoin="round" stroke-linecap="round" />
<polyline points="603.5,442.6 608.1,442.7" fill="none" stroke="#e8cd82" stroke-width="1.2" stroke-linejoin="round" stroke-linecap="round" />
<polyline points="520.0,395.0 510.0,420.0 505.0,440.0" fill="none" stroke="#e8cd82" stroke-width="1.4" stroke-linejoin="round" stroke-linecap="round" />
<polyline points="517.8,400.4 509.7,397.2" fill="none" stroke="#e8cd82" stroke-width="1.2" stroke-linejoin="round" stroke-linecap="round" />
<polyline points="516.0,405.0 520.9,407.4" fill="none" stroke="#e8cd82" stroke-width="1.2" stroke-linejoin="round" stroke-linecap="round" />
<polyline points="513.4,411.5 520.2,414.0 519.1,416.8" fill="none" stroke="#e8cd82" stroke-width="1.2" stroke-linejoin="round" stroke-linecap="round" />
<polyline points="511.4,416.5 517.4,421.7 516.3,424.5" fill="none" stroke="#e8cd82" stroke-width="1.2" stroke-linejoin="round" stroke-linecap="round" />
<polyline points="507.7,429.2 504.8,428.4" fill="none" stroke="#e8cd82" stroke-width="1.2" stroke-linejoin="round" stroke-linecap="round" />
<polyline points="505.3,438.8 509.3,439.8" fill="none" stroke="#e8cd82" stroke-width="1.2" stroke-linejoin="round" stroke-linecap="round" />
<polyline points="600.0,220.0 605.0,250.0 600.0,270.0" fill="none" stroke="#e8cd82" stroke-width="1.4" stroke-linejoin="round" stroke-linecap="round" />
<polyline points="600.9,225.4 592.2,224.9 592.7,227.9" fill="none" stroke="#e8cd82" stroke-width="1.2" stroke-linejoin="round" stroke-linecap="round" />
<polyline points="602.2,233.3 605.7,232.2" fill="none" stroke="#e8cd82" stroke-width="1.2" stroke-linejoin="round" stroke-linecap="round" />
<polyline points="603.8,243.0 597.4,246.1" fill="none" stroke="#e8cd82" stroke-width="1.2" stroke-linejoin="round" stroke-linecap="round" />
<polyline points="603.5,256.0 610.1,261.1" fill="none" stroke="#e8cd82" stroke-width="1.2" stroke-linejoin="round" stroke-linecap="round" />
<polyline points="602.0,262.0 597.5,262.7" fill="none" stroke="#e8cd82" stroke-width="1.2" stroke-linejoin="round" stroke-linecap="round" />
<polyline points="600.3,269.0 607.5,273.0 606.8,275.9" fill="none" stroke="#e8cd82" stroke-width="1.2" stroke-linejoin="round" stroke-linecap="round" />
<polyline points="500.0,260.0 515.0,270.0 525.0,285.0" fill="none" stroke="#e8cd82" stroke-width="1.4" stroke-linejoin="round" stroke-linecap="round" />
<polyline points="506.8,264.6 502.2,269.6 504.7,271.3" fill="none" stroke="#e8cd82" stroke-width="1.2" stroke-linejoin="round" stroke-linecap="round" />
<polyline points="519.3,276.4 526.5,274.5 528.1,277.0" fill="none" stroke="#e8cd82" stroke-width="1.2" stroke-linejoin="round" stroke-linecap="round" />
<polyline points="524.0,283.5 527.2,281.5" fill="none" stroke="#e8cd82" stroke-width="1.2" stroke-linejoin="round" stroke-linecap="round" />
<polyline points="440.0,155.0 455.0,150.0 465.0,140.0" fill="none" stroke="#e8cd82" stroke-width="1.4" stroke-linejoin="round" stroke-linecap="round" />
<polyline points="444.8,153.4 447.2,157.6" fill="none" stroke="#e8cd82" stroke-width="1.2" stroke-linejoin="round" stroke-linecap="round" />
<polyline points="450.3,151.6 450.6,155.5" fill="none" stroke="#e8cd82" stroke-width="1.2" stroke-linejoin="round" stroke-linecap="round" />
<polyline points="458.5,146.5 456.2,142.1" fill="none" stroke="#e8cd82" stroke-width="1.2" stroke-linejoin="round" stroke-linecap="round" />
<polyline points="570.0,300.0 585.0,310.0 600.0,312.0" fill="none" stroke="#e8cd82" stroke-width="1.4" stroke-linejoin="round" stroke-linecap="round" />
<polyline points="573.8,302.5 566.5,307.4 569.0,309.0" fill="none" stroke="#e8cd82" stroke-width="1.2" stroke-linejoin="round" stroke-linecap="round" />
<polyline points="582.0,308.0 577.5,313.9 580.0,315.6" fill="none" stroke="#e8cd82" stroke-width="1.2" stroke-linejoin="round" stroke-linecap="round" />
<polyline points="590.1,310.7 593.1,306.3" fill="none" stroke="#e8cd82" stroke-width="1.2" stroke-linejoin="round" stroke-linecap="round" />
<polyline points="599.9,312.0 598.9,319.1" fill="none" stroke="#e8cd82" stroke-width="1.2" stroke-linejoin="round" stroke-linecap="round" />
<polyline points="520.0,440.0 535.0,450.0 545.0,462.0" fill="none" stroke="#e8cd82" stroke-width="1.4" stroke-linejoin="round" stroke-linecap="round" />
<polyline points="526.1,444.1 524.3,449.2" fill="none" stroke="#e8cd82" stroke-width="1.2" stroke-linejoin="round" stroke-linecap="round" />
<polyline points="532.4,448.3 530.3,454.4" fill="none" stroke="#e8cd82" stroke-width="1.2" stroke-linejoin="round" stroke-linecap="round" />
<polyline points="540.1,456.2 544.8,449.4" fill="none" stroke="#e8cd82" stroke-width="1.2" stroke-linejoin="round" stroke-linecap="round" />
<polyline points="237.0,141.0 218.0,165.0 224.0,197.0 229.0,238.0 235.0,281.0 243.0,303.0 264.0,330.0 270.0,343.0 280.0,373.0 283.0,400.0 280.0,421.0 270.0,440.0 248.0,454.0 243.0,465.0 244.0,490.0 241.0,520.0 238.0,560.0 236.0,600.0 240.0,615.0" fill="none" stroke="#e8cd82" stroke-width="1.5" stroke-linejoin="round" stroke-linecap="round" />
<polyline points="487.0,459.0 470.0,470.0 452.0,482.0 425.0,495.0 412.0,515.0 395.0,535.0 380.0,560.0 355.0,580.0 332.0,600.0 300.0,625.0 275.0,640.0 262.0,665.0 250.0,702.0 247.0,727.0 262.0,765.0 262.0,790.0" fill="none" stroke="#e8cd82" stroke-width="1.5" stroke-linejoin="round" stroke-linecap="round" />
<polyline points="332.0,600.0 360.0,575.0 400.0,515.0 425.0,477.0 440.0,470.0" fill="none" stroke="#e8cd82" stroke-width="1.5" stroke-linejoin="round" stroke-linecap="round" />
<polyline points="400.0,515.0 420.0,520.0 425.0,530.0" fill="none" stroke="#e8cd82" stroke-width="1.5" stroke-linejoin="round" stroke-linecap="round" />
<polyline points="210.0,470.0 220.0,478.0 222.0,500.0 224.0,540.0 226.0,580.0 230.0,605.0" fill="none" stroke="#e8cd82" stroke-width="1.5" stroke-linejoin="round" stroke-linecap="round" />
<polyline points="226.0,580.0 210.0,610.0 205.0,640.0 200.0,700.0 200.0,730.0" fill="none" stroke="#e8cd82" stroke-width="1.5" stroke-linejoin="round" stroke-linecap="round" />
<polyline points="400.0,687.0 430.0,710.0 450.0,735.0 480.0,748.0 510.0,745.0 540.0,740.0 560.0,750.0 577.0,770.0" fill="none" stroke="#e8cd82" stroke-width="1.5" stroke-linejoin="round" stroke-linecap="round" />
<polyline points="420.0,700.0 405.0,725.0 395.0,750.0" fill="none" stroke="#e8cd82" stroke-width="1.5" stroke-linejoin="round" stroke-linecap="round" />
<polyline points="600.0,440.0 640.0,445.0 700.0,452.0 760.0,462.0 800.0,475.0 850.0,500.0 900.0,530.0 950.0,562.0 1000.0,600.0 1040.0,632.0 1080.0,660.0 1120.0,690.0 1150.0,715.0 1175.0,745.0 1192.0,775.0 1205.0,790.0" fill="none" stroke="#e8cd82" stroke-width="1.5" stroke-linejoin="round" stroke-linecap="round" />
<polyline points="609.0,386.0 660.0,390.0 720.0,395.0 800.0,400.0 862.0,405.0 950.0,413.0 1000.0,420.0 1052.0,425.0 1100.0,430.0 1140.0,440.0 1175.0,452.0 1210.0,464.0 1225.0,457.0 1260.0,455.0 1300.0,452.0 1350.0,452.0 1400.0,455.0 1455.0,455.0 1495.0,490.0 1510.0,527.0 1515.0,565.0 1522.0,580.0 1525.0,615.0 1515.0,665.0 1510.0,690.0" fill="none" stroke="#e8cd82" stroke-width="1.5" stroke-linejoin="round" stroke-linecap="round" />
<polyline points="790.0,470.0 800.0,520.0 795.0,560.0 800.0,600.0 820.0,640.0 860.0,660.0 900.0,690.0 955.0,725.0" fill="none" stroke="#e8cd82" stroke-width="1.5" stroke-linejoin="round" stroke-linecap="round" />
<polyline points="609.0,430.0 700.0,420.0 800.0,430.0 880.0,440.0 960.0,455.0 1000.0,470.0 1020.0,500.0 1040.0,520.0" fill="none" stroke="#e8cd82" stroke-width="1.5" stroke-linejoin="round" stroke-linecap="round" />
<polyline points="585.0,477.0 588.0,515.0 600.0,540.0 625.0,572.0 645.0,602.0 660.0,635.0 662.0,665.0 658.0,690.0 645.0,720.0 625.0,745.0 600.0,760.0 577.0,770.0 590.0,790.0 630.0,805.0 632.0,825.0 650.0,835.0 648.0,852.0 635.0,868.0 618.0,890.0 625.0,900.0 635.0,918.0 648.0,935.0 678.0,950.0" fill="none" stroke="#e8cd82" stroke-width="1.5" stroke-linejoin="round" stroke-linecap="round" />
<polyline points="577.0,770.0 560.0,785.0 548.0,800.0" fill="none" stroke="#e8cd82" stroke-width="1.5" stroke-linejoin="round" stroke-linecap="round" />
<polyline points="630.0,805.0 655.0,795.0 700.0,790.0 750.0,770.0 788.0,760.0" fill="none" stroke="#e8cd82" stroke-width="1.5" stroke-linejoin="round" stroke-linecap="round" />
<polyline points="868.0,925.0 885.0,952.0 905.0,945.0 935.0,938.0 972.0,926.0 1010.0,915.0 1070.0,898.0 1105.0,890.0 1138.0,880.0 1168.0,870.0 1205.0,858.0 1243.0,852.0 1280.0,850.0 1318.0,845.0 1343.0,825.0 1365.0,800.0 1385.0,780.0 1410.0,765.0" fill="none" stroke="#e8cd82" stroke-width="1.5" stroke-linejoin="round" stroke-linecap="round" />
<polyline points="885.0,952.0 880.0,975.0 870.0,1000.0 860.0,1010.0" fill="none" stroke="#e8cd82" stroke-width="1.5" stroke-linejoin="round" stroke-linecap="round" />
<polyline points="972.0,926.0 960.0,950.0 950.0,980.0 940.0,1000.0 935.0,1020.0" fill="none" stroke="#e8cd82" stroke-width="1.5" stroke-linejoin="round" stroke-linecap="round" />
<polyline points="1070.0,898.0 1060.0,920.0 1050.0,960.0" fill="none" stroke="#e8cd82" stroke-width="1.5" stroke-linejoin="round" stroke-linecap="round" />
<polyline points="1470.0,828.0 1440.0,870.0 1393.0,925.0 1355.0,935.0 1325.0,960.0 1293.0,990.0 1255.0,1022.0 1218.0,1052.0 1180.0,1090.0 1173.0,1099.0 1141.0,1128.0 1115.0,1150.0 1092.0,1170.0 1060.0,1192.0 1040.0,1205.0" fill="none" stroke="#e8cd82" stroke-width="1.5" stroke-linejoin="round" stroke-linecap="round" />
<polyline points="1279.0,960.0 1286.0,1008.0 1270.0,1057.0 1253.0,1105.0 1240.0,1140.0 1228.0,1166.0 1218.0,1192.0 1215.0,1218.0 1200.0,1232.0 1180.0,1238.0" fill="none" stroke="#e8cd82" stroke-width="1.5" stroke-linejoin="round" stroke-linecap="round" />
<polyline points="1140.0,1128.0 1130.0,1160.0 1125.0,1200.0 1120.0,1218.0" fill="none" stroke="#e8cd82" stroke-width="1.5" stroke-linejoin="round" stroke-linecap="round" />
<polyline points="1092.0,1170.0 1110.0,1190.0 1130.0,1200.0 1160.0,1210.0 1200.0,1225.0" fill="none" stroke="#e8cd82" stroke-width="1.5" stroke-linejoin="round" stroke-linecap="round" />
<polyline points="1100.0,1160.0 1068.0,1189.0 1036.0,1212.0 1014.0,1235.0 988.0,1264.0 972.0,1289.0 962.0,1315.0 959.0,1347.0" fill="none" stroke="#e8cd82" stroke-width="1.5" stroke-linejoin="round" stroke-linecap="round" />
<polyline points="1330.0,1040.0 1345.0,1080.0 1360.0,1110.0 1380.0,1140.0" fill="none" stroke="#e8cd82" stroke-width="1.5" stroke-linejoin="round" stroke-linecap="round" />
<polyline points="1515.0,722.0 1550.0,725.0 1590.0,728.0 1625.0,732.0 1665.0,738.0 1702.0,750.0 1740.0,760.0 1765.0,755.0 1778.0,738.0 1790.0,745.0" fill="none" stroke="#e8cd82" stroke-width="1.5" stroke-linejoin="round" stroke-linecap="round" />
<polyline points="1490.0,805.0 1515.0,792.0 1540.0,780.0 1590.0,768.0 1628.0,775.0 1660.0,792.0 1690.0,803.0" fill="none" stroke="#e8cd82" stroke-width="1.5" stroke-linejoin="round" stroke-linecap="round" />
<polyline points="1590.0,728.0 1592.0,767.0" fill="none" stroke="#e8cd82" stroke-width="1.5" stroke-linejoin="round" stroke-linecap="round" />
<polyline points="1665.0,738.0 1670.0,705.0 1672.0,680.0" fill="none" stroke="#e8cd82" stroke-width="1.5" stroke-linejoin="round" stroke-linecap="round" />
<polyline points="1702.0,750.0 1700.0,780.0 1697.0,800.0" fill="none" stroke="#e8cd82" stroke-width="1.5" stroke-linejoin="round" stroke-linecap="round" />
<polyline points="1519.0,691.0 1556.0,669.0 1610.0,655.0 1665.0,636.0 1687.0,611.0 1702.0,589.0 1738.0,571.0 1768.0,552.0 1790.0,540.0" fill="none" stroke="#e8cd82" stroke-width="1.5" stroke-linejoin="round" stroke-linecap="round" />
<polyline points="1519.0,691.0 1522.0,640.0 1525.0,615.0" fill="none" stroke="#e8cd82" stroke-width="1.5" stroke-linejoin="round" stroke-linecap="round" />
<polyline points="2048.0,622.0 2026.0,617.0 1981.0,591.0 1959.0,591.0 1933.0,589.0 1915.0,595.0 1904.0,617.0 1884.0,639.0 1860.0,653.0 1838.0,670.0 1815.0,684.0 1802.0,695.0 1790.0,705.0" fill="none" stroke="#e8cd82" stroke-width="1.5" stroke-linejoin="round" stroke-linecap="round" />
<polyline points="1175.0,455.0 1210.0,465.0" fill="none" stroke="#e8cd82" stroke-width="1.5" stroke-linejoin="round" stroke-linecap="round" />
<polyline points="1255.0,455.0 1290.0,470.0 1330.0,480.0 1360.0,476.0" fill="none" stroke="#e8cd82" stroke-width="1.5" stroke-linejoin="round" stroke-linecap="round" />
<polyline points="499.0,259.0 460.0,256.0 414.0,256.0 391.0,263.0 369.0,279.0 366.0,288.0 337.0,283.0 334.0,288.0 337.0,304.0 335.0,318.0 312.0,352.0 306.0,377.0 293.0,400.0 283.0,423.0 276.0,432.0 260.0,442.0 247.0,455.0 237.0,465.0 234.0,475.0 231.0,484.0 226.0,490.0 220.0,486.0" fill="none" stroke="#83d0de" stroke-width="1.6" stroke-linejoin="round" stroke-linecap="round" />
<polyline points="505.0,245.0 517.0,267.0 552.0,288.0 598.0,311.0 644.0,332.0 709.0,354.0 753.0,376.0 770.0,392.0 819.0,403.0 862.0,414.0 928.0,431.0 966.0,447.0 983.0,464.0 1005.0,490.0 1030.0,515.0 1068.0,535.0 1105.0,543.0 1140.0,568.0 1150.0,568.0 1200.0,575.0 1250.0,585.0 1300.0,595.0 1338.0,590.0 1362.0,595.0 1370.0,615.0 1375.0,640.0 1382.0,690.0 1388.0,702.0 1412.0,715.0 1438.0,722.0 1458.0,722.0" fill="none" stroke="#83d0de" stroke-width="1.6" stroke-linejoin="round" stroke-linecap="round" />
<polyline points="512.0,240.0 530.0,258.0 560.0,278.0 600.0,300.0 650.0,322.0 712.0,346.0 760.0,368.0 800.0,388.0 862.0,408.0 930.0,424.0 970.0,440.0 990.0,460.0 1010.0,482.0 1040.0,505.0 1075.0,528.0 1110.0,538.0 1142.0,565.0" fill="none" stroke="#83d0de" stroke-width="1.6" stroke-linejoin="round" stroke-linecap="round" />
<polyline points="520.0,234.0 545.0,250.0 580.0,268.0 620.0,290.0 680.0,320.0 730.0,340.0 800.0,368.0 870.0,393.0 930.0,418.0 972.0,447.0 988.0,463.0" fill="none" stroke="#83d0de" stroke-width="1.6" stroke-linejoin="round" stroke-linecap="round" />
<polyline points="600.0,384.0 655.0,412.0 709.0,428.0 772.0,439.0 819.0,450.0 862.0,458.0 930.0,462.0 970.0,465.0 971.0,560.0 971.0,705.0 985.0,790.0 990.0,822.0 995.0,845.0 1030.0,850.0 1068.0,858.0 1118.0,868.0 1155.0,875.0 1185.0,885.0 1205.0,890.0 1238.0,891.0" fill="none" stroke="#83d0de" stroke-width="1.6" stroke-linejoin="round" stroke-linecap="round" />
<polyline points="565.0,295.0 566.0,390.0 572.0,430.0 560.0,455.0 545.0,470.0 536.0,478.0 550.0,500.0 575.0,532.0 605.0,550.0 612.0,560.0 625.0,580.0 638.0,600.0 648.0,605.0 650.0,630.0 655.0,645.0 665.0,665.0 670.0,678.0 670.0,702.0 683.0,712.0 700.0,720.0 715.0,728.0" fill="none" stroke="#83d0de" stroke-width="1.6" stroke-linejoin="round" stroke-linecap="round" />
<polyline points="575.0,315.0 580.0,380.0 590.0,430.0 600.0,464.0" fill="none" stroke="#83d0de" stroke-width="1.6" stroke-linejoin="round" stroke-linecap="round" />
<polyline points="770.0,440.0 768.0,465.0 755.0,498.0 758.0,515.0 768.0,548.0 775.0,580.0 785.0,568.0" fill="none" stroke="#83d0de" stroke-width="1.6" stroke-linejoin="round" stroke-linecap="round" />
<polyline points="780.0,457.0 805.0,478.0 818.0,490.0" fill="none" stroke="#83d0de" stroke-width="1.6" stroke-linejoin="round" stroke-linecap="round" />
<polyline points="830.0,455.0 855.0,492.0" fill="none" stroke="#83d0de" stroke-width="1.6" stroke-linejoin="round" stroke-linecap="round" />
<polyline points="1145.0,568.0 1155.0,602.0 1180.0,628.0 1205.0,665.0 1218.0,702.0 1230.0,728.0 1243.0,765.0 1248.0,800.0" fill="none" stroke="#83d0de" stroke-width="1.6" stroke-linejoin="round" stroke-linecap="round" />
<polyline points="1150.0,570.0 1162.0,605.0 1188.0,632.0 1210.0,668.0 1225.0,705.0 1238.0,735.0 1250.0,770.0 1255.0,795.0" fill="none" stroke="#83d0de" stroke-width="1.6" stroke-linejoin="round" stroke-linecap="round" />
<polyline points="1243.0,790.0 1280.0,782.0 1318.0,770.0 1355.0,760.0 1380.0,752.0 1403.0,740.0 1430.0,730.0" fill="none" stroke="#83d0de" stroke-width="1.6" stroke-linejoin="round" stroke-linecap="round" />
<polyline points="1698.0,615.0 1723.0,635.0 1748.0,648.0 1761.0,658.0 1773.0,665.0 1786.0,670.0 1798.0,685.0 1801.0,700.0" fill="none" stroke="#83d0de" stroke-width="1.6" stroke-linejoin="round" stroke-linecap="round" />
<polyline points="1504.0,711.0 1534.0,720.0 1548.0,728.0 1545.0,750.0 1536.0,771.0" fill="none" stroke="#83d0de" stroke-width="1.6" stroke-linejoin="round" stroke-linecap="round" />
<polyline points="1300.0,779.0 1355.0,764.0 1410.0,750.0 1457.0,720.0" fill="none" stroke="#83d0de" stroke-width="1.6" stroke-linejoin="round" stroke-linecap="round" />
<polyline points="1406.0,750.0 1406.0,786.0" fill="none" stroke="#83d0de" stroke-width="1.6" stroke-linejoin="round" stroke-linecap="round" />
<polyline points="1480.0,802.0 1495.0,808.0 1500.0,830.0" fill="none" stroke="#83d0de" stroke-width="1.6" stroke-linejoin="round" stroke-linecap="round" />
<polyline points="612.0,410.0 650.0,440.0 675.0,462.0 712.0,508.0 750.0,545.0 782.0,590.0 805.0,615.0 850.0,645.0 875.0,672.0 905.0,695.0 910.0,728.0 942.0,752.0 980.0,770.0 985.0,790.0" fill="none" stroke="#83d0de" stroke-width="1.6" stroke-linejoin="round" stroke-linecap="round" stroke-dasharray="4 4"/>
<path d="M244.54,451.58 A11.80,11.80 0 0 1 241.45,473.54 M232.75,472.01 A11.80,11.80 0 0 1 233.46,451.58" fill="none" stroke="#0bad96" stroke-width="2.80"/>
<polygon points="235.8,445.9 245.4,445.9 240.6,458.2 247.0,458.2 233.6,477.6 239.0,464.1 233.1,461.5" fill="#0bad96"/>
<path d="M390.54,452.58 A11.80,11.80 0 0 1 387.45,474.54 M378.75,473.01 A11.80,11.80 0 0 1 379.46,452.58" fill="none" stroke="#0bad96" stroke-width="2.80"/>
<polygon points="381.8,446.9 391.4,446.9 386.6,459.2 393.0,459.2 379.6,478.6 385.0,465.1 379.1,462.5" fill="#0bad96"/>
<path d="M566.54,453.58 A11.80,11.80 0 0 1 563.45,475.54 M554.75,474.01 A11.80,11.80 0 0 1 555.46,453.58" fill="none" stroke="#0bad96" stroke-width="2.80"/>
<polygon points="557.8,447.9 567.4,447.9 562.6,460.2 569.0,460.2 555.6,479.6 561.0,466.1 555.1,463.5" fill="#0bad96"/>
<path d="M822.54,453.58 A11.80,11.80 0 0 1 819.45,475.54 M810.75,474.01 A11.80,11.80 0 0 1 811.46,453.58" fill="none" stroke="#0bad96" stroke-width="2.80"/>
<polygon points="813.8,447.9 823.4,447.9 818.6,460.2 825.0,460.2 811.6,479.6 817.0,466.1 811.1,463.5" fill="#0bad96"/>
<path d="M920.54,456.58 A11.80,11.80 0 0 1 917.45,478.54 M908.75,477.01 A11.80,11.80 0 0 1 909.46,456.58" fill="none" stroke="#0bad96" stroke-width="2.80"/>
<polygon points="911.8,450.9 921.4,450.9 916.6,463.2 923.0,463.2 909.6,482.6 915.0,469.1 909.1,466.5" fill="#0bad96"/>
<path d="M988.54,454.58 A11.80,11.80 0 0 1 985.45,476.54 M976.75,475.01 A11.80,11.80 0 0 1 977.46,454.58" fill="none" stroke="#0bad96" stroke-width="2.80"/>
<polygon points="979.8,448.9 989.4,448.9 984.6,461.2 991.0,461.2 977.6,480.6 983.0,467.1 977.1,464.5" fill="#0bad96"/>
<path d="M1046.54,449.58 A11.80,11.80 0 0 1 1043.45,471.54 M1034.75,470.01 A11.80,11.80 0 0 1 1035.46,449.58" fill="none" stroke="#0bad96" stroke-width="2.80"/>
<polygon points="1037.8,443.9 1047.4,443.9 1042.6,456.2 1049.0,456.2 1035.6,475.6 1041.0,462.1 1035.1,459.5" fill="#0bad96"/>
<path d="M1113.54,470.58 A11.80,11.80 0 0 1 1110.45,492.54 M1101.75,491.01 A11.80,11.80 0 0 1 1102.46,470.58" fill="none" stroke="#0bad96" stroke-width="2.80"/>
<polygon points="1104.8,464.9 1114.4,464.9 1109.6,477.2 1116.0,477.2 1102.6,496.6 1108.0,483.1 1102.1,480.5" fill="#0bad96"/>
<path d="M1440.54,706.58 A11.80,11.80 0 0 1 1437.45,728.54 M1428.75,727.01 A11.80,11.80 0 0 1 1429.46,706.58" fill="none" stroke="#0bad96" stroke-width="2.80"/>
<polygon points="1431.8,700.9 1441.4,700.9 1436.6,713.2 1443.0,713.2 1429.6,732.6 1435.0,719.1 1429.1,716.5" fill="#0bad96"/>
<path d="M1440.54,728.58 A11.80,11.80 0 0 1 1437.45,750.54 M1428.75,749.01 A11.80,11.80 0 0 1 1429.46,728.58" fill="none" stroke="#0bad96" stroke-width="2.80"/>
<polygon points="1431.8,722.9 1441.4,722.9 1436.6,735.2 1443.0,735.2 1429.6,754.6 1435.0,741.1 1429.1,738.5" fill="#0bad96"/>
<path d="M1418.54,746.58 A11.80,11.80 0 0 1 1415.45,768.54 M1406.75,767.01 A11.80,11.80 0 0 1 1407.46,746.58" fill="none" stroke="#0bad96" stroke-width="2.80"/>
<polygon points="1409.8,740.9 1419.4,740.9 1414.6,753.2 1421.0,753.2 1407.6,772.6 1413.0,759.1 1407.1,756.5" fill="#0bad96"/>
<path d="M1544.54,699.58 A11.80,11.80 0 0 1 1541.45,721.54 M1532.75,720.01 A11.80,11.80 0 0 1 1533.46,699.58" fill="none" stroke="#0bad96" stroke-width="2.80"/>
<polygon points="1535.8,693.9 1545.4,693.9 1540.6,706.2 1547.0,706.2 1533.6,725.6 1539.0,712.1 1533.1,709.5" fill="#0bad96"/>
<path d="M1533.54,719.58 A11.80,11.80 0 0 1 1530.45,741.54 M1521.75,740.01 A11.80,11.80 0 0 1 1522.46,719.58" fill="none" stroke="#0bad96" stroke-width="2.80"/>
<polygon points="1524.8,713.9 1534.4,713.9 1529.6,726.2 1536.0,726.2 1522.6,745.6 1528.0,732.1 1522.1,729.5" fill="#0bad96"/>
<path d="M1543.54,727.58 A11.80,11.80 0 0 1 1540.45,749.54 M1531.75,748.01 A11.80,11.80 0 0 1 1532.46,727.58" fill="none" stroke="#0bad96" stroke-width="2.80"/>
<polygon points="1534.8,721.9 1544.4,721.9 1539.6,734.2 1546.0,734.2 1532.6,753.6 1538.0,740.1 1532.1,737.5" fill="#0bad96"/>
<path d="M1716.54,629.58 A11.80,11.80 0 0 1 1713.45,651.54 M1704.75,650.01 A11.80,11.80 0 0 1 1705.46,629.58" fill="none" stroke="#0bad96" stroke-width="2.80"/>
<polygon points="1707.8,623.9 1717.4,623.9 1712.6,636.2 1719.0,636.2 1705.6,655.6 1711.0,642.1 1705.1,639.5" fill="#0bad96"/>
<path d="M1731.54,627.58 A11.80,11.80 0 0 1 1728.45,649.54 M1719.75,648.01 A11.80,11.80 0 0 1 1720.46,627.58" fill="none" stroke="#0bad96" stroke-width="2.80"/>
<polygon points="1722.8,621.9 1732.4,621.9 1727.6,634.2 1734.0,634.2 1720.6,653.6 1726.0,640.1 1720.1,637.5" fill="#0bad96"/>
<path d="M1746.54,627.58 A11.80,11.80 0 0 1 1743.45,649.54 M1734.75,648.01 A11.80,11.80 0 0 1 1735.46,627.58" fill="none" stroke="#0bad96" stroke-width="2.80"/>
<polygon points="1737.8,621.9 1747.4,621.9 1742.6,634.2 1749.0,634.2 1735.6,653.6 1741.0,640.1 1735.1,637.5" fill="#0bad96"/>
<path d="M1759.54,629.58 A11.80,11.80 0 0 1 1756.45,651.54 M1747.75,650.01 A11.80,11.80 0 0 1 1748.46,629.58" fill="none" stroke="#0bad96" stroke-width="2.80"/>
<polygon points="1750.8,623.9 1760.4,623.9 1755.6,636.2 1762.0,636.2 1748.6,655.6 1754.0,642.1 1748.1,639.5" fill="#0bad96"/>
<path d="M1861.54,527.58 A11.80,11.80 0 0 1 1858.45,549.54 M1849.75,548.01 A11.80,11.80 0 0 1 1850.46,527.58" fill="none" stroke="#0bad96" stroke-width="2.80"/>
<polygon points="1852.8,521.9 1862.4,521.9 1857.6,534.2 1864.0,534.2 1850.6,553.6 1856.0,540.1 1850.1,537.5" fill="#0bad96"/>
<path d="M1878.54,547.58 A11.80,11.80 0 0 1 1875.45,569.54 M1866.75,568.01 A11.80,11.80 0 0 1 1867.46,547.58" fill="none" stroke="#0bad96" stroke-width="2.80"/>
<polygon points="1869.8,541.9 1879.4,541.9 1874.6,554.2 1881.0,554.2 1867.6,573.6 1873.0,560.1 1867.1,557.5" fill="#0bad96"/>
<path d="M1876.54,564.58 A11.80,11.80 0 0 1 1873.45,586.54 M1864.75,585.01 A11.80,11.80 0 0 1 1865.46,564.58" fill="none" stroke="#0bad96" stroke-width="2.80"/>
<polygon points="1867.8,558.9 1877.4,558.9 1872.6,571.2 1879.0,571.2 1865.6,590.6 1871.0,577.1 1865.1,574.5" fill="#0bad96"/>
<path d="M1875.54,591.58 A11.80,11.80 0 0 1 1872.45,613.54 M1863.75,612.01 A11.80,11.80 0 0 1 1864.46,591.58" fill="none" stroke="#0bad96" stroke-width="2.80"/>
<polygon points="1866.8,585.9 1876.4,585.9 1871.6,598.2 1878.0,598.2 1864.6,617.6 1870.0,604.1 1864.1,601.5" fill="#0bad96"/>
<path d="M1889.54,618.58 A11.80,11.80 0 0 1 1886.45,640.54 M1877.75,639.01 A11.80,11.80 0 0 1 1878.46,618.58" fill="none" stroke="#0bad96" stroke-width="2.80"/>
<polygon points="1880.8,612.9 1890.4,612.9 1885.6,625.2 1892.0,625.2 1878.6,644.6 1884.0,631.1 1878.1,628.5" fill="#0bad96"/>
<path d="M1898.54,624.58 A11.80,11.80 0 0 1 1895.45,646.54 M1886.75,645.01 A11.80,11.80 0 0 1 1887.46,624.58" fill="none" stroke="#0bad96" stroke-width="2.80"/>
<polygon points="1889.8,618.9 1899.4,618.9 1894.6,631.2 1901.0,631.2 1887.6,650.6 1893.0,637.1 1887.1,634.5" fill="#0bad96"/>
<text transform="translate(177.0,319.6) scale(0.64,1)" text-anchor="middle" font-family="'Liberation Sans', Arial, sans-serif" font-weight="bold" font-style="normal" font-size="28.5" fill="#ffffff" stroke="#ffffff" stroke-width="0.5">BC</text>
<text transform="translate(177.0,348.6) scale(0.672,1)" text-anchor="middle" font-family="'Liberation Sans', Arial, sans-serif" font-weight="bold" font-style="normal" font-size="28.5" fill="#ffffff" stroke="#ffffff" stroke-width="0.5">$5.01B</text>
<text transform="translate(491.0,251.6) scale(0.64,1)" text-anchor="middle" font-family="'Liberation Sans', Arial, sans-serif" font-weight="bold" font-style="normal" font-size="28.5" fill="#ffffff" stroke="#ffffff" stroke-width="0.5">AB</text>
<text transform="translate(491.0,280.6) scale(0.672,1)" text-anchor="middle" font-family="'Liberation Sans', Arial, sans-serif" font-weight="bold" font-style="normal" font-size="28.5" fill="#ffffff" stroke="#ffffff" stroke-width="0.5">$56.9B</text>
<text transform="translate(739.5,246.6) scale(0.64,1)" text-anchor="middle" font-family="'Liberation Sans', Arial, sans-serif" font-weight="bold" font-style="normal" font-size="28.5" fill="#ffffff" stroke="#ffffff" stroke-width="0.5">SK</text>
<text transform="translate(739.5,275.6) scale(0.672,1)" text-anchor="middle" font-family="'Liberation Sans', Arial, sans-serif" font-weight="bold" font-style="normal" font-size="28.5" fill="#ffffff" stroke="#ffffff" stroke-width="0.5">$7.23B</text>
<text transform="translate(1018.0,261.6) scale(0.64,1)" text-anchor="middle" font-family="'Liberation Sans', Arial, sans-serif" font-weight="bold" font-style="normal" font-size="28.5" fill="#ffffff" stroke="#ffffff" stroke-width="0.5">MB</text>
<text transform="translate(1018.0,290.6) scale(0.672,1)" text-anchor="middle" font-family="'Liberation Sans', Arial, sans-serif" font-weight="bold" font-style="normal" font-size="28.5" fill="#ffffff" stroke="#ffffff" stroke-width="0.5">$1.05B</text>
<text transform="translate(1409.0,503.6) scale(0.64,1)" text-anchor="middle" font-family="'Liberation Sans', Arial, sans-serif" font-weight="bold" font-style="normal" font-size="28.5" fill="#ffffff" stroke="#ffffff" stroke-width="0.5">ON</text>
<text transform="translate(1409.0,532.6) scale(0.672,1)" text-anchor="middle" font-family="'Liberation Sans', Arial, sans-serif" font-weight="bold" font-style="normal" font-size="28.5" fill="#ffffff" stroke="#ffffff" stroke-width="0.5">$8.88B</text>
<text transform="translate(1601.0,492.1) scale(0.64,1)" text-anchor="middle" font-family="'Liberation Sans', Arial, sans-serif" font-weight="bold" font-style="normal" font-size="28.5" fill="#ffffff" stroke="#ffffff" stroke-width="0.5">QC</text>
<text transform="translate(1601.0,521.1) scale(0.672,1)" text-anchor="middle" font-family="'Liberation Sans', Arial, sans-serif" font-weight="bold" font-style="normal" font-size="28.5" fill="#ffffff" stroke="#ffffff" stroke-width="0.5">$5.46B</text>
<text transform="translate(1920.0,562.1) scale(0.64,1)" text-anchor="middle" font-family="'Liberation Sans', Arial, sans-serif" font-weight="bold" font-style="normal" font-size="28.5" fill="#ffffff" stroke="#ffffff" stroke-width="0.5">NB</text>
<text transform="translate(1920.0,591.1) scale(0.672,1)" text-anchor="middle" font-family="'Liberation Sans', Arial, sans-serif" font-weight="bold" font-style="normal" font-size="28.5" fill="#ffffff" stroke="#ffffff" stroke-width="0.5">$6.43B</text>
<text transform="translate(1976.0,639.6) scale(0.64,1)" text-anchor="middle" font-family="'Liberation Sans', Arial, sans-serif" font-weight="bold" font-style="normal" font-size="28.5" fill="#ffffff" stroke="#ffffff" stroke-width="0.5">NS</text>
<text transform="translate(1976.0,668.6) scale(0.672,1)" text-anchor="middle" font-family="'Liberation Sans', Arial, sans-serif" font-weight="bold" font-style="normal" font-size="28.5" fill="#ffffff" stroke="#ffffff" stroke-width="0.5">$322M</text>
<text transform="translate(1973.0,257.6) scale(0.64,1)" text-anchor="middle" font-family="'Liberation Sans', Arial, sans-serif" font-weight="bold" font-style="normal" font-size="28.5" fill="#ffffff" stroke="#ffffff" stroke-width="0.5">NL</text>
<text transform="translate(1973.0,286.6) scale(0.672,1)" text-anchor="middle" font-family="'Liberation Sans', Arial, sans-serif" font-weight="bold" font-style="normal" font-size="28.5" fill="#ffffff" stroke="#ffffff" stroke-width="0.5">$4.62B</text>
<text transform="translate(302.0,510.6) scale(0.64,1)" text-anchor="middle" font-family="'Liberation Sans', Arial, sans-serif" font-weight="bold" font-style="normal" font-size="28.5" fill="#ffffff" stroke="#ffffff" stroke-width="0.5">WA</text>
<text transform="translate(302.0,539.6) scale(0.672,1)" text-anchor="middle" font-family="'Liberation Sans', Arial, sans-serif" font-weight="bold" font-style="normal" font-size="28.5" fill="#ffffff" stroke="#ffffff" stroke-width="0.5">$7.59B</text>
<text transform="translate(309.0,709.6) scale(0.64,1)" text-anchor="middle" font-family="'Liberation Sans', Arial, sans-serif" font-weight="bold" font-style="normal" font-size="28.5" fill="#ffffff" stroke="#ffffff" stroke-width="0.5">OR</text>
<text transform="translate(309.0,738.6) scale(0.672,1)" text-anchor="middle" font-family="'Liberation Sans', Arial, sans-serif" font-weight="bold" font-style="normal" font-size="28.5" fill="#ffffff" stroke="#ffffff" stroke-width="0.5">$264M</text>
<text transform="translate(477.5,683.6) scale(0.64,1)" text-anchor="middle" font-family="'Liberation Sans', Arial, sans-serif" font-weight="bold" font-style="normal" font-size="28.5" fill="#ffffff" stroke="#ffffff" stroke-width="0.5">ID</text>
<text transform="translate(477.5,712.6) scale(0.672,1)" text-anchor="middle" font-family="'Liberation Sans', Arial, sans-serif" font-weight="bold" font-style="normal" font-size="28.5" fill="#ffffff" stroke="#ffffff" stroke-width="0.5">$138M</text>
<text transform="translate(691.0,559.6) scale(0.64,1)" text-anchor="middle" font-family="'Liberation Sans', Arial, sans-serif" font-weight="bold" font-style="normal" font-size="28.5" fill="#ffffff" stroke="#ffffff" stroke-width="0.5">MT</text>
<text transform="translate(691.0,588.6) scale(0.672,1)" text-anchor="middle" font-family="'Liberation Sans', Arial, sans-serif" font-weight="bold" font-style="normal" font-size="28.5" fill="#ffffff" stroke="#ffffff" stroke-width="0.5">$2.85B</text>
<text transform="translate(670.0,735.6) scale(0.64,1)" text-anchor="middle" font-family="'Liberation Sans', Arial, sans-serif" font-weight="bold" font-style="normal" font-size="28.5" fill="#ffffff" stroke="#ffffff" stroke-width="0.5">WY</text>
<text transform="translate(670.0,764.6) scale(0.672,1)" text-anchor="middle" font-family="'Liberation Sans', Arial, sans-serif" font-weight="bold" font-style="normal" font-size="28.5" fill="#ffffff" stroke="#ffffff" stroke-width="0.5">$391M</text>
<text transform="translate(892.5,542.1) scale(0.64,1)" text-anchor="middle" font-family="'Liberation Sans', Arial, sans-serif" font-weight="bold" font-style="normal" font-size="28.5" fill="#ffffff" stroke="#ffffff" stroke-width="0.5">ND</text>
<text transform="translate(892.5,571.1) scale(0.672,1)" text-anchor="middle" font-family="'Liberation Sans', Arial, sans-serif" font-weight="bold" font-style="normal" font-size="28.5" fill="#ffffff" stroke="#ffffff" stroke-width="0.5">$3.73B</text>
<text transform="translate(887.5,660.6) scale(0.64,1)" text-anchor="middle" font-family="'Liberation Sans', Arial, sans-serif" font-weight="bold" font-style="normal" font-size="28.5" fill="#ffffff" stroke="#ffffff" stroke-width="0.5">SD</text>
<text transform="translate(887.5,689.6) scale(0.672,1)" text-anchor="middle" font-family="'Liberation Sans', Arial, sans-serif" font-weight="bold" font-style="normal" font-size="28.5" fill="#ffffff" stroke="#ffffff" stroke-width="0.5">$68M</text>
<text transform="translate(1070.0,613.6) scale(0.64,1)" text-anchor="middle" font-family="'Liberation Sans', Arial, sans-serif" font-weight="bold" font-style="normal" font-size="28.5" fill="#ffffff" stroke="#ffffff" stroke-width="0.5">MN</text>
<text transform="translate(1070.0,642.6) scale(0.672,1)" text-anchor="middle" font-family="'Liberation Sans', Arial, sans-serif" font-weight="bold" font-style="normal" font-size="28.5" fill="#ffffff" stroke="#ffffff" stroke-width="0.5">$6.19B</text>
<text transform="translate(1222.5,667.1) scale(0.64,1)" text-anchor="middle" font-family="'Liberation Sans', Arial, sans-serif" font-weight="bold" font-style="normal" font-size="28.5" fill="#ffffff" stroke="#ffffff" stroke-width="0.5">WI</text>
<text transform="translate(1222.5,696.1) scale(0.672,1)" text-anchor="middle" font-family="'Liberation Sans', Arial, sans-serif" font-weight="bold" font-style="normal" font-size="28.5" fill="#ffffff" stroke="#ffffff" stroke-width="0.5">$383M</text>
<text transform="translate(1094.0,770.6) scale(0.64,1)" text-anchor="middle" font-family="'Liberation Sans', Arial, sans-serif" font-weight="bold" font-style="normal" font-size="28.5" fill="#ffffff" stroke="#ffffff" stroke-width="0.5">IA</text>
<text transform="translate(1094.0,799.6) scale(0.672,1)" text-anchor="middle" font-family="'Liberation Sans', Arial, sans-serif" font-weight="bold" font-style="normal" font-size="28.5" fill="#ffffff" stroke="#ffffff" stroke-width="0.5">$351M</text>
<text transform="translate(922.0,778.6) scale(0.64,1)" text-anchor="middle" font-family="'Liberation Sans', Arial, sans-serif" font-weight="bold" font-style="normal" font-size="28.5" fill="#ffffff" stroke="#ffffff" stroke-width="0.5">NE</text>
<text transform="translate(922.0,807.6) scale(0.672,1)" text-anchor="middle" font-family="'Liberation Sans', Arial, sans-serif" font-weight="bold" font-style="normal" font-size="28.5" fill="#ffffff" stroke="#ffffff" stroke-width="0.5">$248M</text>
<text transform="translate(1359.0,712.1) scale(0.64,1)" text-anchor="middle" font-family="'Liberation Sans', Arial, sans-serif" font-weight="bold" font-style="normal" font-size="28.5" fill="#ffffff" stroke="#ffffff" stroke-width="0.5">MI</text>
<text transform="translate(1359.0,741.1) scale(0.672,1)" text-anchor="middle" font-family="'Liberation Sans', Arial, sans-serif" font-weight="bold" font-style="normal" font-size="28.5" fill="#ffffff" stroke="#ffffff" stroke-width="0.5">$5.54B</text>
<text transform="translate(1641.0,728.6) scale(0.64,1)" text-anchor="middle" font-family="'Liberation Sans', Arial, sans-serif" font-weight="bold" font-style="normal" font-size="28.5" fill="#ffffff" stroke="#ffffff" stroke-width="0.5">NY</text>
<text transform="translate(1641.0,757.6) scale(0.672,1)" text-anchor="middle" font-family="'Liberation Sans', Arial, sans-serif" font-weight="bold" font-style="normal" font-size="28.5" fill="#ffffff" stroke="#ffffff" stroke-width="0.5">$2.95B</text>
<text transform="translate(1728.5,685.6) scale(0.64,1)" text-anchor="middle" font-family="'Liberation Sans', Arial, sans-serif" font-weight="bold" font-style="normal" font-size="28.5" fill="#ffffff" stroke="#ffffff" stroke-width="0.5">VT</text>
<text transform="translate(1728.5,714.6) scale(0.672,1)" text-anchor="middle" font-family="'Liberation Sans', Arial, sans-serif" font-weight="bold" font-style="normal" font-size="28.5" fill="#ffffff" stroke="#ffffff" stroke-width="0.5">$906M</text>
<text transform="translate(1827.0,610.6) scale(0.64,1)" text-anchor="middle" font-family="'Liberation Sans', Arial, sans-serif" font-weight="bold" font-style="normal" font-size="28.5" fill="#ffffff" stroke="#ffffff" stroke-width="0.5">ME</text>
<text transform="translate(1827.0,639.6) scale(0.672,1)" text-anchor="middle" font-family="'Liberation Sans', Arial, sans-serif" font-weight="bold" font-style="normal" font-size="28.5" fill="#ffffff" stroke="#ffffff" stroke-width="0.5">$562M</text>
<text transform="translate(1240.0,851.6) scale(0.64,1)" text-anchor="middle" font-family="'Liberation Sans', Arial, sans-serif" font-weight="bold" font-style="normal" font-size="28.5" fill="#ffffff" stroke="#ffffff" stroke-width="0.5">IL</text>
<text transform="translate(1240.0,880.6) scale(0.672,1)" text-anchor="middle" font-family="'Liberation Sans', Arial, sans-serif" font-weight="bold" font-style="normal" font-size="28.5" fill="#ffffff" stroke="#ffffff" stroke-width="0.5">$25.3B</text>
<text transform="translate(1317.0,843.6) scale(0.64,1)" text-anchor="middle" font-family="'Liberation Sans', Arial, sans-serif" font-weight="bold" font-style="normal" font-size="28.5" fill="#ffffff" stroke="#ffffff" stroke-width="0.5">IN</text>
<text transform="translate(1317.0,872.6) scale(0.672,1)" text-anchor="middle" font-family="'Liberation Sans', Arial, sans-serif" font-weight="bold" font-style="normal" font-size="28.5" fill="#ffffff" stroke="#ffffff" stroke-width="0.5">$804M</text>
<text transform="translate(1410.0,857.6) scale(0.64,1)" text-anchor="middle" font-family="'Liberation Sans', Arial, sans-serif" font-weight="bold" font-style="normal" font-size="28.5" fill="#ffffff" stroke="#ffffff" stroke-width="0.5">OH</text>
<text transform="translate(1410.0,886.6) scale(0.672,1)" text-anchor="middle" font-family="'Liberation Sans', Arial, sans-serif" font-weight="bold" font-style="normal" font-size="28.5" fill="#ffffff" stroke="#ffffff" stroke-width="0.5">$1.42B</text>
<text transform="translate(1135.0,927.6) scale(0.64,1)" text-anchor="middle" font-family="'Liberation Sans', Arial, sans-serif" font-weight="bold" font-style="normal" font-size="28.5" fill="#ffffff" stroke="#ffffff" stroke-width="0.5">MO</text>
<text transform="translate(1135.0,956.6) scale(0.672,1)" text-anchor="middle" font-family="'Liberation Sans', Arial, sans-serif" font-weight="bold" font-style="normal" font-size="28.5" fill="#ffffff" stroke="#ffffff" stroke-width="0.5">$941M</text>
<text transform="translate(1377.0,932.1) scale(0.64,1)" text-anchor="middle" font-family="'Liberation Sans', Arial, sans-serif" font-weight="bold" font-style="normal" font-size="28.5" fill="#ffffff" stroke="#ffffff" stroke-width="0.5">KY</text>
<text transform="translate(1377.0,961.1) scale(0.672,1)" text-anchor="middle" font-family="'Liberation Sans', Arial, sans-serif" font-weight="bold" font-style="normal" font-size="28.5" fill="#ffffff" stroke="#ffffff" stroke-width="0.5">$115M</text>
<text transform="translate(1331.0,1000.6) scale(0.64,1)" text-anchor="middle" font-family="'Liberation Sans', Arial, sans-serif" font-weight="bold" font-style="normal" font-size="28.5" fill="#ffffff" stroke="#ffffff" stroke-width="0.5">TN</text>
<text transform="translate(1331.0,1029.6) scale(0.672,1)" text-anchor="middle" font-family="'Liberation Sans', Arial, sans-serif" font-weight="bold" font-style="normal" font-size="28.5" fill="#ffffff" stroke="#ffffff" stroke-width="0.5">$69M</text>
<text transform="translate(1132.5,1033.1) scale(0.64,1)" text-anchor="middle" font-family="'Liberation Sans', Arial, sans-serif" font-weight="bold" font-style="normal" font-size="28.5" fill="#ffffff" stroke="#ffffff" stroke-width="0.5">AR</text>
<text transform="translate(1132.5,1062.1) scale(0.672,1)" text-anchor="middle" font-family="'Liberation Sans', Arial, sans-serif" font-weight="bold" font-style="normal" font-size="28.5" fill="#ffffff" stroke="#ffffff" stroke-width="0.5">$27M</text>
<text transform="translate(1531.0,820.6) scale(0.64,1)" text-anchor="middle" font-family="'Liberation Sans', Arial, sans-serif" font-weight="bold" font-style="normal" font-size="28.5" fill="#ffffff" stroke="#ffffff" stroke-width="0.5">PA</text>
<text transform="translate(1531.0,849.6) scale(0.672,1)" text-anchor="middle" font-family="'Liberation Sans', Arial, sans-serif" font-weight="bold" font-style="normal" font-size="28.5" fill="#ffffff" stroke="#ffffff" stroke-width="0.5">$2.48B</text>
<text transform="translate(1472.5,900.6) scale(0.64,1)" text-anchor="middle" font-family="'Liberation Sans', Arial, sans-serif" font-weight="bold" font-style="normal" font-size="28.5" fill="#ffffff" stroke="#ffffff" stroke-width="0.5">WV</text>
<text transform="translate(1472.5,929.6) scale(0.672,1)" text-anchor="middle" font-family="'Liberation Sans', Arial, sans-serif" font-weight="bold" font-style="normal" font-size="28.5" fill="#ffffff" stroke="#ffffff" stroke-width="0.5">$348M</text>
<text transform="translate(1546.0,933.6) scale(0.64,1)" text-anchor="middle" font-family="'Liberation Sans', Arial, sans-serif" font-weight="bold" font-style="normal" font-size="28.5" fill="#ffffff" stroke="#ffffff" stroke-width="0.5">VA</text>
<text transform="translate(1546.0,962.6) scale(0.672,1)" text-anchor="middle" font-family="'Liberation Sans', Arial, sans-serif" font-weight="bold" font-style="normal" font-size="28.5" fill="#ffffff" stroke="#ffffff" stroke-width="0.5">$129M</text>
<text transform="translate(1552.5,1009.6) scale(0.64,1)" text-anchor="middle" font-family="'Liberation Sans', Arial, sans-serif" font-weight="bold" font-style="normal" font-size="28.5" fill="#ffffff" stroke="#ffffff" stroke-width="0.5">NC</text>
<text transform="translate(1552.5,1038.6) scale(0.672,1)" text-anchor="middle" font-family="'Liberation Sans', Arial, sans-serif" font-weight="bold" font-style="normal" font-size="28.5" fill="#ffffff" stroke="#ffffff" stroke-width="0.5">$62M</text>
<text transform="translate(745.0,875.1) scale(0.64,1)" text-anchor="middle" font-family="'Liberation Sans', Arial, sans-serif" font-weight="bold" font-style="normal" font-size="28.5" fill="#ffffff" stroke="#ffffff" stroke-width="0.5">CO</text>
<text transform="translate(745.0,904.1) scale(0.672,1)" text-anchor="middle" font-family="'Liberation Sans', Arial, sans-serif" font-weight="bold" font-style="normal" font-size="28.5" fill="#ffffff" stroke="#ffffff" stroke-width="0.5">$2.11B</text>
<text transform="translate(957.5,889.6) scale(0.64,1)" text-anchor="middle" font-family="'Liberation Sans', Arial, sans-serif" font-weight="bold" font-style="normal" font-size="28.5" fill="#ffffff" stroke="#ffffff" stroke-width="0.5">KS</text>
<text transform="translate(957.5,918.6) scale(0.672,1)" text-anchor="middle" font-family="'Liberation Sans', Arial, sans-serif" font-weight="bold" font-style="normal" font-size="28.5" fill="#ffffff" stroke="#ffffff" stroke-width="0.5">$160M</text>
<text transform="translate(997.5,1013.6) scale(0.64,1)" text-anchor="middle" font-family="'Liberation Sans', Arial, sans-serif" font-weight="bold" font-style="normal" font-size="28.5" fill="#ffffff" stroke="#ffffff" stroke-width="0.5">OK</text>
<text transform="translate(997.5,1042.6) scale(0.672,1)" text-anchor="middle" font-family="'Liberation Sans', Arial, sans-serif" font-weight="bold" font-style="normal" font-size="28.5" fill="#ffffff" stroke="#ffffff" stroke-width="0.5">$2.22B</text>
<text transform="translate(725.5,1045.6) scale(0.64,1)" text-anchor="middle" font-family="'Liberation Sans', Arial, sans-serif" font-weight="bold" font-style="normal" font-size="28.5" fill="#ffffff" stroke="#ffffff" stroke-width="0.5">NM</text>
<text transform="translate(725.5,1074.6) scale(0.672,1)" text-anchor="middle" font-family="'Liberation Sans', Arial, sans-serif" font-weight="bold" font-style="normal" font-size="28.5" fill="#ffffff" stroke="#ffffff" stroke-width="0.5">$14M</text>
<text transform="translate(409.0,863.6) scale(0.64,1)" text-anchor="middle" font-family="'Liberation Sans', Arial, sans-serif" font-weight="bold" font-style="normal" font-size="28.5" fill="#ffffff" stroke="#ffffff" stroke-width="0.5">NV</text>
<text transform="translate(409.0,892.6) scale(0.672,1)" text-anchor="middle" font-family="'Liberation Sans', Arial, sans-serif" font-weight="bold" font-style="normal" font-size="28.5" fill="#ffffff" stroke="#ffffff" stroke-width="0.5">$26M</text>
<text transform="translate(561.0,872.1) scale(0.64,1)" text-anchor="middle" font-family="'Liberation Sans', Arial, sans-serif" font-weight="bold" font-style="normal" font-size="28.5" fill="#ffffff" stroke="#ffffff" stroke-width="0.5">UT</text>
<text transform="translate(561.0,901.1) scale(0.672,1)" text-anchor="middle" font-family="'Liberation Sans', Arial, sans-serif" font-weight="bold" font-style="normal" font-size="28.5" fill="#ffffff" stroke="#ffffff" stroke-width="0.5">$87M</text>
<text transform="translate(310.0,953.6) scale(0.64,1)" text-anchor="middle" font-family="'Liberation Sans', Arial, sans-serif" font-weight="bold" font-style="normal" font-size="28.5" fill="#ffffff" stroke="#ffffff" stroke-width="0.5">CA</text>
<text transform="translate(310.0,982.6) scale(0.672,1)" text-anchor="middle" font-family="'Liberation Sans', Arial, sans-serif" font-weight="bold" font-style="normal" font-size="28.5" fill="#ffffff" stroke="#ffffff" stroke-width="0.5">$1.52B</text>
<text transform="translate(557.5,1047.1) scale(0.64,1)" text-anchor="middle" font-family="'Liberation Sans', Arial, sans-serif" font-weight="bold" font-style="normal" font-size="28.5" fill="#ffffff" stroke="#ffffff" stroke-width="0.5">AZ</text>
<text transform="translate(557.5,1076.1) scale(0.672,1)" text-anchor="middle" font-family="'Liberation Sans', Arial, sans-serif" font-weight="bold" font-style="normal" font-size="28.5" fill="#ffffff" stroke="#ffffff" stroke-width="0.5">$43M</text>
<text transform="translate(210.4,1089.1) scale(0.64,1)" text-anchor="middle" font-family="'Liberation Sans', Arial, sans-serif" font-weight="bold" font-style="normal" font-size="28.5" fill="#ffffff" stroke="#ffffff" stroke-width="0.5">AK</text>
<text transform="translate(210.4,1118.1) scale(0.672,1)" text-anchor="middle" font-family="'Liberation Sans', Arial, sans-serif" font-weight="bold" font-style="normal" font-size="28.5" fill="#ffffff" stroke="#ffffff" stroke-width="0.5">$221M</text>
<text transform="translate(951.4,1159.1) scale(0.64,1)" text-anchor="middle" font-family="'Liberation Sans', Arial, sans-serif" font-weight="bold" font-style="normal" font-size="28.5" fill="#ffffff" stroke="#ffffff" stroke-width="0.5">TX</text>
<text transform="translate(951.4,1188.1) scale(0.672,1)" text-anchor="middle" font-family="'Liberation Sans', Arial, sans-serif" font-weight="bold" font-style="normal" font-size="28.5" fill="#ffffff" stroke="#ffffff" stroke-width="0.5">$13.2B</text>
<text transform="translate(1214.0,1108.6) scale(0.64,1)" text-anchor="middle" font-family="'Liberation Sans', Arial, sans-serif" font-weight="bold" font-style="normal" font-size="28.5" fill="#ffffff" stroke="#ffffff" stroke-width="0.5">MS</text>
<text transform="translate(1214.0,1137.6) scale(0.672,1)" text-anchor="middle" font-family="'Liberation Sans', Arial, sans-serif" font-weight="bold" font-style="normal" font-size="28.5" fill="#ffffff" stroke="#ffffff" stroke-width="0.5">$121M</text>
<text transform="translate(1304.0,1105.6) scale(0.64,1)" text-anchor="middle" font-family="'Liberation Sans', Arial, sans-serif" font-weight="bold" font-style="normal" font-size="28.5" fill="#ffffff" stroke="#ffffff" stroke-width="0.5">AL</text>
<text transform="translate(1304.0,1134.6) scale(0.672,1)" text-anchor="middle" font-family="'Liberation Sans', Arial, sans-serif" font-weight="bold" font-style="normal" font-size="28.5" fill="#ffffff" stroke="#ffffff" stroke-width="0.5">$270M</text>
<text transform="translate(1405.5,1116.6) scale(0.64,1)" text-anchor="middle" font-family="'Liberation Sans', Arial, sans-serif" font-weight="bold" font-style="normal" font-size="28.5" fill="#ffffff" stroke="#ffffff" stroke-width="0.5">GA</text>
<text transform="translate(1405.5,1145.6) scale(0.672,1)" text-anchor="middle" font-family="'Liberation Sans', Arial, sans-serif" font-weight="bold" font-style="normal" font-size="28.5" fill="#ffffff" stroke="#ffffff" stroke-width="0.5">$121M</text>
<text transform="translate(1488.6,1074.6) scale(0.64,1)" text-anchor="middle" font-family="'Liberation Sans', Arial, sans-serif" font-weight="bold" font-style="normal" font-size="28.5" fill="#ffffff" stroke="#ffffff" stroke-width="0.5">SC</text>
<text transform="translate(1488.6,1103.6) scale(0.672,1)" text-anchor="middle" font-family="'Liberation Sans', Arial, sans-serif" font-weight="bold" font-style="normal" font-size="28.5" fill="#ffffff" stroke="#ffffff" stroke-width="0.5">$69M</text>
<text transform="translate(1462.0,1279.6) scale(0.64,1)" text-anchor="middle" font-family="'Liberation Sans', Arial, sans-serif" font-weight="bold" font-style="normal" font-size="28.5" fill="#ffffff" stroke="#ffffff" stroke-width="0.5">FL</text>
<text transform="translate(1462.0,1308.6) scale(0.672,1)" text-anchor="middle" font-family="'Liberation Sans', Arial, sans-serif" font-weight="bold" font-style="normal" font-size="28.5" fill="#ffffff" stroke="#ffffff" stroke-width="0.5">$447M</text>
<text transform="translate(1128.0,1166.8) scale(0.65,1)" text-anchor="middle" font-family="'Liberation Sans', Arial, sans-serif" font-weight="bold" font-style="normal" font-size="28.8" fill="#fff" >LA</text>
<text transform="translate(1173.0,1203.8) scale(0.68,1)" text-anchor="middle" font-family="'Liberation Sans', Arial, sans-serif" font-weight="bold" font-style="normal" font-size="28.8" fill="#fff" >$1.41B</text>
<text transform="translate(104.0,921.1) scale(0.64,1)" text-anchor="middle" font-family="'Liberation Sans', Arial, sans-serif" font-weight="bold" font-style="normal" font-size="28.5" fill="#b8a68c" stroke="#b8a68c" stroke-width="0.5">HI</text>
<text transform="translate(104.0,950.1) scale(0.672,1)" text-anchor="middle" font-family="'Liberation Sans', Arial, sans-serif" font-weight="bold" font-style="normal" font-size="28.5" fill="#b8a68c" stroke="#b8a68c" stroke-width="0.5">$31M</text>
<text transform="translate(1593.4,1222.9) scale(0.64,1)" text-anchor="middle" font-family="'Liberation Sans', Arial, sans-serif" font-weight="bold" font-style="normal" font-size="28.5" fill="#b8a68c" stroke="#b8a68c" stroke-width="0.5">PR</text>
<text transform="translate(1593.4,1251.9) scale(0.672,1)" text-anchor="middle" font-family="'Liberation Sans', Arial, sans-serif" font-weight="bold" font-style="normal" font-size="28.5" fill="#b8a68c" stroke="#b8a68c" stroke-width="0.5">$447M</text>
<text transform="translate(1664.0,1245.6) scale(0.64,1)" text-anchor="middle" font-family="'Liberation Sans', Arial, sans-serif" font-weight="bold" font-style="normal" font-size="28.5" fill="#b8a68c" stroke="#b8a68c" stroke-width="0.5">VI</text>
<text transform="translate(1664.0,1274.6) scale(0.672,1)" text-anchor="middle" font-family="'Liberation Sans', Arial, sans-serif" font-weight="bold" font-style="normal" font-size="28.5" fill="#b8a68c" stroke="#b8a68c" stroke-width="0.5">$35M</text>
<text transform="translate(2000.0,527.1) scale(0.64,1)" text-anchor="middle" font-family="'Liberation Sans', Arial, sans-serif" font-weight="bold" font-style="normal" font-size="28.5" fill="#b8a68c" stroke="#b8a68c" stroke-width="0.5">PE</text>
<text transform="translate(2000.0,556.1) scale(0.672,1)" text-anchor="middle" font-family="'Liberation Sans', Arial, sans-serif" font-weight="bold" font-style="normal" font-size="28.5" fill="#b8a68c" stroke="#b8a68c" stroke-width="0.5">$4M</text>
<text transform="translate(1815.0,750.8) scale(0.66,1)" text-anchor="start" font-family="'Liberation Sans', Arial, sans-serif" font-weight="bold" font-style="normal" font-size="28.8" fill="#b8a68c" >NH $4.30B</text>
<text transform="translate(1822.5,793.8) scale(0.66,1)" text-anchor="start" font-family="'Liberation Sans', Arial, sans-serif" font-weight="bold" font-style="normal" font-size="28.8" fill="#b8a68c" >MA&#160;&#160;$721M</text>
<text transform="translate(1779.5,819.8) scale(0.66,1)" text-anchor="start" font-family="'Liberation Sans', Arial, sans-serif" font-weight="bold" font-style="normal" font-size="28.8" fill="#b8a68c" >RI $221M</text>
<text transform="translate(1760.0,846.3) scale(0.66,1)" text-anchor="start" font-family="'Liberation Sans', Arial, sans-serif" font-weight="bold" font-style="normal" font-size="28.8" fill="#b8a68c" >CT $270M</text>
<text transform="translate(1697.5,873.8) scale(0.66,1)" text-anchor="start" font-family="'Liberation Sans', Arial, sans-serif" font-weight="bold" font-style="normal" font-size="28.8" fill="#b8a68c" >NJ $2.56B</text>
<text transform="translate(1691.0,904.8) scale(0.66,1)" text-anchor="start" font-family="'Liberation Sans', Arial, sans-serif" font-weight="bold" font-style="normal" font-size="28.8" fill="#b8a68c" >DE $443M</text>
<text transform="translate(1674.0,932.3) scale(0.66,1)" text-anchor="start" font-family="'Liberation Sans', Arial, sans-serif" font-weight="bold" font-style="normal" font-size="28.8" fill="#b8a68c" >MD $100M</text>
<text transform="translate(1675.0,959.8) scale(0.66,1)" text-anchor="start" font-family="'Liberation Sans', Arial, sans-serif" font-weight="bold" font-style="normal" font-size="28.8" fill="#b8a68c" >DC $1M</text>
<polyline points="1770.0,710.0 1800.0,739.0 1809.0,739.0" fill="none" stroke="#b8a68c" stroke-width="1.5" stroke-linejoin="round" stroke-linecap="round" />
<circle cx="1770" cy="710" r="3" fill="#b8a68c"/>
<polyline points="1777.0,760.0 1807.0,782.0 1816.0,782.0" fill="none" stroke="#b8a68c" stroke-width="1.5" stroke-linejoin="round" stroke-linecap="round" />
<circle cx="1777" cy="760" r="3" fill="#b8a68c"/>
<polyline points="1762.0,779.0 1767.0,809.0 1774.0,809.0" fill="none" stroke="#b8a68c" stroke-width="1.5" stroke-linejoin="round" stroke-linecap="round" />
<circle cx="1762" cy="779" r="3" fill="#b8a68c"/>
<polyline points="1731.0,780.0 1744.0,835.0 1754.0,835.0" fill="none" stroke="#b8a68c" stroke-width="1.5" stroke-linejoin="round" stroke-linecap="round" />
<circle cx="1731" cy="780" r="3" fill="#b8a68c"/>
<polyline points="1667.0,861.0 1694.0,861.0" fill="none" stroke="#b8a68c" stroke-width="1.5" stroke-linejoin="round" stroke-linecap="round" />
<circle cx="1667" cy="861" r="3" fill="#b8a68c"/>
<polyline points="1649.0,896.0 1685.0,892.0" fill="none" stroke="#b8a68c" stroke-width="1.5" stroke-linejoin="round" stroke-linecap="round" />
<circle cx="1649" cy="896" r="3" fill="#b8a68c"/>
<polyline points="1604.0,872.0 1660.0,922.0 1666.0,922.0" fill="none" stroke="#b8a68c" stroke-width="1.5" stroke-linejoin="round" stroke-linecap="round" />
<circle cx="1604" cy="872" r="3" fill="#b8a68c"/>
<polyline points="1590.0,883.0 1660.0,949.0 1668.0,949.0" fill="none" stroke="#b8a68c" stroke-width="1.5" stroke-linejoin="round" stroke-linecap="round" />
<circle cx="1590" cy="883" r="3" fill="#b8a68c"/>
<polyline points="2000.0,553.0 2000.0,582.0" fill="none" stroke="#b8a68c" stroke-width="1.5" stroke-linejoin="round" stroke-linecap="round" />
<circle cx="2000" cy="553" r="3" fill="#b8a68c"/>
<rect x="1585" y="879" width="9" height="9" fill="none" stroke="#b8a68c" stroke-width="1.5"/>
<circle cx="2000" cy="582" r="3" fill="#b8a68c"/>
<rect x="300.0" y="317.0" width="126.0" height="40.5" fill="#0bad96"/>
<path d="M313.5,326.5 V341.5" stroke="#fff" stroke-width="3"/>
<polygon points="308.0,340.0 319.0,340.0 313.5,348.5" fill="#fff"/>
<text x="326.5" y="347.3" textLength="86.0" lengthAdjust="spacingAndGlyphs" text-anchor="start" font-family="'Liberation Sans', Arial, sans-serif" font-weight="bold" font-style="normal" font-size="27" fill="#fff">14.59 TWH</text>
<rect x="911.5" y="334.5" width="123.5" height="41.0" fill="#0bad96"/>
<path d="M925.0,344.0 V359.0" stroke="#fff" stroke-width="3"/>
<polygon points="919.5,357.5 930.5,357.5 925.0,366.0" fill="#fff"/>
<text x="938.0" y="364.8" textLength="83.5" lengthAdjust="spacingAndGlyphs" text-anchor="start" font-family="'Liberation Sans', Arial, sans-serif" font-weight="bold" font-style="normal" font-size="27" fill="#fff">11.19 TWH</text>
<rect x="300.0" y="635.0" width="117.5" height="41.0" fill="#0bad96"/>
<path d="M313.5,666.5 V651.5" stroke="#fff" stroke-width="3"/>
<polygon points="308.0,653.0 319.0,653.0 313.5,644.5" fill="#fff"/>
<text x="326.5" y="665.3" textLength="77.5" lengthAdjust="spacingAndGlyphs" text-anchor="start" font-family="'Liberation Sans', Arial, sans-serif" font-weight="bold" font-style="normal" font-size="27" fill="#fff">9.17 TWH</text>
<rect x="911.0" y="608.0" width="116.5" height="41.0" fill="#0bad96"/>
<path d="M924.5,639.5 V624.5" stroke="#fff" stroke-width="3"/>
<polygon points="919.0,626.0 930.0,626.0 924.5,617.5" fill="#fff"/>
<text x="937.5" y="638.3" textLength="76.5" lengthAdjust="spacingAndGlyphs" text-anchor="start" font-family="'Liberation Sans', Arial, sans-serif" font-weight="bold" font-style="normal" font-size="27" fill="#fff">0.27 TWH</text>
<rect x="1366.0" y="638.0" width="120.0" height="41.5" fill="#0bad96"/>
<path d="M1379.5,647.5 V662.5" stroke="#fff" stroke-width="3"/>
<polygon points="1374.0,661.0 1385.0,661.0 1379.5,669.5" fill="#fff"/>
<text x="1392.5" y="668.3" textLength="80.0" lengthAdjust="spacingAndGlyphs" text-anchor="start" font-family="'Liberation Sans', Arial, sans-serif" font-weight="bold" font-style="normal" font-size="27" fill="#fff">6.81 TWH</text>
<rect x="1560.0" y="541.0" width="126.0" height="41.0" fill="#0bad96"/>
<path d="M1573.5,550.5 V565.5" stroke="#fff" stroke-width="3"/>
<polygon points="1568.0,564.0 1579.0,564.0 1573.5,572.5" fill="#fff"/>
<text x="1586.5" y="571.3" textLength="86.0" lengthAdjust="spacingAndGlyphs" text-anchor="start" font-family="'Liberation Sans', Arial, sans-serif" font-weight="bold" font-style="normal" font-size="27" fill="#fff">38.23 TWH</text>
<rect x="1799.0" y="474.5" width="119.5" height="41.0" fill="#0bad96"/>
<path d="M1812.5,484.0 V499.0" stroke="#fff" stroke-width="3"/>
<polygon points="1807.0,497.5 1818.0,497.5 1812.5,506.0" fill="#fff"/>
<text x="1825.5" y="504.8" textLength="79.5" lengthAdjust="spacingAndGlyphs" text-anchor="start" font-family="'Liberation Sans', Arial, sans-serif" font-weight="bold" font-style="normal" font-size="27" fill="#fff">1.31 TWH</text>
<rect x="1822.0" y="662.0" width="119.5" height="40.5" fill="#0bad96"/>
<path d="M1835.5,693.5 V678.5" stroke="#fff" stroke-width="3"/>
<polygon points="1830.0,680.0 1841.0,680.0 1835.5,671.5" fill="#fff"/>
<text x="1848.5" y="692.3" textLength="79.5" lengthAdjust="spacingAndGlyphs" text-anchor="start" font-family="'Liberation Sans', Arial, sans-serif" font-weight="bold" font-style="normal" font-size="27" fill="#fff">0.20 TWH</text>
<rect x="1365.0" y="787.5" width="117.5" height="41.0" fill="#0bad96"/>
<path d="M1378.5,819.0 V804.0" stroke="#fff" stroke-width="3"/>
<polygon points="1373.0,805.5 1384.0,805.5 1378.5,797.0" fill="#fff"/>
<text x="1391.5" y="817.8" textLength="77.5" lengthAdjust="spacingAndGlyphs" text-anchor="start" font-family="'Liberation Sans', Arial, sans-serif" font-weight="bold" font-style="normal" font-size="27" fill="#fff">0.09 TWH</text>
<rect x="1564.0" y="794.0" width="117.0" height="41.0" fill="#0bad96"/>
<path d="M1577.5,825.5 V810.5" stroke="#fff" stroke-width="3"/>
<polygon points="1572.0,812.0 1583.0,812.0 1577.5,803.5" fill="#fff"/>
<text x="1590.5" y="824.3" textLength="77.0" lengthAdjust="spacingAndGlyphs" text-anchor="start" font-family="'Liberation Sans', Arial, sans-serif" font-weight="bold" font-style="normal" font-size="27" fill="#fff">0.17 TWH</text>
<rect x="0" y="0" width="818" height="139" fill="#27363c"/>
<text x="41.9" y="96.6" textLength="612" lengthAdjust="spacingAndGlyphs" font-family="'Liberation Sans', Arial, sans-serif" font-weight="bold" font-size="73" fill="#fff" stroke="#fff" stroke-width="1.4" stroke-linejoin="round">U.S.-CANADA ENERGY TRADE</text>
<text x="678.6" y="97.3" textLength="102.0" lengthAdjust="spacingAndGlyphs" text-anchor="start" font-family="'Liberation Serif', 'Times New Roman', serif" font-weight="normal" font-style="italic" font-size="57" fill="#f2b48c">Map</text>
<rect x="818" y="0" width="1230" height="216.5" fill="#f9f1e8"/>
<rect x="964" y="0" width="1.3" height="216.5" fill="#ecdcc4"/>
<rect x="1144" y="0" width="1.3" height="216.5" fill="#ecdcc4"/>
<rect x="1278" y="0" width="1.3" height="216.5" fill="#ecdcc4"/>
<rect x="1683" y="0" width="1.3" height="216.5" fill="#ecdcc4"/>
<text x="834.2" y="48.4" textLength="112.0" lengthAdjust="spacingAndGlyphs" text-anchor="start" font-family="'Liberation Sans', Arial, sans-serif" font-weight="bold" font-style="normal" font-size="24" fill="#27363c">CROSS-BORDER</text>
<text x="834.2" y="72.7" textLength="115.0" lengthAdjust="spacingAndGlyphs" text-anchor="start" font-family="'Liberation Sans', Arial, sans-serif" font-weight="bold" font-style="normal" font-size="24" fill="#27363c">PIPELINE TYPES</text>
<rect x="835.7" y="88.4" width="58.2" height="19.1" fill="#e8cf85"/>
<text x="836.3" y="125.6" textLength="72.0" lengthAdjust="spacingAndGlyphs" text-anchor="start" font-family="'Liberation Sans', Arial, sans-serif" font-weight="bold" font-style="normal" font-size="19" fill="#27363c">NATURAL GAS</text>
<rect x="835.7" y="144.1" width="58.2" height="19.4" fill="#86d0de"/>
<text x="836.3" y="183.8" textLength="89.7" lengthAdjust="spacingAndGlyphs" text-anchor="start" font-family="'Liberation Sans', Arial, sans-serif" font-weight="bold" font-style="normal" font-size="19" fill="#27363c">PETROLEUM AND</text>
<text x="836.3" y="201.3" textLength="80.0" lengthAdjust="spacingAndGlyphs" text-anchor="start" font-family="'Liberation Sans', Arial, sans-serif" font-weight="bold" font-style="normal" font-size="19" fill="#27363c">OTHER LIQUIDS</text>
<text x="977.4" y="50.0" textLength="143.0" lengthAdjust="spacingAndGlyphs" text-anchor="start" font-family="'Liberation Sans', Arial, sans-serif" font-weight="bold" font-style="normal" font-size="24" fill="#27363c">ELECTRICITY TRADE</text>
<text x="977.4" y="70.2" font-family="'Liberation Serif', 'Times New Roman', serif" font-style="italic" font-size="24" fill="#27363c">in</text>
<text x="1000.7" y="70.2" textLength="109.0" lengthAdjust="spacingAndGlyphs" text-anchor="start" font-family="'Liberation Sans', Arial, sans-serif" font-weight="bold" font-style="normal" font-size="24" fill="#27363c">TERAWATT HRS</text>
<text x="977.4" y="91.4" textLength="56.6" lengthAdjust="spacingAndGlyphs" text-anchor="start" font-family="'Liberation Sans', Arial, sans-serif" font-weight="bold" font-style="normal" font-size="24" fill="#27363c">IN 2017</text>
<defs><filter id="blur6" x="-50%" y="-100%" width="200%" height="300%"><feGaussianBlur stdDeviation="6"/></filter></defs>
<ellipse cx="1046" cy="148" rx="52" ry="13" fill="#e6c66e" opacity="0.8" filter="url(#blur6)"/>
<rect x="1004.4" y="100.8" width="83.50000000000011" height="28.500000000000014" fill="#0bad96"/>
<path d="M1015.4,107.8 V118.30000000000001" stroke="#fff" stroke-width="2"/>
<polygon points="1011.9,117.30000000000001 1018.9,117.30000000000001 1015.4,122.80000000000001" fill="#fff"/>
<text x="1021.4" y="119.8" textLength="20.0" lengthAdjust="spacingAndGlyphs" text-anchor="start" font-family="'Liberation Sans', Arial, sans-serif" font-weight="bold" font-style="normal" font-size="15" fill="#fff">TWH</text>
<text x="1044.4" y="119.80000000000001" font-family="'Liberation Serif', 'Times New Roman', serif" font-style="italic" font-size="15" fill="#fff">to</text>
<text x="1057.4" y="119.8" textLength="24.0" lengthAdjust="spacingAndGlyphs" text-anchor="start" font-family="'Liberation Sans', Arial, sans-serif" font-weight="bold" font-style="normal" font-size="15" fill="#fff">U.S.</text>
<rect x="998.3" y="168" width="104.70000000000005" height="28.19999999999999" fill="#0bad96"/>
<path d="M1009.3,188.2 V179" stroke="#fff" stroke-width="2"/>
<polygon points="1005.8,180 1012.8,180 1009.3,174.5" fill="#fff"/>
<text x="1015.3" y="186.7" textLength="20.0" lengthAdjust="spacingAndGlyphs" text-anchor="start" font-family="'Liberation Sans', Arial, sans-serif" font-weight="bold" font-style="normal" font-size="15" fill="#fff">TWH</text>
<text x="1038.3" y="186.7" font-family="'Liberation Serif', 'Times New Roman', serif" font-style="italic" font-size="15" fill="#fff">to</text>
<text x="1051.3" y="186.7" textLength="41.0" lengthAdjust="spacingAndGlyphs" text-anchor="start" font-family="'Liberation Sans', Arial, sans-serif" font-weight="bold" font-style="normal" font-size="15" fill="#fff">CANADA</text>
<text x="1157.3" y="50.0" textLength="90.7" lengthAdjust="spacingAndGlyphs" text-anchor="start" font-family="'Liberation Sans', Arial, sans-serif" font-weight="bold" font-style="normal" font-size="24" fill="#27363c">ELECTRICITY</text>
<text x="1157.3" y="74.2" textLength="108.3" lengthAdjust="spacingAndGlyphs" text-anchor="start" font-family="'Liberation Sans', Arial, sans-serif" font-weight="bold" font-style="normal" font-size="24" fill="#27363c">TRANSMISSION</text>
<text x="1157.3" y="98.4" textLength="51.7" lengthAdjust="spacingAndGlyphs" text-anchor="start" font-family="'Liberation Sans', Arial, sans-serif" font-weight="bold" font-style="normal" font-size="24" fill="#27363c">POINTS</text>
<path d="M1223.66,124.86 A26.55,26.55 0 0 1 1216.72,174.27 M1197.13,170.82 A26.55,26.55 0 0 1 1198.74,124.86" fill="none" stroke="#0bad96" stroke-width="6.30"/>
<polygon points="1204.0,112.1 1225.6,112.1 1214.8,139.8 1229.2,139.8 1199.0,183.4 1211.2,153.0 1197.9,147.2" fill="#0bad96"/>
<text x="1300.4" y="49.4" textLength="237.4" lengthAdjust="spacingAndGlyphs" text-anchor="start" font-family="'Liberation Sans', Arial, sans-serif" font-weight="bold" font-style="normal" font-size="24" fill="#27363c">STATE/PROVINCE ENERGY TRADE</text>
<text x="1300.4" y="74.0" textLength="37.0" lengthAdjust="spacingAndGlyphs" text-anchor="start" font-family="'Liberation Serif', 'Times New Roman', serif" font-weight="normal" font-style="italic" font-size="23" fill="#27363c">with</text>
<text x="1344.0" y="74.0" textLength="97.0" lengthAdjust="spacingAndGlyphs" text-anchor="start" font-family="'Liberation Sans', Arial, sans-serif" font-weight="bold" font-style="normal" font-size="24" fill="#27363c">CANADA/U.S.</text>
<text x="1445.5" y="74.0" textLength="31.5" lengthAdjust="spacingAndGlyphs" text-anchor="start" font-family="'Liberation Serif', 'Times New Roman', serif" font-weight="normal" font-style="italic" font-size="23" fill="#27363c">as a</text>
<text x="1482.0" y="74.0" textLength="41.7" lengthAdjust="spacingAndGlyphs" text-anchor="start" font-family="'Liberation Sans', Arial, sans-serif" font-weight="bold" font-style="normal" font-size="24" fill="#27363c">RATIO</text>
<text x="1300.4" y="98.0" textLength="112.0" lengthAdjust="spacingAndGlyphs" text-anchor="start" font-family="'Liberation Sans', Arial, sans-serif" font-weight="bold" font-style="normal" font-size="24" fill="#27363c">OF GDP IN 2017</text>
<text x="1300.4" y="119.6" textLength="231.6" lengthAdjust="spacingAndGlyphs" text-anchor="start" font-family="'Liberation Serif', 'Times New Roman', serif" font-weight="normal" font-style="normal" font-size="17.5" fill="#3b4a50">the color coding of each state/</text>
<text x="1300.4" y="139.3" textLength="229.0" lengthAdjust="spacingAndGlyphs" text-anchor="start" font-family="'Liberation Serif', 'Times New Roman', serif" font-weight="normal" font-style="normal" font-size="17.5" fill="#3b4a50">province is an indicator of the</text>
<text x="1300.4" y="159.1" textLength="235.5" lengthAdjust="spacingAndGlyphs" text-anchor="start" font-family="'Liberation Serif', 'Times New Roman', serif" font-weight="normal" font-style="normal" font-size="17.5" fill="#3b4a50">relative importance of bilateral</text>
<text x="1300.4" y="178.8" textLength="218.4" lengthAdjust="spacingAndGlyphs" text-anchor="start" font-family="'Liberation Serif', 'Times New Roman', serif" font-weight="normal" font-style="normal" font-size="17.5" fill="#3b4a50">energy trade for its economy</text>
<rect x="1561.3" y="31.2" width="14.7" height="14" fill="#d08a87"/>
<text x="1582.0" y="45.3" textLength="57.0" lengthAdjust="spacingAndGlyphs" text-anchor="start" font-family="'Liberation Serif', 'Times New Roman', serif" font-weight="normal" font-style="normal" font-size="16.5" fill="#3b4a50">0–0.5%</text>
<rect x="1561.3" y="57.8" width="14.7" height="14" fill="#e3846c"/>
<text x="1582.0" y="71.9" textLength="71.0" lengthAdjust="spacingAndGlyphs" text-anchor="start" font-family="'Liberation Serif', 'Times New Roman', serif" font-weight="normal" font-style="normal" font-size="16.5" fill="#3b4a50">0.5–1.0%</text>
<rect x="1561.3" y="84.4" width="14.7" height="14" fill="#dc5535"/>
<text x="1582.0" y="98.5" textLength="71.0" lengthAdjust="spacingAndGlyphs" text-anchor="start" font-family="'Liberation Serif', 'Times New Roman', serif" font-weight="normal" font-style="normal" font-size="16.5" fill="#3b4a50">1.0–2.5%</text>
<rect x="1561.3" y="111.0" width="14.7" height="14" fill="#9b2024"/>
<text x="1582.0" y="125.1" textLength="71.0" lengthAdjust="spacingAndGlyphs" text-anchor="start" font-family="'Liberation Serif', 'Times New Roman', serif" font-weight="normal" font-style="normal" font-size="16.5" fill="#3b4a50">2.5–5.0%</text>
<rect x="1561.3" y="137.6" width="14.7" height="14" fill="#752221"/>
<text x="1582.0" y="151.7" textLength="81.0" lengthAdjust="spacingAndGlyphs" text-anchor="start" font-family="'Liberation Serif', 'Times New Roman', serif" font-weight="normal" font-style="normal" font-size="16.5" fill="#3b4a50">5.0–15.0%</text>
<rect x="1561.3" y="164.2" width="14.7" height="14" fill="#4a1312"/>
<text x="1582.0" y="178.3" textLength="57.0" lengthAdjust="spacingAndGlyphs" text-anchor="start" font-family="'Liberation Serif', 'Times New Roman', serif" font-weight="normal" font-style="normal" font-size="16.5" fill="#3b4a50">15.0+%</text>
<text x="1710.6" y="51.3" textLength="310.6" lengthAdjust="spacingAndGlyphs" text-anchor="start" font-family="'Liberation Sans', Arial, sans-serif" font-weight="bold" font-style="normal" font-size="24" fill="#27363c">DOLLAR VALUES ON EACH STATE/PROVINCE</text>
<text x="1712.5" y="79.0" textLength="278.5" lengthAdjust="spacingAndGlyphs" text-anchor="start" font-family="'Liberation Serif', 'Times New Roman', serif" font-weight="normal" font-style="normal" font-size="17.5" fill="#3b4a50">represents the gross value of energy</text>
<text x="1712.5" y="98.8" textLength="300.0" lengthAdjust="spacingAndGlyphs" text-anchor="start" font-family="'Liberation Serif', 'Times New Roman', serif" font-weight="normal" font-style="normal" font-size="17.5" fill="#3b4a50">imports and exports&#160; with Canada/U.S.</text>
<text x="1712.5" y="118.5" textLength="296.2" lengthAdjust="spacingAndGlyphs" text-anchor="start" font-family="'Liberation Serif', 'Times New Roman', serif" font-weight="normal" font-style="normal" font-size="17.5" fill="#3b4a50">in 2017 across the following commod-</text>
<text x="1712.5" y="138.2" textLength="298.9" lengthAdjust="spacingAndGlyphs" text-anchor="start" font-family="'Liberation Serif', 'Times New Roman', serif" font-weight="normal" font-style="normal" font-size="17.5" fill="#3b4a50">ity groups: crude oil, refined petroleum</text>
<text x="1712.5" y="158.0" textLength="286.7" lengthAdjust="spacingAndGlyphs" text-anchor="start" font-family="'Liberation Serif', 'Times New Roman', serif" font-weight="normal" font-style="normal" font-size="17.5" fill="#3b4a50">products, natural gas, electricity, coal,</text>
<text x="1712.5" y="177.8" textLength="199.3" lengthAdjust="spacingAndGlyphs" text-anchor="start" font-family="'Liberation Serif', 'Times New Roman', serif" font-weight="normal" font-style="normal" font-size="17.5" fill="#3b4a50">uranium, and fuel ethanol</text>
<rect x="1145" y="223.5" width="787" height="228.5" fill="#f9f1e8"/>
<rect x="1276.2" y="223.5" width="1.3" height="228.5" fill="#ecdcc4"/>
<rect x="1787.2" y="223.5" width="1.3" height="228.5" fill="#ecdcc4"/>
<rect x="1466" y="223.5" width="1.3" height="113" fill="#ecdcc4"/>
<rect x="1563.2" y="336" width="1.3" height="116" fill="#ecdcc4"/>
<rect x="1276.2" y="336" width="511" height="1.3" fill="#ecdcc4"/>
<text x="1172.0" y="279.3" textLength="38.0" lengthAdjust="spacingAndGlyphs" text-anchor="start" font-family="'Liberation Sans', Arial, sans-serif" font-weight="bold" font-style="normal" font-size="27.3" fill="#27363c">U.S.-</text>
<text x="1172.0" y="308.0" textLength="66.6" lengthAdjust="spacingAndGlyphs" text-anchor="start" font-family="'Liberation Sans', Arial, sans-serif" font-weight="bold" font-style="normal" font-size="27.3" fill="#27363c">CANADA</text>
<text x="1172.0" y="335.7" textLength="62.7" lengthAdjust="spacingAndGlyphs" text-anchor="start" font-family="'Liberation Sans', Arial, sans-serif" font-weight="bold" font-style="normal" font-size="27.3" fill="#27363c">ENERGY</text>
<text x="1172.0" y="363.4" textLength="53.1" lengthAdjust="spacingAndGlyphs" text-anchor="start" font-family="'Liberation Sans', Arial, sans-serif" font-weight="bold" font-style="normal" font-size="27.3" fill="#27363c">TRADE</text>
<text x="1172.0" y="386.5" textLength="49.0" lengthAdjust="spacingAndGlyphs" text-anchor="start" font-family="'Liberation Serif', 'Times New Roman', serif" font-weight="normal" font-style="italic" font-size="27" fill="#27363c">as of</text>
<text x="1172.0" y="415.0" textLength="42.8" lengthAdjust="spacingAndGlyphs" text-anchor="start" font-family="'Liberation Sans', Arial, sans-serif" font-weight="bold" font-style="normal" font-size="27.3" fill="#27363c">2017</text>
<text x="1296.5" y="272.5" textLength="48.5" lengthAdjust="spacingAndGlyphs" text-anchor="start" font-family="'Liberation Sans', Arial, sans-serif" font-weight="bold" font-style="normal" font-size="38" fill="#27363c">$95</text>
<text x="1351.3" y="275.2" textLength="63.5" lengthAdjust="spacingAndGlyphs" text-anchor="start" font-family="'Liberation Sans', Arial, sans-serif" font-weight="bold" font-style="normal" font-size="29" fill="#d9502f">BILLION</text>
<text x="1296.5" y="299.2" textLength="131.8" lengthAdjust="spacingAndGlyphs" text-anchor="start" font-family="'Liberation Serif', 'Times New Roman', serif" font-weight="normal" font-style="normal" font-size="18.5" fill="#3b4a50">in yearly bilateral</text>
<text x="1296.5" y="319.8" textLength="93.0" lengthAdjust="spacingAndGlyphs" text-anchor="start" font-family="'Liberation Serif', 'Times New Roman', serif" font-weight="normal" font-style="normal" font-size="18.5" fill="#3b4a50">energy trade.</text>
<text x="1490.2" y="275.2" textLength="32.4" lengthAdjust="spacingAndGlyphs" text-anchor="start" font-family="'Liberation Sans', Arial, sans-serif" font-weight="bold" font-style="normal" font-size="40" fill="#27363c">82</text>
<text x="1529.1" y="275.2" textLength="125.3" lengthAdjust="spacingAndGlyphs" text-anchor="start" font-family="'Liberation Sans', Arial, sans-serif" font-weight="bold" font-style="normal" font-size="27" fill="#d9502f">TERAWATT HRS</text>
<polygon points="1671,236.5 1684.5,236.5 1679,252 1686.8,252 1668.3,277.5 1673.4,255.5 1667.6,255.5" fill="#27363c"/>
<text x="1490.2" y="299.5" textLength="191.5" lengthAdjust="spacingAndGlyphs" text-anchor="start" font-family="'Liberation Serif', 'Times New Roman', serif" font-weight="normal" font-style="normal" font-size="18.5" fill="#3b4a50">of electricity trade across</text>
<text x="1686.0" y="299.5" textLength="22.0" lengthAdjust="spacingAndGlyphs" text-anchor="start" font-family="'Liberation Serif', 'Times New Roman', serif" font-weight="normal" font-style="italic" font-size="24" fill="#27363c">34</text>
<text x="1715.0" y="299.5" textLength="42.0" lengthAdjust="spacingAndGlyphs" text-anchor="start" font-family="'Liberation Serif', 'Times New Roman', serif" font-weight="normal" font-style="italic" font-size="18.5" fill="#27363c">major</text>
<text x="1490.2" y="320.4" textLength="221.4" lengthAdjust="spacingAndGlyphs" text-anchor="start" font-family="'Liberation Serif', 'Times New Roman', serif" font-weight="normal" font-style="italic" font-size="18.5" fill="#27363c">electricity transmission points.</text>
<text x="1296.5" y="385.7" textLength="56.5" lengthAdjust="spacingAndGlyphs" text-anchor="start" font-family="'Liberation Sans', Arial, sans-serif" font-weight="bold" font-style="normal" font-size="38" fill="#27363c">4.86</text>
<text x="1361.6" y="388.8" textLength="66.7" lengthAdjust="spacingAndGlyphs" text-anchor="start" font-family="'Liberation Sans', Arial, sans-serif" font-weight="bold" font-style="normal" font-size="29" fill="#d9502f">MILLION</text>
<rect x="1444.5" y="350" width="23.5" height="39.5" rx="4" fill="#27363c"/>
<ellipse cx="1456.2" cy="351.5" rx="11.7" ry="2.6" fill="#4b5a60"/>
<path d="M1444.5,363 H1468 M1444.5,376 H1468" stroke="#4b5a60" stroke-width="1"/>
<text x="1296.5" y="413.5" textLength="257.5" lengthAdjust="spacingAndGlyphs" text-anchor="start" font-family="'Liberation Serif', 'Times New Roman', serif" font-weight="normal" font-style="normal" font-size="18.5" fill="#3b4a50">barrels of crude oil and petroleum</text>
<text x="1296.5" y="434.9" textLength="163.5" lengthAdjust="spacingAndGlyphs" text-anchor="start" font-family="'Liberation Serif', 'Times New Roman', serif" font-weight="normal" font-style="normal" font-size="18.5" fill="#3b4a50">products traded daily.</text>
<text x="1582.9" y="388.8" textLength="70.8" lengthAdjust="spacingAndGlyphs" text-anchor="start" font-family="'Liberation Sans', Arial, sans-serif" font-weight="bold" font-style="normal" font-size="40" fill="#27363c">10.63</text>
<text x="1663.0" y="388.8" textLength="62.6" lengthAdjust="spacingAndGlyphs" text-anchor="start" font-family="'Liberation Sans', Arial, sans-serif" font-weight="bold" font-style="normal" font-size="29" fill="#d9502f">BILLION</text>
<path d="M1748,388.8 C1738,386 1736,376 1742,368 C1744,373 1747,374 1748,372 C1746,366 1750,360 1754,358.7 C1753,364 1756,368 1760,370 C1761,367 1762,366 1762,364 C1767,370 1768,380 1761,388.8 Z" fill="#27363c"/>
<path d="M1748,388.8 C1745,384 1748,379 1752,377 C1752,381 1755,383 1757,381 C1759,384 1758,387 1756,388.8 Z" fill="#f9f1e8"/>
<rect x="1738.3" y="386.5" width="28" height="2.6" fill="#27363c"/>
<text x="1580.6" y="413.2" textLength="151.9" lengthAdjust="spacingAndGlyphs" text-anchor="start" font-family="'Liberation Serif', 'Times New Roman', serif" font-weight="normal" font-style="normal" font-size="18.5" fill="#3b4a50">cubic feet of natural</text>
<text x="1580.6" y="434.0" textLength="121.8" lengthAdjust="spacingAndGlyphs" text-anchor="start" font-family="'Liberation Serif', 'Times New Roman', serif" font-weight="normal" font-style="normal" font-size="18.5" fill="#3b4a50">gas traded daily.</text>
<g fill="#27363c" stroke="#fff" stroke-width="1.2"><rect x="1806.5" y="250" width="15.5" height="24" rx="4"/><rect x="1862.5" y="250" width="15.5" height="24" rx="4"/><rect x="1821" y="254" width="42" height="16"/><circle cx="1842.3" cy="262" r="12.5"/></g>
<rect x="1831" y="238.8" width="23" height="3" fill="#27363c"/>
<rect x="1840.6" y="240" width="3.4" height="10" fill="#27363c"/>
<rect x="1822.5" y="254.6" width="39" height="14.8" fill="#27363c"/>
<text x="1802.8" y="323.9" textLength="31.8" lengthAdjust="spacingAndGlyphs" text-anchor="start" font-family="'Liberation Sans', Arial, sans-serif" font-weight="bold" font-style="normal" font-size="42" fill="#27363c">70</text>
<text x="1802.8" y="344.8" textLength="94.4" lengthAdjust="spacingAndGlyphs" text-anchor="start" font-family="'Liberation Serif', 'Times New Roman', serif" font-weight="normal" font-style="normal" font-size="18.5" fill="#3b4a50">cross-border</text>
<text x="1802.8" y="365.7" textLength="86.3" lengthAdjust="spacingAndGlyphs" text-anchor="start" font-family="'Liberation Serif', 'Times New Roman', serif" font-weight="normal" font-style="normal" font-size="18.5" fill="#3b4a50">natural gas,</text>
<text x="1802.8" y="386.6" textLength="110.6" lengthAdjust="spacingAndGlyphs" text-anchor="start" font-family="'Liberation Serif', 'Times New Roman', serif" font-weight="normal" font-style="normal" font-size="18.5" fill="#3b4a50">petroleum and</text>
<text x="1802.8" y="407.5" textLength="88.7" lengthAdjust="spacingAndGlyphs" text-anchor="start" font-family="'Liberation Serif', 'Times New Roman', serif" font-weight="normal" font-style="normal" font-size="18.5" fill="#3b4a50">other liquid</text>
<text x="1802.8" y="428.4" textLength="72.4" lengthAdjust="spacingAndGlyphs" text-anchor="start" font-family="'Liberation Serif', 'Times New Roman', serif" font-weight="normal" font-style="normal" font-size="18.5" fill="#3b4a50">pipelines.</text>
<text x="50.0" y="1416.0" textLength="107.5" lengthAdjust="spacingAndGlyphs" text-anchor="start" font-family="'Liberation Serif', 'Times New Roman', serif" font-weight="normal" font-style="normal" font-size="56" fill="#ffffff">CSIS</text>
<rect x="177.3" y="1373" width="1.6" height="49" fill="#ffffff"/>
<text x="198.5" y="1395.0" textLength="214.0" lengthAdjust="spacingAndGlyphs" text-anchor="start" font-family="'Liberation Sans', Arial, sans-serif" font-weight="normal" font-style="normal" font-size="18.5" fill="#ffffff">CENTER FOR STRATEGIC &amp;</text>
<text x="198.5" y="1417.0" textLength="209.0" lengthAdjust="spacingAndGlyphs" text-anchor="start" font-family="'Liberation Sans', Arial, sans-serif" font-weight="normal" font-style="normal" font-size="18.5" fill="#ffffff">INTERNATIONAL STUDIES</text>
<text x="460.0" y="1416.0" textLength="180.0" lengthAdjust="spacingAndGlyphs" text-anchor="start" font-family="'Liberation Serif', 'Times New Roman', serif" font-weight="bold" font-style="normal" font-size="60" fill="#ffffff">Canada</text>
<rect x="612.5" y="1377.5" width="7" height="11.5" fill="#e5262b"/><rect x="631" y="1377.5" width="7" height="11.5" fill="#e5262b"/>
<polygon points="625.7,1377.5 627.5,1381 630,1380 629,1385.5 626.5,1385 626.5,1389 625,1389 625,1385 622.5,1385.5 621.5,1380 624,1381" fill="#e5262b"/>
<text x="696.5" y="1386.5" font-family="'Liberation Serif', 'Times New Roman', serif" font-size="13.6" fill="#e9e4de" textLength="1309" lengthAdjust="spacingAndGlyphs"><tspan font-family="'Liberation Sans', Arial, sans-serif" font-weight="bold">SOURCES:</tspan> Gross bilateral commodity trade values and electricity transmission points—<tspan font-style="italic">U.S. Energy Information Administration (EIA)</tspan>; Energy trade values by commodity and Canadian province and territory GDP—<tspan font-style="italic">Statistics</tspan></text>
<text x="696.5" y="1403" font-family="'Liberation Serif', 'Times New Roman', serif" font-size="13.6" fill="#e9e4de" textLength="1285" lengthAdjust="spacingAndGlyphs"><tspan font-style="italic">Canada (StatCan)</tspan>; U.S. state GDP—<tspan font-style="italic">U.S. Bureau of Economic Analysis (BEA)</tspan>; Electricity trade data - Canadian National Energy Board (NEB); Cross-border pipeline mapping data collected from each pipeline operator;</text>
<text x="696.5" y="1419.5" font-family="'Liberation Serif', 'Times New Roman', serif" font-size="13.6" fill="#e9e4de" textLength="585" lengthAdjust="spacingAndGlyphs">Timeline information collated using multiple sources from the U.S. and Canadian governments.</text>
<text x="1839.0" y="1322.5" textLength="165.0" lengthAdjust="spacingAndGlyphs" text-anchor="start" font-family="'Liberation Serif', 'Times New Roman', serif" font-weight="normal" font-style="normal" font-size="22.5" fill="#27363c">*Currency in USD</text></svg></body></html>
